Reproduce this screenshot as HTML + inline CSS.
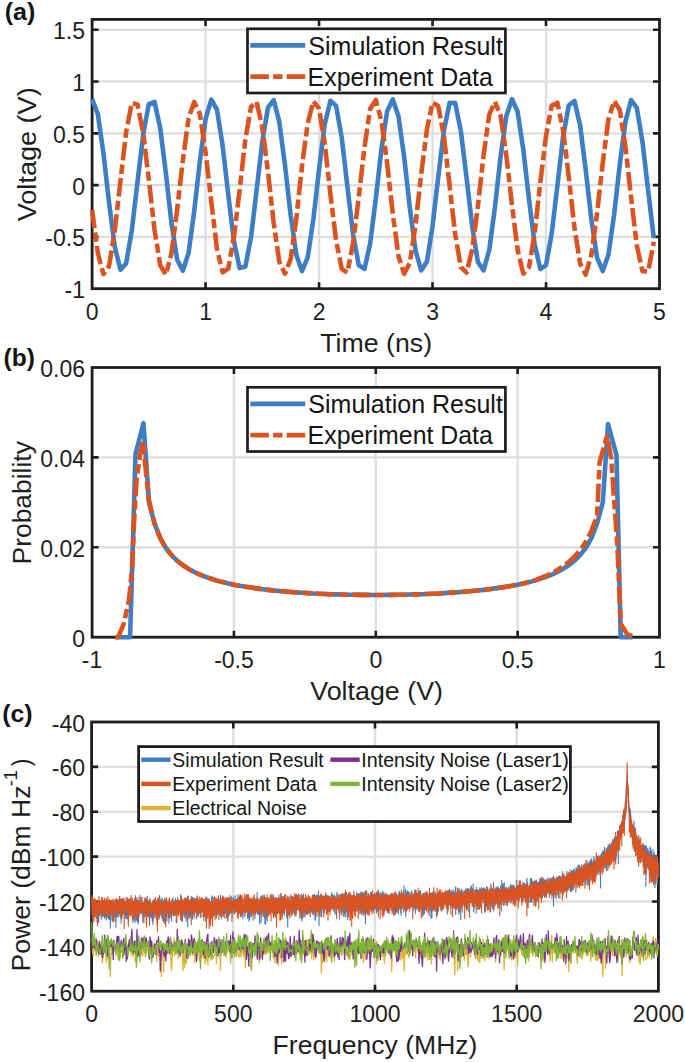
<!DOCTYPE html>
<html><head><meta charset="utf-8"><style>html,body{margin:0;padding:0;background:#fff;}svg{display:block;}</style></head>
<body><svg width="685" height="1062" viewBox="0 0 685 1062" font-family="'Liberation Sans', sans-serif"><defs>
<clipPath id="ca"><rect x="92.1" y="19.4" width="567.4" height="269.3"/></clipPath>
<clipPath id="cb"><rect x="92.1" y="367.5" width="567.4" height="269.70000000000005"/></clipPath>
<clipPath id="cc"><rect x="91.6" y="722.0" width="566.8" height="269.20000000000005"/></clipPath>
</defs>
<path d="M92.10 19.40V288.70M205.58 19.40V288.70M319.06 19.40V288.70M432.54 19.40V288.70M546.02 19.40V288.70M659.50 19.40V288.70M92.10 288.70H659.50M92.10 236.91H659.50M92.10 185.12H659.50M92.10 133.33H659.50M92.10 81.55H659.50M92.10 29.76H659.50" stroke="#dedede" stroke-width="2.4" fill="none"/>
<path d="M205.58 288.70v-6.5M205.58 19.40v6.5M319.06 288.70v-6.5M319.06 19.40v6.5M432.54 288.70v-6.5M432.54 19.40v6.5M546.02 288.70v-6.5M546.02 19.40v6.5M92.10 236.91h6.5M659.50 236.91h-6.5M92.10 185.12h6.5M659.50 185.12h-6.5M92.10 133.33h6.5M659.50 133.33h-6.5M92.10 81.55h6.5M659.50 81.55h-6.5M92.10 29.76h6.5M659.50 29.76h-6.5" stroke="#1e1e1e" stroke-width="2.6" fill="none"/>
<rect x="92.10" y="19.40" width="567.40" height="269.30" stroke="#1e1e1e" stroke-width="2.8" fill="none"/>
<g>
<path d="M92.1 99.2L97.8 113.9L103.4 153.0L109.1 203.1L114.8 247.0L120.5 269.8L126.1 263.6L131.8 230.5L137.5 181.9L143.2 134.4L148.8 104.2L154.5 101.8L160.2 127.9L165.9 173.5L171.5 223.2L177.2 259.8L182.9 270.8L188.6 252.6L194.2 211.2L199.9 160.9L205.6 118.9L211.3 99.6L216.9 109.5L222.6 145.4L228.3 194.8L233.9 241.0L239.6 268.0L245.3 266.6L251.0 237.4L256.6 190.3L262.3 141.4L268.0 107.5L273.7 100.1L279.3 121.9L285.0 165.3L290.7 215.5L296.4 255.3L302.0 271.1L307.7 257.4L313.4 219.0L319.1 169.0L324.7 124.5L330.4 100.8L336.1 105.9L341.8 138.2L347.4 186.5L353.1 234.3L358.8 265.3L364.5 268.9L370.1 243.8L375.8 198.6L381.5 148.8L387.1 111.4L392.8 99.3L398.5 116.5L404.2 157.3L409.8 207.5L415.5 250.1L421.2 270.5L426.9 261.6L432.5 226.5L438.2 177.3L443.9 130.7L449.6 102.8L455.2 103.0L460.9 131.4L466.6 178.1L472.3 227.2L477.9 262.0L483.6 270.4L489.3 249.6L495.0 206.8L500.6 156.5L506.3 116.1L512.0 99.2L517.6 111.8L523.3 149.5L529.0 199.4L534.7 244.4L540.3 269.1L546.0 265.1L551.7 233.7L557.4 185.7L563.0 137.5L568.7 105.6L574.4 100.9L580.1 125.1L585.7 169.8L591.4 219.8L597.1 257.9L602.8 271.0L608.4 254.8L614.1 214.8L619.8 164.5L625.5 121.4L631.1 100.0L636.8 107.8L642.5 142.1L648.2 191.1L653.8 238.0" fill="none" stroke="#3d7ec4" stroke-width="4.6" stroke-linejoin="round"/>
<path d="M92.1 209.8L97.8 252.8L103.4 274.2L109.1 265.9L114.8 230.2L120.5 180.7L126.1 132.5L131.8 102.9L137.5 104.4L143.2 133.1L148.8 179.5L154.5 229.5L160.2 265.1L165.9 274.7L171.5 253.1L177.2 209.2L182.9 159.9L188.6 118.0L194.2 101.9L199.9 113.9L205.6 152.4L211.3 201.6L216.9 248.3L222.6 272.3L228.3 268.5L233.9 237.1L239.6 190.4L245.3 139.9L251.0 106.9L256.6 101.8L262.3 127.5L268.0 171.9L273.7 223.0L279.3 261.6L285.0 273.7L290.7 259.0L296.4 217.9L302.0 166.2L307.7 123.5L313.4 101.2L319.1 108.7L324.7 143.3L330.4 194.0L336.1 240.7L341.8 269.1L347.4 272.6L353.1 243.0L358.8 196.7L364.5 147.2L370.1 108.9L375.8 100.0L381.5 121.5L387.1 163.1L392.8 213.7L398.5 256.2L404.2 273.8L409.8 263.0L415.5 225.1L421.2 174.1L426.9 129.6L432.5 102.6L438.2 105.9L443.9 136.1L449.6 185.5L455.2 234.3L460.9 267.3L466.6 272.5L472.3 249.0L477.9 206.3L483.6 155.1L489.3 114.4L495.0 101.8L500.6 115.7L506.3 155.3L512.0 205.0L517.6 249.9L523.3 273.7L529.0 267.1L534.7 233.3L540.3 182.4L546.0 135.9L551.7 105.5L557.4 102.7L563.0 129.7L568.7 176.2L574.4 227.3L580.1 263.4L585.7 274.7L591.4 254.6L597.1 212.9L602.8 162.4L608.4 119.4L614.1 100.8L619.8 110.0L625.5 147.4L631.1 197.2L636.8 245.4L642.5 271.3L648.2 271.4L653.8 241.8" fill="none" stroke="#d95420" stroke-width="4.6" stroke-linejoin="round" stroke-dasharray="18.6 4.2 9.4 4.2"/>
</g>
<text x="92.10" y="319.50" text-anchor="middle" font-size="23" fill="#1e1e1e">0</text>
<text x="205.58" y="319.50" text-anchor="middle" font-size="23" fill="#1e1e1e">1</text>
<text x="319.06" y="319.50" text-anchor="middle" font-size="23" fill="#1e1e1e">2</text>
<text x="432.54" y="319.50" text-anchor="middle" font-size="23" fill="#1e1e1e">3</text>
<text x="546.02" y="319.50" text-anchor="middle" font-size="23" fill="#1e1e1e">4</text>
<text x="659.50" y="319.50" text-anchor="middle" font-size="23" fill="#1e1e1e">5</text>
<text x="85.00" y="298.20" text-anchor="end" font-size="23" fill="#1e1e1e">-1</text>
<text x="85.00" y="246.41" text-anchor="end" font-size="23" fill="#1e1e1e">-0.5</text>
<text x="85.00" y="194.62" text-anchor="end" font-size="23" fill="#1e1e1e">0</text>
<text x="85.00" y="142.83" text-anchor="end" font-size="23" fill="#1e1e1e">0.5</text>
<text x="85.00" y="91.05" text-anchor="end" font-size="23" fill="#1e1e1e">1</text>
<text x="85.00" y="39.26" text-anchor="end" font-size="23" fill="#1e1e1e">1.5</text>
<path d="M92.10 367.50V637.20M233.95 367.50V637.20M375.80 367.50V637.20M517.65 367.50V637.20M659.50 367.50V637.20M92.10 637.20H659.50M92.10 547.30H659.50M92.10 457.40H659.50M92.10 367.50H659.50" stroke="#dedede" stroke-width="2.4" fill="none"/>
<path d="M233.95 637.20v-6.5M233.95 367.50v6.5M375.80 637.20v-6.5M375.80 367.50v6.5M517.65 637.20v-6.5M517.65 367.50v6.5M92.10 547.30h6.5M659.50 547.30h-6.5M92.10 457.40h6.5M659.50 457.40h-6.5" stroke="#1e1e1e" stroke-width="2.6" fill="none"/>
<rect x="92.10" y="367.50" width="567.40" height="269.70" stroke="#1e1e1e" stroke-width="2.8" fill="none"/>
<g>
<path d="M115.6 637.2L130.1 637.2L135.5 454.3L143.4 423.2L149.1 502.8L154.5 523.4L160.2 538.1L165.9 548.0L171.5 555.2L177.2 560.8L182.9 565.3L188.6 568.9L194.2 572.0L199.9 574.6L205.6 576.9L211.3 578.8L216.9 580.6L222.6 582.1L228.3 583.4L234.0 584.7L239.6 585.8L245.3 586.7L251.0 587.6L256.6 588.4L262.3 589.2L268.0 589.9L273.7 590.5L279.3 591.0L285.0 591.5L290.7 592.0L296.4 592.4L302.0 592.8L307.7 593.1L313.4 593.5L319.1 593.7L324.7 594.0L330.4 594.2L336.1 594.4L341.8 594.5L347.4 594.7L353.1 594.8L358.8 594.9L364.5 594.9L370.1 595.0L375.8 595.0L381.5 595.0L387.1 594.9L392.8 594.9L398.5 594.8L404.2 594.7L409.8 594.5L415.5 594.4L421.2 594.2L426.9 594.0L432.5 593.7L438.2 593.5L443.9 593.1L449.6 592.8L455.2 592.4L460.9 592.0L466.6 591.5L472.3 591.0L477.9 590.5L483.6 589.9L489.3 589.2L495.0 588.4L500.6 587.6L506.3 586.7L512.0 585.8L517.7 584.7L523.3 583.4L529.0 582.1L534.7 580.6L540.3 578.8L546.0 576.9L551.7 574.6L557.4 572.0L563.0 568.9L568.7 565.3L574.4 560.8L580.1 555.2L585.7 548.0L591.4 538.1L597.1 523.4L602.8 502.4L608.0 424.1L616.5 455.2L620.7 637.2L632.4 637.2" fill="none" stroke="#3d7ec4" stroke-width="4.6" stroke-linejoin="round"/>
<path d="M115.6 637.2L118.2 637.2L123.9 623.3L129.0 599.9L132.1 568.4L134.4 515.4L136.6 479.9L139.8 456.1L142.9 441.2L148.8 500.1L154.5 523.4L160.2 538.1L165.9 548.0L171.5 555.2L177.2 560.8L182.9 565.3L188.6 568.9L194.2 572.0L199.9 574.6L205.6 576.9L211.3 578.8L216.9 580.6L222.6 582.1L228.3 583.4L234.0 584.7L239.6 585.8L245.3 586.7L251.0 587.6L256.6 588.4L262.3 589.2L268.0 589.9L273.7 590.5L279.3 591.0L285.0 591.5L290.7 592.0L296.4 592.4L302.0 592.8L307.7 593.1L313.4 593.5L319.1 593.7L324.7 594.0L330.4 594.2L336.1 594.4L341.8 594.5L347.4 594.7L353.1 594.8L358.8 594.9L364.5 594.9L370.1 595.0L375.8 595.0L381.5 595.0L387.1 594.9L392.8 594.9L398.5 594.8L404.2 594.7L409.8 594.5L415.5 594.4L421.2 594.2L426.9 594.0L432.5 593.7L438.2 593.5L443.9 593.1L449.6 592.8L455.2 592.4L460.9 592.0L466.6 591.5L472.3 591.0L477.9 590.5L483.6 589.9L489.3 589.2L495.0 588.4L500.6 587.6L506.3 586.7L512.0 585.8L517.7 584.7L523.3 583.4L529.0 582.1L534.7 580.4L540.3 578.2L546.0 575.8L551.7 573.1L557.4 570.0L563.0 566.3L568.7 562.0L574.4 556.8L580.1 550.4L585.7 542.0L591.4 531.1L597.1 515.5L599.6 462.3L607.0 435.8L611.2 458.3L617.5 547.3L620.7 623.7L627.2 634.1L634.5 637.2" fill="none" stroke="#d95420" stroke-width="4.6" stroke-linejoin="round" stroke-dasharray="18.6 4.2 9.4 4.2"/>
</g>
<text x="92.10" y="668.00" text-anchor="middle" font-size="23" fill="#1e1e1e">-1</text>
<text x="233.95" y="668.00" text-anchor="middle" font-size="23" fill="#1e1e1e">-0.5</text>
<text x="375.80" y="668.00" text-anchor="middle" font-size="23" fill="#1e1e1e">0</text>
<text x="517.65" y="668.00" text-anchor="middle" font-size="23" fill="#1e1e1e">0.5</text>
<text x="659.50" y="668.00" text-anchor="middle" font-size="23" fill="#1e1e1e">1</text>
<text x="85.00" y="646.70" text-anchor="end" font-size="23" fill="#1e1e1e">0</text>
<text x="85.00" y="556.80" text-anchor="end" font-size="23" fill="#1e1e1e">0.02</text>
<text x="85.00" y="466.90" text-anchor="end" font-size="23" fill="#1e1e1e">0.04</text>
<text x="85.00" y="377.00" text-anchor="end" font-size="23" fill="#1e1e1e">0.06</text>
<path d="M91.60 722.00V991.20M233.30 722.00V991.20M375.00 722.00V991.20M516.70 722.00V991.20M658.40 722.00V991.20M91.60 991.20H658.40M91.60 946.33H658.40M91.60 901.47H658.40M91.60 856.60H658.40M91.60 811.73H658.40M91.60 766.87H658.40M91.60 722.00H658.40" stroke="#dedede" stroke-width="2.4" fill="none"/>
<path d="M233.30 991.20v-6.5M233.30 722.00v6.5M375.00 991.20v-6.5M375.00 722.00v6.5M516.70 991.20v-6.5M516.70 722.00v6.5M91.60 946.33h6.5M658.40 946.33h-6.5M91.60 901.47h6.5M658.40 901.47h-6.5M91.60 856.60h6.5M658.40 856.60h-6.5M91.60 811.73h6.5M658.40 811.73h-6.5M91.60 766.87h6.5M658.40 766.87h-6.5" stroke="#1e1e1e" stroke-width="2.6" fill="none"/>
<rect x="91.60" y="722.00" width="566.80" height="269.20" stroke="#1e1e1e" stroke-width="2.8" fill="none"/>
<g>
<path d="M91.6 901.0L91.7 898.6L91.8 904.0L91.9 907.3L92.0 909.3L92.1 905.0L92.2 914.2L92.3 908.2L92.4 907.1L92.5 903.8L92.5 907.9L92.6 909.0L92.7 914.8L92.8 921.9L92.9 919.0L93.0 913.0L93.1 907.7L93.2 902.6L93.3 908.7L93.4 909.2L93.5 903.2L93.6 908.6L93.7 911.7L93.8 902.6L93.9 903.8L94.0 912.1L94.1 911.4L94.2 901.7L94.2 909.9L94.3 912.8L94.4 912.0L94.5 906.7L94.6 916.9L94.7 911.8L94.8 904.8L94.9 908.0L95.0 906.1L95.1 909.1L95.2 915.3L95.3 911.0L95.4 908.5L95.5 911.1L95.6 909.9L95.7 908.2L95.8 905.1L95.9 911.4L95.9 903.9L96.0 909.1L96.1 904.6L96.2 904.0L96.3 901.5L96.4 904.3L96.5 904.2L96.6 901.6L96.7 918.5L96.8 914.0L96.9 904.3L97.0 921.7L97.1 908.1L97.2 908.1L97.3 917.3L97.4 913.7L97.5 905.9L97.6 906.3L97.6 911.9L97.7 913.2L97.8 912.6L97.9 906.6L98.0 916.4L98.1 908.8L98.2 916.8L98.3 904.8L98.4 907.9L98.5 903.0L98.6 922.4L98.7 920.6L98.8 912.0L98.9 902.2L99.0 915.0L99.1 903.1L99.2 908.1L99.3 908.1L99.3 905.6L99.4 914.2L99.5 912.0L99.6 915.6L99.7 908.4L99.8 900.7L99.9 910.8L100.0 906.4L100.1 907.1L100.2 907.9L100.3 909.7L100.4 902.8L100.5 908.3L100.6 911.3L100.7 903.8L100.8 905.1L100.9 907.2L101.0 909.4L101.0 901.5L101.1 908.6L101.2 911.7L101.3 905.8L101.4 910.1L101.5 908.6L101.6 910.4L101.7 909.4L101.8 917.8L101.9 913.0L102.0 912.5L102.1 916.3L102.2 909.9L102.3 907.3L102.4 913.8L102.5 899.5L102.6 909.3L102.7 906.7L102.7 914.5L102.8 913.3L102.9 901.4L103.0 905.6L103.1 909.3L103.2 916.1L103.3 901.6L103.4 913.5L103.5 911.0L103.6 909.3L103.7 906.8L103.8 908.5L103.9 908.7L104.0 900.0L104.1 908.0L104.2 906.4L104.3 916.5L104.4 904.9L104.4 918.6L104.5 912.0L104.6 898.6L104.7 912.5L104.8 908.6L104.9 914.8L105.0 914.8L105.1 903.3L105.2 910.8L105.3 909.0L105.4 910.0L105.5 916.7L105.6 909.3L105.7 903.6L105.8 912.6L105.9 906.3L106.0 903.4L106.1 915.2L106.2 904.4L106.2 920.0L106.3 905.4L106.4 910.3L106.5 914.6L106.6 909.2L106.7 911.8L106.8 918.3L106.9 903.6L107.0 903.3L107.1 914.1L107.2 910.7L107.3 911.1L107.4 909.8L107.5 915.7L107.6 904.1L107.7 908.2L107.8 913.7L107.9 911.0L107.9 912.5L108.0 909.4L108.1 905.4L108.2 905.3L108.3 914.4L108.4 908.0L108.5 913.3L108.6 918.7L108.7 914.3L108.8 908.5L108.9 917.3L109.0 912.3L109.1 906.4L109.2 912.2L109.3 912.4L109.4 913.7L109.5 919.5L109.6 909.9L109.6 908.4L109.7 908.0L109.8 914.1L109.9 913.9L110.0 904.7L110.1 913.6L110.2 910.1L110.3 928.0L110.4 914.3L110.5 914.3L110.6 917.1L110.7 901.9L110.8 910.3L110.9 919.9L111.0 908.4L111.1 908.7L111.2 908.6L111.3 902.3L111.3 908.9L111.4 908.6L111.5 912.3L111.6 914.1L111.7 908.7L111.8 909.2L111.9 913.5L112.0 911.1L112.1 908.2L112.2 907.9L112.3 911.5L112.4 921.3L112.5 907.5L112.6 910.5L112.7 913.7L112.8 911.2L112.9 915.1L113.0 907.5L113.0 910.5L113.1 918.2L113.2 907.0L113.3 906.3L113.4 909.6L113.5 906.1L113.6 917.1L113.7 902.8L113.8 907.0L113.9 903.8L114.0 917.0L114.1 911.6L114.2 910.1L114.3 900.4L114.4 908.7L114.5 915.4L114.6 906.1L114.7 907.6L114.7 912.4L114.8 904.7L114.9 903.2L115.0 909.8L115.1 913.8L115.2 905.4L115.3 906.7L115.4 910.1L115.5 912.9L115.6 909.9L115.7 906.3L115.8 908.3L115.9 927.3L116.0 905.5L116.1 900.6L116.2 906.6L116.3 904.4L116.4 908.4L116.4 899.6L116.5 908.4L116.6 902.0L116.7 901.5L116.8 909.1L116.9 904.4L117.0 917.1L117.1 906.5L117.2 917.2L117.3 905.8L117.4 910.7L117.5 909.4L117.6 913.2L117.7 907.1L117.8 904.9L117.9 913.3L118.0 910.0L118.1 907.1L118.1 911.6L118.2 902.6L118.3 899.4L118.4 907.1L118.5 908.8L118.6 907.6L118.7 912.7L118.8 916.6L118.9 912.3L119.0 907.1L119.1 909.9L119.2 913.1L119.3 913.9L119.4 908.3L119.5 910.0L119.6 904.8L119.7 914.0L119.8 897.5L119.9 908.7L119.9 899.2L120.0 910.1L120.1 905.7L120.2 910.8L120.3 900.5L120.4 904.8L120.5 912.0L120.6 909.1L120.7 904.8L120.8 918.3L120.9 912.2L121.0 911.4L121.1 923.2L121.2 906.9L121.3 899.5L121.4 919.1L121.5 915.0L121.6 907.7L121.6 906.4L121.7 906.6L121.8 909.8L121.9 911.0L122.0 918.2L122.1 900.0L122.2 902.1L122.3 911.8L122.4 908.4L122.5 909.6L122.6 910.4L122.7 914.2L122.8 898.3L122.9 909.3L123.0 904.7L123.1 909.2L123.2 906.8L123.3 901.1L123.3 907.7L123.4 901.4L123.5 911.7L123.6 904.9L123.7 901.7L123.8 904.5L123.9 911.7L124.0 913.2L124.1 910.0L124.2 911.6L124.3 906.5L124.4 909.1L124.5 912.2L124.6 915.1L124.7 911.6L124.8 908.4L124.9 904.7L125.0 906.3L125.0 905.0L125.1 902.4L125.2 906.2L125.3 916.6L125.4 909.4L125.5 916.0L125.6 907.6L125.7 918.4L125.8 908.5L125.9 907.6L126.0 905.4L126.1 908.3L126.2 897.3L126.3 910.5L126.4 904.3L126.5 910.6L126.6 913.5L126.7 910.6L126.7 916.5L126.8 907.3L126.9 918.9L127.0 904.3L127.1 908.5L127.2 905.0L127.3 914.7L127.4 901.5L127.5 902.7L127.6 903.6L127.7 908.9L127.8 904.4L127.9 908.5L128.0 902.5L128.1 918.6L128.2 908.0L128.3 902.0L128.4 904.2L128.4 903.9L128.5 904.4L128.6 907.3L128.7 913.2L128.8 905.8L128.9 910.4L129.0 909.5L129.1 908.7L129.2 908.1L129.3 913.4L129.4 904.8L129.5 907.1L129.6 902.8L129.7 899.2L129.8 904.5L129.9 907.5L130.0 915.7L130.1 908.3L130.1 907.1L130.2 906.6L130.3 907.8L130.4 910.8L130.5 903.8L130.6 907.3L130.7 903.2L130.8 911.9L130.9 906.5L131.0 902.5L131.1 902.5L131.2 914.2L131.3 908.5L131.4 909.9L131.5 902.5L131.6 906.0L131.7 911.5L131.8 908.2L131.8 910.6L131.9 907.9L132.0 910.3L132.1 906.9L132.2 902.4L132.3 898.3L132.4 904.2L132.5 899.8L132.6 920.2L132.7 904.8L132.8 904.5L132.9 905.8L133.0 908.4L133.1 922.6L133.2 913.8L133.3 909.2L133.4 906.1L133.5 913.0L133.6 908.1L133.6 908.8L133.7 908.7L133.8 907.9L133.9 905.2L134.0 909.8L134.1 908.8L134.2 913.0L134.3 910.1L134.4 912.5L134.5 906.0L134.6 899.2L134.7 900.1L134.8 911.6L134.9 905.8L135.0 907.7L135.1 919.0L135.2 922.2L135.3 911.9L135.3 909.1L135.4 916.3L135.5 914.0L135.6 913.3L135.7 913.9L135.8 915.9L135.9 909.6L136.0 905.2L136.1 907.0L136.2 913.4L136.3 909.2L136.4 908.2L136.5 920.3L136.6 903.8L136.7 912.3L136.8 916.0L136.9 897.6L137.0 914.2L137.0 910.1L137.1 912.5L137.2 903.8L137.3 909.9L137.4 917.1L137.5 922.3L137.6 911.3L137.7 899.7L137.8 914.5L137.9 902.6L138.0 913.2L138.1 917.5L138.2 923.8L138.3 909.3L138.4 907.1L138.5 909.0L138.6 921.5L138.7 911.8L138.7 906.8L138.8 911.4L138.9 906.2L139.0 916.5L139.1 897.3L139.2 914.7L139.3 909.0L139.4 909.0L139.5 904.3L139.6 910.2L139.7 908.2L139.8 908.8L139.9 906.1L140.0 906.1L140.1 908.6L140.2 904.3L140.3 901.8L140.4 912.0L140.4 911.6L140.5 911.8L140.6 912.2L140.7 911.9L140.8 908.1L140.9 904.8L141.0 912.1L141.1 906.3L141.2 910.6L141.3 897.5L141.4 907.2L141.5 904.9L141.6 913.8L141.7 913.1L141.8 907.4L141.9 912.6L142.0 908.7L142.1 903.0L142.1 912.4L142.2 913.0L142.3 907.6L142.4 909.8L142.5 905.4L142.6 909.2L142.7 914.4L142.8 921.9L142.9 906.8L143.0 912.3L143.1 907.9L143.2 919.4L143.3 912.6L143.4 906.7L143.5 903.6L143.6 903.5L143.7 902.6L143.8 908.6L143.8 903.9L143.9 906.8L144.0 909.8L144.1 910.9L144.2 912.8L144.3 903.6L144.4 908.3L144.5 912.4L144.6 909.1L144.7 900.1L144.8 916.7L144.9 916.4L145.0 901.9L145.1 916.8L145.2 902.0L145.3 911.5L145.4 906.4L145.5 902.4L145.5 902.3L145.6 904.6L145.7 908.5L145.8 909.8L145.9 909.7L146.0 901.3L146.1 906.7L146.2 902.9L146.3 924.1L146.4 910.2L146.5 906.8L146.6 910.4L146.7 899.0L146.8 914.9L146.9 905.7L147.0 904.0L147.1 912.9L147.2 904.1L147.3 906.2L147.3 896.1L147.4 901.5L147.5 908.5L147.6 903.6L147.7 906.2L147.8 910.7L147.9 905.0L148.0 905.7L148.1 900.9L148.2 916.5L148.3 916.2L148.4 912.5L148.5 905.0L148.6 903.1L148.7 908.8L148.8 906.9L148.9 908.0L149.0 918.1L149.0 912.8L149.1 903.8L149.2 904.1L149.3 902.6L149.4 904.8L149.5 925.3L149.6 906.7L149.7 906.3L149.8 916.0L149.9 899.8L150.0 908.9L150.1 903.6L150.2 904.3L150.3 905.1L150.4 901.6L150.5 908.9L150.6 903.6L150.7 905.9L150.7 915.2L150.8 911.6L150.9 915.0L151.0 917.5L151.1 905.7L151.2 916.6L151.3 903.4L151.4 909.5L151.5 909.5L151.6 915.4L151.7 906.2L151.8 913.2L151.9 904.9L152.0 904.7L152.1 918.6L152.2 905.7L152.3 921.3L152.4 904.1L152.4 921.8L152.5 914.1L152.6 902.0L152.7 907.0L152.8 904.7L152.9 924.6L153.0 904.3L153.1 912.8L153.2 900.6L153.3 907.8L153.4 908.6L153.5 918.0L153.6 913.3L153.7 908.3L153.8 901.8L153.9 902.1L154.0 909.5L154.1 914.8L154.1 915.3L154.2 900.4L154.3 906.6L154.4 914.2L154.5 901.1L154.6 905.3L154.7 904.3L154.8 903.9L154.9 906.3L155.0 910.8L155.1 918.1L155.2 916.0L155.3 913.0L155.4 905.5L155.5 912.1L155.6 904.1L155.7 903.6L155.8 901.0L155.8 900.9L155.9 900.6L156.0 906.8L156.1 907.2L156.2 911.4L156.3 906.6L156.4 907.3L156.5 911.6L156.6 919.5L156.7 901.6L156.8 905.1L156.9 913.5L157.0 910.4L157.1 904.1L157.2 910.8L157.3 906.3L157.4 902.8L157.5 903.7L157.5 908.5L157.6 912.7L157.7 909.7L157.8 904.1L157.9 908.7L158.0 900.3L158.1 899.7L158.2 900.9L158.3 904.2L158.4 914.6L158.5 900.1L158.6 904.0L158.7 911.3L158.8 912.5L158.9 911.0L159.0 906.9L159.1 916.1L159.2 902.2L159.2 909.6L159.3 904.9L159.4 918.0L159.5 895.4L159.6 902.8L159.7 908.2L159.8 914.6L159.9 900.8L160.0 909.9L160.1 910.0L160.2 912.8L160.3 915.0L160.4 908.2L160.5 907.6L160.6 910.0L160.7 914.1L160.8 900.9L160.9 900.5L161.0 912.6L161.0 901.8L161.1 907.6L161.2 908.2L161.3 898.9L161.4 899.3L161.5 910.2L161.6 904.4L161.7 911.3L161.8 918.0L161.9 903.7L162.0 905.7L162.1 904.4L162.2 898.2L162.3 909.5L162.4 905.5L162.5 907.2L162.6 920.3L162.7 909.1L162.7 917.8L162.8 907.8L162.9 914.2L163.0 914.7L163.1 901.4L163.2 910.4L163.3 909.6L163.4 906.4L163.5 922.2L163.6 913.4L163.7 912.4L163.8 906.0L163.9 906.9L164.0 911.6L164.1 900.1L164.2 911.1L164.3 912.6L164.4 906.2L164.4 912.2L164.5 902.3L164.6 906.6L164.7 912.1L164.8 898.2L164.9 910.4L165.0 908.4L165.1 906.6L165.2 906.5L165.3 906.2L165.4 916.0L165.5 907.9L165.6 921.3L165.7 909.6L165.8 908.9L165.9 905.5L166.0 912.7L166.1 906.8L166.1 910.6L166.2 907.8L166.3 913.5L166.4 903.5L166.5 903.8L166.6 918.0L166.7 909.7L166.8 910.3L166.9 921.1L167.0 915.8L167.1 909.7L167.2 915.5L167.3 907.6L167.4 904.8L167.5 911.8L167.6 905.3L167.7 901.8L167.8 911.8L167.8 902.7L167.9 902.6L168.0 901.8L168.1 908.0L168.2 906.7L168.3 912.6L168.4 903.8L168.5 904.3L168.6 906.1L168.7 908.0L168.8 911.6L168.9 923.1L169.0 911.1L169.1 918.8L169.2 908.7L169.3 912.6L169.4 897.8L169.5 911.3L169.5 913.2L169.6 899.8L169.7 917.9L169.8 902.3L169.9 902.1L170.0 908.3L170.1 915.7L170.2 911.1L170.3 907.1L170.4 903.6L170.5 905.1L170.6 905.6L170.7 910.1L170.8 902.7L170.9 913.7L171.0 911.6L171.1 906.9L171.2 904.0L171.2 905.4L171.3 905.2L171.4 910.4L171.5 903.0L171.6 921.2L171.7 911.4L171.8 915.6L171.9 914.0L172.0 905.6L172.1 903.8L172.2 913.4L172.3 907.8L172.4 899.3L172.5 906.2L172.6 901.0L172.7 902.7L172.8 902.2L172.9 909.3L172.9 905.8L173.0 897.8L173.1 911.9L173.2 914.1L173.3 901.8L173.4 910.8L173.5 907.3L173.6 904.6L173.7 909.7L173.8 908.8L173.9 914.4L174.0 908.3L174.1 915.3L174.2 905.6L174.3 907.1L174.4 902.5L174.5 908.9L174.6 902.6L174.7 902.1L174.7 901.8L174.8 903.9L174.9 905.4L175.0 906.2L175.1 910.1L175.2 907.9L175.3 907.8L175.4 898.5L175.5 914.7L175.6 909.0L175.7 906.3L175.8 913.0L175.9 904.1L176.0 911.1L176.1 905.8L176.2 907.4L176.3 922.5L176.4 904.7L176.4 915.1L176.5 906.0L176.6 900.9L176.7 903.5L176.8 907.7L176.9 907.3L177.0 906.7L177.1 908.8L177.2 912.3L177.3 907.6L177.4 907.9L177.5 898.6L177.6 905.1L177.7 897.9L177.8 907.8L177.9 905.8L178.0 907.4L178.1 912.2L178.1 912.9L178.2 909.0L178.3 902.9L178.4 913.6L178.5 915.4L178.6 907.8L178.7 911.0L178.8 911.4L178.9 900.4L179.0 907.9L179.1 904.9L179.2 908.0L179.3 903.9L179.4 908.1L179.5 908.6L179.6 904.4L179.7 908.1L179.8 901.7L179.8 911.5L179.9 900.8L180.0 914.0L180.1 909.9L180.2 907.1L180.3 914.2L180.4 911.0L180.5 904.2L180.6 909.0L180.7 911.8L180.8 904.1L180.9 907.2L181.0 904.9L181.1 901.0L181.2 907.7L181.3 906.0L181.4 896.0L181.5 920.5L181.5 906.7L181.6 912.0L181.7 905.6L181.8 912.2L181.9 910.1L182.0 915.3L182.1 904.1L182.2 907.6L182.3 909.2L182.4 913.5L182.5 902.1L182.6 917.9L182.7 902.6L182.8 905.7L182.9 910.5L183.0 907.2L183.1 916.3L183.2 901.2L183.2 915.1L183.3 910.7L183.4 903.4L183.5 909.7L183.6 906.5L183.7 906.7L183.8 911.4L183.9 910.2L184.0 899.7L184.1 903.4L184.2 904.8L184.3 907.3L184.4 912.5L184.5 915.2L184.6 904.7L184.7 910.8L184.8 909.1L184.9 914.0L184.9 917.7L185.0 907.1L185.1 912.8L185.2 898.9L185.3 900.2L185.4 909.1L185.5 902.3L185.6 912.4L185.7 902.3L185.8 898.4L185.9 904.5L186.0 898.1L186.1 921.3L186.2 907.9L186.3 908.9L186.4 904.3L186.5 907.5L186.6 904.6L186.6 906.8L186.7 912.2L186.8 915.2L186.9 902.6L187.0 911.3L187.1 904.8L187.2 905.7L187.3 910.1L187.4 916.5L187.5 906.4L187.6 901.7L187.7 926.8L187.8 915.7L187.9 896.6L188.0 906.7L188.1 905.4L188.2 901.2L188.3 900.0L188.3 905.7L188.4 903.7L188.5 910.9L188.6 907.4L188.7 914.6L188.8 904.2L188.9 904.8L189.0 904.7L189.1 904.4L189.2 918.8L189.3 908.5L189.4 912.5L189.5 909.1L189.6 904.7L189.7 900.6L189.8 908.4L189.9 911.4L190.0 910.0L190.1 908.0L190.1 908.5L190.2 906.3L190.3 904.1L190.4 916.8L190.5 917.2L190.6 911.2L190.7 910.4L190.8 900.7L190.9 908.8L191.0 902.9L191.1 913.5L191.2 915.3L191.3 896.2L191.4 902.6L191.5 913.3L191.6 908.3L191.7 898.6L191.8 905.2L191.8 910.2L191.9 902.9L192.0 905.0L192.1 919.8L192.2 897.3L192.3 902.3L192.4 907.6L192.5 910.2L192.6 911.4L192.7 918.8L192.8 906.6L192.9 910.9L193.0 913.9L193.1 911.5L193.2 897.9L193.3 910.9L193.4 902.0L193.5 900.4L193.5 906.7L193.6 903.4L193.7 912.9L193.8 909.0L193.9 906.5L194.0 912.5L194.1 912.2L194.2 898.4L194.3 901.5L194.4 907.4L194.5 913.1L194.6 906.5L194.7 913.0L194.8 908.4L194.9 907.0L195.0 906.3L195.1 910.6L195.2 903.4L195.2 901.1L195.3 909.0L195.4 906.1L195.5 909.7L195.6 906.1L195.7 900.9L195.8 910.0L195.9 911.0L196.0 908.1L196.1 908.9L196.2 906.0L196.3 906.8L196.4 918.7L196.5 901.7L196.6 909.0L196.7 907.6L196.8 910.1L196.9 901.4L196.9 902.4L197.0 906.6L197.1 904.7L197.2 905.7L197.3 911.2L197.4 908.4L197.5 900.3L197.6 904.3L197.7 896.9L197.8 904.3L197.9 915.2L198.0 904.9L198.1 908.2L198.2 915.4L198.3 915.5L198.4 901.6L198.5 902.7L198.6 911.7L198.6 908.9L198.7 907.8L198.8 903.9L198.9 905.8L199.0 900.3L199.1 909.3L199.2 899.6L199.3 903.3L199.4 906.0L199.5 906.5L199.6 904.3L199.7 902.8L199.8 908.4L199.9 909.2L200.0 908.3L200.1 908.9L200.2 902.6L200.3 903.6L200.3 916.8L200.4 909.6L200.5 913.6L200.6 908.1L200.7 909.1L200.8 910.9L200.9 904.0L201.0 909.3L201.1 906.0L201.2 908.2L201.3 904.0L201.4 904.2L201.5 908.4L201.6 905.0L201.7 906.2L201.8 900.5L201.9 911.1L202.0 906.0L202.0 907.1L202.1 908.0L202.2 898.2L202.3 905.5L202.4 902.0L202.5 901.8L202.6 905.5L202.7 905.3L202.8 911.1L202.9 910.4L203.0 906.5L203.1 916.9L203.2 902.7L203.3 899.3L203.4 913.7L203.5 904.6L203.6 902.4L203.7 910.0L203.8 910.9L203.8 915.3L203.9 904.0L204.0 907.1L204.1 904.9L204.2 911.1L204.3 906.6L204.4 902.4L204.5 906.7L204.6 903.4L204.7 901.6L204.8 906.0L204.9 904.2L205.0 902.3L205.1 902.6L205.2 901.0L205.3 906.2L205.4 907.8L205.5 897.6L205.5 906.0L205.6 904.1L205.7 898.3L205.8 921.2L205.9 908.6L206.0 920.4L206.1 901.3L206.2 896.7L206.3 907.7L206.4 904.2L206.5 903.3L206.6 917.6L206.7 908.6L206.8 905.0L206.9 914.6L207.0 909.5L207.1 901.5L207.2 904.3L207.2 912.8L207.3 911.9L207.4 904.5L207.5 914.5L207.6 910.9L207.7 907.3L207.8 902.3L207.9 909.9L208.0 908.3L208.1 906.1L208.2 909.0L208.3 908.0L208.4 899.9L208.5 899.5L208.6 904.8L208.7 905.2L208.8 905.5L208.9 900.7L208.9 908.3L209.0 902.0L209.1 902.9L209.2 899.1L209.3 902.2L209.4 908.5L209.5 904.7L209.6 904.9L209.7 911.1L209.8 908.8L209.9 912.9L210.0 915.6L210.1 903.7L210.2 913.7L210.3 905.9L210.4 910.1L210.5 901.9L210.6 904.8L210.6 904.6L210.7 902.6L210.8 906.0L210.9 912.9L211.0 906.4L211.1 904.7L211.2 906.9L211.3 905.2L211.4 913.5L211.5 905.4L211.6 897.4L211.7 911.4L211.8 911.3L211.9 895.7L212.0 903.2L212.1 898.6L212.2 901.0L212.3 914.7L212.3 899.9L212.4 905.5L212.5 910.3L212.6 903.4L212.7 904.7L212.8 904.1L212.9 913.2L213.0 897.1L213.1 907.2L213.2 902.1L213.3 916.2L213.4 913.3L213.5 903.9L213.6 902.7L213.7 910.0L213.8 903.1L213.9 910.0L214.0 909.4L214.0 910.1L214.1 912.1L214.2 914.5L214.3 906.2L214.4 901.7L214.5 903.3L214.6 896.8L214.7 907.6L214.8 904.7L214.9 910.8L215.0 906.1L215.1 902.0L215.2 905.1L215.3 911.2L215.4 912.1L215.5 909.7L215.6 912.7L215.7 913.4L215.7 905.7L215.8 913.8L215.9 910.9L216.0 904.6L216.1 917.5L216.2 903.8L216.3 912.2L216.4 914.4L216.5 908.3L216.6 909.3L216.7 908.2L216.8 900.3L216.9 906.3L217.0 915.7L217.1 909.0L217.2 904.7L217.3 905.4L217.4 912.1L217.5 909.2L217.5 910.0L217.6 913.6L217.7 907.0L217.8 910.0L217.9 907.6L218.0 906.2L218.1 910.1L218.2 900.2L218.3 905.9L218.4 907.6L218.5 906.2L218.6 900.5L218.7 912.3L218.8 903.1L218.9 912.5L219.0 904.1L219.1 913.6L219.2 907.9L219.2 910.3L219.3 908.9L219.4 902.3L219.5 901.8L219.6 906.7L219.7 910.0L219.8 902.5L219.9 912.9L220.0 914.9L220.1 907.1L220.2 907.2L220.3 905.6L220.4 906.6L220.5 895.2L220.6 911.0L220.7 908.7L220.8 910.4L220.9 902.2L220.9 910.7L221.0 913.1L221.1 907.5L221.2 909.8L221.3 905.1L221.4 918.9L221.5 902.8L221.6 905.3L221.7 908.5L221.8 909.9L221.9 904.7L222.0 908.1L222.1 904.8L222.2 898.7L222.3 906.3L222.4 901.6L222.5 903.7L222.6 909.8L222.6 900.7L222.7 903.1L222.8 911.8L222.9 905.0L223.0 898.5L223.1 902.2L223.2 902.9L223.3 908.8L223.4 906.6L223.5 904.3L223.6 910.3L223.7 916.5L223.8 899.3L223.9 910.1L224.0 899.3L224.1 907.5L224.2 911.3L224.3 912.6L224.3 901.6L224.4 908.2L224.5 914.1L224.6 904.6L224.7 906.5L224.8 909.8L224.9 910.1L225.0 910.1L225.1 906.5L225.2 909.2L225.3 912.8L225.4 901.8L225.5 900.3L225.6 907.4L225.7 906.4L225.8 901.8L225.9 910.0L226.0 904.7L226.0 900.8L226.1 907.7L226.2 918.5L226.3 913.2L226.4 910.3L226.5 906.6L226.6 916.3L226.7 914.9L226.8 904.4L226.9 897.3L227.0 903.3L227.1 907.2L227.2 901.1L227.3 901.3L227.4 901.7L227.5 913.4L227.6 898.2L227.7 914.5L227.7 908.1L227.8 921.1L227.9 904.9L228.0 907.5L228.1 903.3L228.2 907.8L228.3 913.3L228.4 906.8L228.5 914.7L228.6 897.4L228.7 916.3L228.8 903.3L228.9 912.5L229.0 910.5L229.1 909.4L229.2 902.7L229.3 906.3L229.4 905.8L229.4 914.4L229.5 902.5L229.6 907.7L229.7 908.8L229.8 899.8L229.9 902.0L230.0 906.0L230.1 902.7L230.2 912.9L230.3 907.1L230.4 905.3L230.5 908.4L230.6 909.8L230.7 906.9L230.8 912.8L230.9 906.8L231.0 901.0L231.1 903.6L231.2 904.9L231.2 909.2L231.3 897.3L231.4 905.8L231.5 912.0L231.6 896.8L231.7 897.1L231.8 905.7L231.9 903.0L232.0 904.0L232.1 905.2L232.2 902.2L232.3 909.5L232.4 909.4L232.5 911.4L232.6 904.0L232.7 906.0L232.8 906.5L232.9 901.4L232.9 908.7L233.0 906.9L233.1 903.7L233.2 897.6L233.3 897.7L233.4 902.6L233.5 905.4L233.6 902.8L233.7 902.7L233.8 901.3L233.9 906.2L234.0 914.1L234.1 902.6L234.2 908.3L234.3 905.9L234.4 909.8L234.5 904.9L234.6 913.5L234.6 907.5L234.7 902.6L234.8 907.2L234.9 907.6L235.0 900.0L235.1 895.5L235.2 906.7L235.3 907.3L235.4 911.3L235.5 904.3L235.6 901.3L235.7 904.4L235.8 908.2L235.9 903.3L236.0 905.7L236.1 907.7L236.2 911.6L236.3 903.8L236.3 905.7L236.4 899.9L236.5 909.2L236.6 905.3L236.7 903.6L236.8 908.5L236.9 907.5L237.0 907.2L237.1 903.9L237.2 898.5L237.3 903.3L237.4 914.2L237.5 910.6L237.6 906.1L237.7 902.4L237.8 904.8L237.9 902.8L238.0 909.8L238.0 894.9L238.1 907.3L238.2 914.4L238.3 905.6L238.4 897.8L238.5 910.8L238.6 902.9L238.7 903.6L238.8 898.8L238.9 904.2L239.0 901.7L239.1 904.3L239.2 903.4L239.3 910.6L239.4 911.8L239.5 904.6L239.6 905.8L239.7 905.0L239.7 900.0L239.8 912.9L239.9 905.9L240.0 900.5L240.1 912.7L240.2 910.8L240.3 916.6L240.4 902.7L240.5 903.6L240.6 914.4L240.7 900.5L240.8 908.3L240.9 907.5L241.0 903.5L241.1 902.1L241.2 911.0L241.3 904.6L241.4 906.2L241.4 899.3L241.5 909.8L241.6 899.4L241.7 916.4L241.8 902.9L241.9 898.8L242.0 902.6L242.1 899.8L242.2 901.0L242.3 914.0L242.4 909.1L242.5 900.3L242.6 904.4L242.7 906.4L242.8 899.2L242.9 903.4L243.0 918.4L243.1 912.1L243.1 905.3L243.2 907.8L243.3 911.1L243.4 907.0L243.5 908.0L243.6 905.9L243.7 906.2L243.8 907.6L243.9 908.2L244.0 905.8L244.1 906.6L244.2 905.8L244.3 906.0L244.4 910.3L244.5 904.8L244.6 911.7L244.7 903.2L244.8 898.2L244.9 906.3L244.9 905.4L245.0 896.3L245.1 906.2L245.2 911.7L245.3 903.8L245.4 910.7L245.5 902.5L245.6 912.6L245.7 905.2L245.8 904.3L245.9 900.5L246.0 903.7L246.1 911.9L246.2 904.6L246.3 905.2L246.4 898.8L246.5 907.7L246.6 906.9L246.6 903.6L246.7 906.8L246.8 911.3L246.9 909.6L247.0 905.0L247.1 905.8L247.2 910.8L247.3 906.8L247.4 905.3L247.5 918.3L247.6 914.5L247.7 917.9L247.8 915.7L247.9 904.6L248.0 905.1L248.1 916.6L248.2 902.4L248.3 901.2L248.3 905.6L248.4 903.9L248.5 903.8L248.6 909.0L248.7 899.0L248.8 910.7L248.9 907.9L249.0 921.1L249.1 902.2L249.2 909.1L249.3 898.3L249.4 915.0L249.5 898.7L249.6 919.8L249.7 906.6L249.8 905.8L249.9 908.0L250.0 899.1L250.0 910.8L250.1 907.5L250.2 905.6L250.3 906.1L250.4 907.2L250.5 903.9L250.6 907.1L250.7 899.6L250.8 909.9L250.9 906.1L251.0 903.6L251.1 903.1L251.2 899.4L251.3 908.7L251.4 901.4L251.5 906.0L251.6 916.8L251.7 901.9L251.7 912.9L251.8 908.4L251.9 903.5L252.0 908.7L252.1 910.6L252.2 903.4L252.3 901.2L252.4 908.9L252.5 907.6L252.6 903.9L252.7 905.5L252.8 907.1L252.9 897.9L253.0 907.3L253.1 910.5L253.2 907.8L253.3 904.1L253.4 909.5L253.4 910.9L253.5 914.4L253.6 896.9L253.7 903.2L253.8 912.2L253.9 903.5L254.0 903.8L254.1 900.5L254.2 910.9L254.3 900.5L254.4 902.1L254.5 912.1L254.6 904.9L254.7 904.7L254.8 904.3L254.9 918.8L255.0 904.6L255.1 907.7L255.1 902.0L255.2 904.8L255.3 908.8L255.4 911.0L255.5 907.1L255.6 904.5L255.7 906.1L255.8 913.5L255.9 898.9L256.0 901.9L256.1 905.4L256.2 904.8L256.3 903.2L256.4 904.6L256.5 906.7L256.6 900.7L256.7 906.5L256.8 907.2L256.8 905.5L256.9 906.2L257.0 904.9L257.1 892.6L257.2 908.2L257.3 903.5L257.4 901.7L257.5 913.7L257.6 907.0L257.7 914.1L257.8 909.3L257.9 913.9L258.0 904.7L258.1 908.7L258.2 901.0L258.3 907.1L258.4 907.6L258.5 908.7L258.6 910.0L258.6 901.0L258.7 913.0L258.8 900.3L258.9 906.7L259.0 912.5L259.1 905.2L259.2 908.9L259.3 909.1L259.4 900.0L259.5 902.8L259.6 923.9L259.7 906.7L259.8 906.8L259.9 908.2L260.0 898.8L260.1 910.3L260.2 910.1L260.3 905.0L260.3 900.6L260.4 913.7L260.5 906.7L260.6 907.3L260.7 902.8L260.8 896.2L260.9 901.9L261.0 908.0L261.1 909.8L261.2 922.3L261.3 905.4L261.4 901.6L261.5 902.5L261.6 908.5L261.7 898.7L261.8 911.9L261.9 900.7L262.0 903.3L262.0 908.6L262.1 900.9L262.2 911.6L262.3 910.4L262.4 904.0L262.5 897.4L262.6 901.5L262.7 909.0L262.8 898.3L262.9 895.3L263.0 904.2L263.1 905.1L263.2 911.1L263.3 911.2L263.4 913.5L263.5 910.9L263.6 914.6L263.7 907.2L263.7 909.6L263.8 907.7L263.9 903.6L264.0 911.4L264.1 909.5L264.2 905.1L264.3 895.3L264.4 901.6L264.5 917.5L264.6 902.4L264.7 903.2L264.8 907.1L264.9 924.0L265.0 910.3L265.1 904.0L265.2 897.4L265.3 901.1L265.4 907.3L265.4 907.3L265.5 903.0L265.6 903.3L265.7 899.2L265.8 924.0L265.9 905.4L266.0 906.7L266.1 908.7L266.2 907.4L266.3 909.1L266.4 909.7L266.5 915.1L266.6 908.9L266.7 903.2L266.8 900.2L266.9 905.9L267.0 897.6L267.1 898.7L267.1 917.9L267.2 904.6L267.3 904.8L267.4 902.4L267.5 900.0L267.6 907.5L267.7 900.7L267.8 916.4L267.9 902.4L268.0 912.2L268.1 912.2L268.2 901.1L268.3 909.0L268.4 902.3L268.5 905.8L268.6 904.0L268.7 907.3L268.8 915.4L268.8 899.5L268.9 899.5L269.0 904.7L269.1 905.8L269.2 909.3L269.3 910.5L269.4 910.6L269.5 912.9L269.6 906.0L269.7 899.6L269.8 907.6L269.9 903.1L270.0 902.8L270.1 909.2L270.2 902.0L270.3 905.6L270.4 898.5L270.5 899.1L270.5 906.5L270.6 906.5L270.7 897.5L270.8 910.3L270.9 896.8L271.0 899.2L271.1 907.5L271.2 905.6L271.3 901.0L271.4 911.5L271.5 910.5L271.6 900.9L271.7 903.5L271.8 903.1L271.9 894.1L272.0 903.9L272.1 907.4L272.2 900.3L272.3 902.1L272.3 907.5L272.4 910.3L272.5 902.9L272.6 907.2L272.7 909.4L272.8 908.5L272.9 898.8L273.0 906.0L273.1 903.8L273.2 913.3L273.3 912.5L273.4 915.7L273.5 904.5L273.6 908.5L273.7 918.2L273.8 895.3L273.9 904.7L274.0 909.3L274.0 900.3L274.1 903.0L274.2 903.2L274.3 898.2L274.4 906.1L274.5 901.4L274.6 909.9L274.7 911.3L274.8 910.8L274.9 903.7L275.0 904.9L275.1 907.7L275.2 903.0L275.3 899.8L275.4 912.9L275.5 902.0L275.6 900.5L275.7 903.3L275.7 902.3L275.8 906.5L275.9 911.6L276.0 899.8L276.1 909.2L276.2 902.1L276.3 898.4L276.4 899.8L276.5 903.9L276.6 903.9L276.7 899.7L276.8 898.9L276.9 910.5L277.0 913.3L277.1 903.3L277.2 902.1L277.3 904.7L277.4 904.5L277.4 907.1L277.5 903.7L277.6 914.0L277.7 902.4L277.8 900.5L277.9 902.3L278.0 910.5L278.1 907.2L278.2 903.6L278.3 905.5L278.4 903.6L278.5 903.1L278.6 910.4L278.7 902.6L278.8 894.8L278.9 906.8L279.0 908.8L279.1 903.3L279.1 904.0L279.2 900.2L279.3 901.8L279.4 900.1L279.5 906.9L279.6 900.3L279.7 901.4L279.8 899.1L279.9 898.5L280.0 909.3L280.1 910.1L280.2 907.4L280.3 898.4L280.4 903.1L280.5 912.8L280.6 905.7L280.7 913.6L280.8 895.8L280.8 901.9L280.9 911.3L281.0 902.7L281.1 893.8L281.2 902.5L281.3 912.4L281.4 906.5L281.5 901.2L281.6 896.8L281.7 900.9L281.8 901.6L281.9 910.5L282.0 901.1L282.1 897.5L282.2 909.1L282.3 909.1L282.4 909.3L282.5 902.6L282.5 905.3L282.6 896.7L282.7 898.2L282.8 901.3L282.9 902.8L283.0 913.2L283.1 905.8L283.2 904.4L283.3 897.1L283.4 904.3L283.5 899.1L283.6 902.2L283.7 901.3L283.8 906.6L283.9 912.8L284.0 900.4L284.1 899.3L284.2 915.8L284.2 907.0L284.3 904.9L284.4 901.0L284.5 911.7L284.6 895.3L284.7 905.3L284.8 902.1L284.9 904.4L285.0 898.8L285.1 900.8L285.2 899.3L285.3 906.2L285.4 902.5L285.5 901.1L285.6 894.2L285.7 900.1L285.8 904.1L285.9 897.6L286.0 907.2L286.0 902.0L286.1 902.3L286.2 906.3L286.3 905.3L286.4 901.8L286.5 913.6L286.6 903.5L286.7 917.0L286.8 918.0L286.9 899.5L287.0 904.5L287.1 900.7L287.2 902.4L287.3 918.3L287.4 898.1L287.5 905.1L287.6 906.9L287.7 905.7L287.7 927.1L287.8 916.6L287.9 900.5L288.0 916.2L288.1 902.1L288.2 900.8L288.3 911.2L288.4 910.6L288.5 912.0L288.6 909.6L288.7 906.1L288.8 908.1L288.9 907.0L289.0 909.5L289.1 896.3L289.2 904.1L289.3 907.8L289.4 910.5L289.4 901.8L289.5 904.1L289.6 900.2L289.7 904.4L289.8 900.9L289.9 907.9L290.0 915.3L290.1 907.6L290.2 910.2L290.3 909.9L290.4 901.0L290.5 902.2L290.6 903.9L290.7 907.0L290.8 901.6L290.9 905.3L291.0 903.5L291.1 900.7L291.1 906.0L291.2 906.6L291.3 899.2L291.4 906.4L291.5 904.7L291.6 899.2L291.7 905.5L291.8 907.0L291.9 896.7L292.0 901.3L292.1 909.8L292.2 904.1L292.3 907.2L292.4 905.3L292.5 897.9L292.6 914.4L292.7 913.9L292.8 901.6L292.8 907.6L292.9 908.5L293.0 912.6L293.1 897.9L293.2 898.6L293.3 905.3L293.4 907.7L293.5 901.2L293.6 899.7L293.7 902.6L293.8 904.7L293.9 910.7L294.0 903.3L294.1 895.0L294.2 909.2L294.3 913.4L294.4 905.0L294.5 899.2L294.5 898.8L294.6 906.8L294.7 907.0L294.8 897.4L294.9 903.2L295.0 900.1L295.1 904.8L295.2 900.7L295.3 903.7L295.4 898.1L295.5 908.8L295.6 911.3L295.7 901.6L295.8 916.4L295.9 901.8L296.0 898.9L296.1 901.7L296.2 903.3L296.2 901.0L296.3 903.4L296.4 912.6L296.5 904.6L296.6 909.0L296.7 897.2L296.8 900.4L296.9 904.8L297.0 902.3L297.1 905.5L297.2 897.5L297.3 908.4L297.4 895.2L297.5 898.7L297.6 909.5L297.7 906.1L297.8 902.6L297.9 901.4L297.9 899.0L298.0 906.2L298.1 908.8L298.2 904.0L298.3 908.6L298.4 906.2L298.5 910.3L298.6 893.9L298.7 900.6L298.8 904.3L298.9 900.5L299.0 904.0L299.1 907.4L299.2 901.3L299.3 911.0L299.4 908.1L299.5 899.4L299.6 903.2L299.7 900.1L299.7 902.3L299.8 911.3L299.9 906.2L300.0 899.0L300.1 904.5L300.2 900.0L300.3 903.6L300.4 910.6L300.5 899.6L300.6 905.5L300.7 914.9L300.8 896.8L300.9 904.7L301.0 906.9L301.1 918.7L301.2 906.1L301.3 902.4L301.4 915.3L301.4 906.0L301.5 918.4L301.6 899.4L301.7 903.6L301.8 899.5L301.9 896.3L302.0 907.4L302.1 921.3L302.2 899.3L302.3 908.6L302.4 916.8L302.5 901.5L302.6 908.3L302.7 895.7L302.8 900.4L302.9 916.4L303.0 903.8L303.1 907.2L303.1 900.1L303.2 905.1L303.3 898.1L303.4 900.7L303.5 894.0L303.6 901.4L303.7 907.1L303.8 904.1L303.9 908.1L304.0 910.0L304.1 902.8L304.2 901.2L304.3 905.5L304.4 903.5L304.5 909.3L304.6 907.4L304.7 906.4L304.8 915.2L304.8 907.0L304.9 910.2L305.0 906.1L305.1 916.8L305.2 901.9L305.3 898.1L305.4 904.8L305.5 901.8L305.6 903.7L305.7 900.4L305.8 903.8L305.9 913.1L306.0 896.2L306.1 913.5L306.2 901.2L306.3 900.1L306.4 911.7L306.5 906.4L306.5 905.8L306.6 903.5L306.7 900.2L306.8 911.6L306.9 905.1L307.0 899.7L307.1 899.3L307.2 899.0L307.3 900.1L307.4 905.3L307.5 909.9L307.6 898.7L307.7 904.7L307.8 900.4L307.9 909.5L308.0 913.8L308.1 902.0L308.2 896.7L308.2 906.8L308.3 911.5L308.4 901.6L308.5 902.0L308.6 906.8L308.7 912.5L308.8 897.0L308.9 906.2L309.0 897.4L309.1 912.7L309.2 902.5L309.3 908.4L309.4 905.3L309.5 901.6L309.6 905.5L309.7 900.4L309.8 902.6L309.9 907.9L309.9 911.5L310.0 909.2L310.1 899.8L310.2 910.1L310.3 916.5L310.4 900.1L310.5 899.0L310.6 911.0L310.7 900.9L310.8 907.5L310.9 910.3L311.0 901.4L311.1 909.8L311.2 900.9L311.3 904.5L311.4 910.9L311.5 899.3L311.6 907.9L311.6 905.7L311.7 901.0L311.8 898.4L311.9 906.7L312.0 903.9L312.1 909.1L312.2 913.2L312.3 902.1L312.4 900.9L312.5 897.9L312.6 904.8L312.7 895.2L312.8 908.7L312.9 907.4L313.0 902.5L313.1 914.8L313.2 901.4L313.3 904.3L313.4 903.3L313.4 912.6L313.5 905.5L313.6 901.4L313.7 900.7L313.8 903.2L313.9 900.2L314.0 894.3L314.1 904.5L314.2 910.7L314.3 894.2L314.4 908.3L314.5 897.9L314.6 901.5L314.7 908.2L314.8 899.9L314.9 895.2L315.0 919.4L315.1 902.0L315.1 903.0L315.2 896.6L315.3 899.9L315.4 910.2L315.5 920.3L315.6 901.2L315.7 899.7L315.8 905.7L315.9 904.5L316.0 909.4L316.1 900.2L316.2 903.3L316.3 900.0L316.4 905.1L316.5 907.9L316.6 906.9L316.7 895.3L316.8 897.7L316.8 898.7L316.9 897.6L317.0 904.4L317.1 903.5L317.2 911.3L317.3 900.1L317.4 897.9L317.5 905.3L317.6 895.4L317.7 908.6L317.8 904.0L317.9 902.5L318.0 898.1L318.1 897.5L318.2 907.4L318.3 898.9L318.4 891.1L318.5 906.2L318.5 899.5L318.6 904.3L318.7 899.1L318.8 904.6L318.9 899.1L319.0 925.6L319.1 907.3L319.2 902.2L319.3 900.1L319.4 902.9L319.5 906.3L319.6 896.0L319.7 905.1L319.8 898.1L319.9 904.4L320.0 900.9L320.1 901.5L320.2 904.8L320.2 902.9L320.3 910.2L320.4 904.2L320.5 903.7L320.6 902.9L320.7 907.4L320.8 906.7L320.9 914.9L321.0 898.3L321.1 906.6L321.2 908.8L321.3 917.2L321.4 906.5L321.5 898.8L321.6 895.7L321.7 915.9L321.8 896.0L321.9 906.4L321.9 909.1L322.0 903.4L322.1 903.9L322.2 898.9L322.3 904.1L322.4 904.3L322.5 902.9L322.6 900.4L322.7 897.2L322.8 902.6L322.9 900.1L323.0 898.6L323.1 899.9L323.2 902.4L323.3 907.2L323.4 905.7L323.5 906.8L323.6 896.0L323.6 912.4L323.7 898.0L323.8 897.7L323.9 900.7L324.0 905.5L324.1 902.5L324.2 900.7L324.3 902.4L324.4 912.5L324.5 907.1L324.6 904.2L324.7 907.5L324.8 901.4L324.9 902.7L325.0 895.1L325.1 904.8L325.2 903.7L325.3 895.7L325.3 898.7L325.4 908.1L325.5 899.4L325.6 907.4L325.7 900.6L325.8 892.9L325.9 903.9L326.0 898.4L326.1 899.8L326.2 896.0L326.3 905.2L326.4 902.1L326.5 899.5L326.6 904.1L326.7 905.4L326.8 901.1L326.9 898.9L327.0 899.9L327.1 906.8L327.1 901.3L327.2 901.9L327.3 896.6L327.4 906.1L327.5 904.2L327.6 895.4L327.7 904.0L327.8 907.3L327.9 904.7L328.0 904.9L328.1 905.0L328.2 895.8L328.3 906.1L328.4 910.6L328.5 896.8L328.6 901.5L328.7 900.1L328.8 901.4L328.8 900.2L328.9 899.5L329.0 901.2L329.1 910.9L329.2 902.2L329.3 907.4L329.4 901.0L329.5 902.1L329.6 896.3L329.7 907.1L329.8 907.5L329.9 907.8L330.0 899.8L330.1 908.1L330.2 907.8L330.3 899.2L330.4 908.9L330.5 911.3L330.5 907.8L330.6 902.0L330.7 910.0L330.8 902.4L330.9 906.2L331.0 898.4L331.1 903.5L331.2 894.7L331.3 903.1L331.4 906.8L331.5 902.2L331.6 903.6L331.7 905.3L331.8 892.7L331.9 896.8L332.0 897.7L332.1 897.7L332.2 907.5L332.2 905.3L332.3 908.9L332.4 897.5L332.5 894.7L332.6 904.4L332.7 902.8L332.8 904.4L332.9 900.7L333.0 901.7L333.1 900.9L333.2 900.0L333.3 901.7L333.4 903.6L333.5 896.6L333.6 900.3L333.7 906.4L333.8 896.1L333.9 902.7L333.9 898.2L334.0 902.6L334.1 894.8L334.2 894.8L334.3 902.1L334.4 903.0L334.5 903.7L334.6 899.8L334.7 899.6L334.8 913.3L334.9 907.2L335.0 896.1L335.1 901.4L335.2 914.0L335.3 902.1L335.4 906.2L335.5 904.4L335.6 907.5L335.6 904.3L335.7 908.2L335.8 904.9L335.9 906.8L336.0 898.2L336.1 904.0L336.2 901.2L336.3 905.6L336.4 898.8L336.5 901.3L336.6 904.7L336.7 897.4L336.8 903.2L336.9 892.2L337.0 901.1L337.1 901.5L337.2 901.4L337.3 896.3L337.3 901.2L337.4 904.3L337.5 908.6L337.6 894.6L337.7 896.3L337.8 895.3L337.9 902.5L338.0 908.2L338.1 900.8L338.2 907.0L338.3 904.6L338.4 896.5L338.5 904.8L338.6 908.9L338.7 901.7L338.8 912.1L338.9 899.6L339.0 907.3L339.0 896.1L339.1 910.0L339.2 908.9L339.3 904.5L339.4 919.1L339.5 909.1L339.6 902.9L339.7 899.7L339.8 903.4L339.9 899.9L340.0 901.3L340.1 902.3L340.2 907.1L340.3 903.6L340.4 897.7L340.5 897.9L340.6 899.3L340.7 906.5L340.8 896.5L340.8 905.9L340.9 902.0L341.0 894.6L341.1 913.2L341.2 902.0L341.3 898.4L341.4 903.8L341.5 912.7L341.6 898.0L341.7 896.5L341.8 895.2L341.9 907.9L342.0 911.1L342.1 900.6L342.2 893.4L342.3 903.2L342.4 897.3L342.5 905.2L342.5 899.2L342.6 898.4L342.7 904.0L342.8 894.2L342.9 902.6L343.0 893.9L343.1 905.5L343.2 908.8L343.3 912.9L343.4 896.9L343.5 900.8L343.6 904.0L343.7 905.8L343.8 904.5L343.9 895.9L344.0 899.2L344.1 916.4L344.2 909.7L344.2 911.1L344.3 900.3L344.4 901.3L344.5 897.7L344.6 904.3L344.7 903.8L344.8 905.3L344.9 898.5L345.0 908.5L345.1 905.0L345.2 913.8L345.3 898.3L345.4 909.9L345.5 904.7L345.6 902.2L345.7 904.1L345.8 916.8L345.9 899.4L345.9 898.3L346.0 901.3L346.1 904.1L346.2 902.3L346.3 892.5L346.4 906.3L346.5 907.2L346.6 897.8L346.7 893.8L346.8 896.8L346.9 901.7L347.0 893.8L347.1 904.6L347.2 898.9L347.3 912.4L347.4 897.7L347.5 901.9L347.6 895.7L347.6 919.5L347.7 899.8L347.8 902.1L347.9 902.8L348.0 900.5L348.1 903.3L348.2 898.0L348.3 908.6L348.4 899.4L348.5 896.4L348.6 907.3L348.7 893.0L348.8 902.0L348.9 905.4L349.0 899.0L349.1 899.2L349.2 900.1L349.3 911.8L349.3 897.7L349.4 897.8L349.5 906.0L349.6 893.9L349.7 902.2L349.8 899.9L349.9 910.4L350.0 899.3L350.1 908.1L350.2 910.5L350.3 901.0L350.4 895.5L350.5 905.2L350.6 907.3L350.7 896.2L350.8 897.0L350.9 901.8L351.0 900.0L351.0 907.1L351.1 908.7L351.2 909.4L351.3 903.3L351.4 897.9L351.5 903.3L351.6 901.5L351.7 898.3L351.8 914.6L351.9 897.2L352.0 900.0L352.1 907.3L352.2 902.8L352.3 910.2L352.4 898.9L352.5 901.5L352.6 902.7L352.7 908.7L352.7 899.6L352.8 899.3L352.9 898.6L353.0 910.5L353.1 903.4L353.2 904.0L353.3 897.6L353.4 898.0L353.5 899.4L353.6 897.5L353.7 901.3L353.8 891.4L353.9 902.9L354.0 901.8L354.1 908.0L354.2 900.2L354.3 900.3L354.4 896.3L354.5 899.8L354.5 908.3L354.6 901.4L354.7 901.2L354.8 898.5L354.9 901.1L355.0 904.1L355.1 901.0L355.2 900.8L355.3 907.1L355.4 905.8L355.5 901.1L355.6 896.8L355.7 900.7L355.8 901.7L355.9 899.3L356.0 901.3L356.1 910.4L356.2 904.2L356.2 896.1L356.3 901.0L356.4 907.5L356.5 900.8L356.6 902.2L356.7 892.3L356.8 906.3L356.9 898.6L357.0 896.1L357.1 898.5L357.2 907.4L357.3 900.8L357.4 905.7L357.5 903.5L357.6 898.4L357.7 910.6L357.8 897.2L357.9 894.3L357.9 897.9L358.0 903.1L358.1 893.9L358.2 899.7L358.3 911.5L358.4 906.4L358.5 899.9L358.6 900.8L358.7 898.9L358.8 899.2L358.9 905.5L359.0 903.6L359.1 899.8L359.2 893.2L359.3 896.8L359.4 895.4L359.5 898.2L359.6 902.2L359.6 904.2L359.7 908.6L359.8 901.7L359.9 899.9L360.0 904.7L360.1 911.1L360.2 913.6L360.3 912.7L360.4 894.8L360.5 894.2L360.6 897.1L360.7 898.5L360.8 899.0L360.9 909.0L361.0 891.6L361.1 901.6L361.2 900.8L361.3 903.6L361.3 909.7L361.4 900.0L361.5 896.5L361.6 899.1L361.7 909.1L361.8 915.0L361.9 894.1L362.0 896.2L362.1 909.4L362.2 903.5L362.3 892.8L362.4 903.3L362.5 903.2L362.6 900.9L362.7 899.5L362.8 901.9L362.9 897.1L363.0 902.8L363.0 904.5L363.1 912.0L363.2 900.1L363.3 892.3L363.4 898.7L363.5 895.9L363.6 899.8L363.7 899.9L363.8 914.3L363.9 904.3L364.0 902.9L364.1 897.8L364.2 902.5L364.3 911.3L364.4 912.5L364.5 902.9L364.6 901.0L364.7 892.1L364.7 908.2L364.8 904.8L364.9 904.5L365.0 893.9L365.1 903.0L365.2 902.4L365.3 898.9L365.4 923.9L365.5 896.3L365.6 901.1L365.7 898.4L365.8 912.1L365.9 896.3L366.0 897.8L366.1 890.7L366.2 901.6L366.3 895.2L366.4 897.1L366.4 901.6L366.5 912.8L366.6 896.9L366.7 901.3L366.8 894.2L366.9 901.0L367.0 910.0L367.1 900.8L367.2 900.8L367.3 899.1L367.4 898.0L367.5 901.3L367.6 911.5L367.7 908.5L367.8 901.1L367.9 901.0L368.0 896.2L368.1 900.5L368.2 896.5L368.2 900.0L368.3 903.2L368.4 893.2L368.5 901.6L368.6 901.7L368.7 900.3L368.8 896.6L368.9 902.6L369.0 900.0L369.1 904.5L369.2 899.0L369.3 915.2L369.4 904.8L369.5 904.0L369.6 902.2L369.7 903.5L369.8 896.6L369.9 897.7L369.9 906.6L370.0 900.0L370.1 894.6L370.2 904.3L370.3 902.8L370.4 898.6L370.5 909.2L370.6 901.6L370.7 895.3L370.8 893.3L370.9 906.2L371.0 895.6L371.1 907.7L371.2 892.4L371.3 898.3L371.4 901.6L371.5 902.6L371.6 898.1L371.6 894.0L371.7 897.8L371.8 895.5L371.9 896.1L372.0 896.4L372.1 891.8L372.2 895.5L372.3 900.1L372.4 898.8L372.5 908.8L372.6 910.0L372.7 902.3L372.8 900.5L372.9 902.3L373.0 901.5L373.1 895.7L373.2 899.1L373.3 910.8L373.3 896.9L373.4 897.1L373.5 900.4L373.6 899.4L373.7 903.4L373.8 898.3L373.9 903.2L374.0 901.1L374.1 896.3L374.2 900.1L374.3 900.3L374.4 894.0L374.5 901.8L374.6 895.7L374.7 899.2L374.8 903.2L374.9 902.7L375.0 897.8L375.0 893.0L375.1 905.2L375.2 906.9L375.3 894.2L375.4 896.5L375.5 899.3L375.6 908.9L375.7 895.5L375.8 909.1L375.9 896.3L376.0 901.7L376.1 900.2L376.2 902.5L376.3 905.0L376.4 902.6L376.5 897.7L376.6 913.0L376.7 908.5L376.7 897.1L376.8 899.1L376.9 892.4L377.0 907.4L377.1 905.8L377.2 900.8L377.3 900.0L377.4 899.3L377.5 899.4L377.6 897.1L377.7 911.4L377.8 899.5L377.9 903.3L378.0 903.8L378.1 893.1L378.2 902.2L378.3 895.0L378.4 889.8L378.4 902.2L378.5 900.5L378.6 900.9L378.7 899.8L378.8 894.0L378.9 896.4L379.0 899.8L379.1 900.2L379.2 905.1L379.3 898.7L379.4 907.4L379.5 904.6L379.6 900.0L379.7 904.4L379.8 908.8L379.9 901.2L380.0 906.1L380.1 897.9L380.1 899.6L380.2 908.0L380.3 898.7L380.4 897.3L380.5 899.6L380.6 901.6L380.7 902.8L380.8 892.3L380.9 899.7L381.0 900.3L381.1 902.0L381.2 907.1L381.3 903.2L381.4 897.8L381.5 898.9L381.6 899.0L381.7 899.9L381.8 905.3L381.8 900.2L381.9 896.1L382.0 900.7L382.1 915.3L382.2 904.7L382.3 911.9L382.4 905.5L382.5 891.2L382.6 902.8L382.7 905.3L382.8 910.3L382.9 901.9L383.0 894.7L383.1 905.1L383.2 898.4L383.3 899.5L383.4 903.7L383.5 897.1L383.6 902.7L383.6 904.7L383.7 904.2L383.8 899.3L383.9 892.2L384.0 896.1L384.1 904.4L384.2 900.3L384.3 905.2L384.4 905.6L384.5 911.8L384.6 898.8L384.7 903.6L384.8 901.6L384.9 898.8L385.0 908.8L385.1 907.3L385.2 898.3L385.3 906.5L385.3 906.1L385.4 896.2L385.5 901.0L385.6 894.9L385.7 893.0L385.8 894.1L385.9 909.0L386.0 899.6L386.1 896.3L386.2 898.8L386.3 902.7L386.4 906.6L386.5 897.4L386.6 909.0L386.7 910.5L386.8 905.7L386.9 900.6L387.0 894.7L387.0 902.2L387.1 896.3L387.2 906.0L387.3 903.2L387.4 902.7L387.5 904.5L387.6 895.4L387.7 909.3L387.8 910.0L387.9 895.5L388.0 899.3L388.1 897.5L388.2 905.0L388.3 897.6L388.4 911.2L388.5 901.4L388.6 899.2L388.7 913.2L388.7 904.7L388.8 908.9L388.9 905.6L389.0 902.6L389.1 903.2L389.2 913.5L389.3 897.7L389.4 908.4L389.5 899.5L389.6 904.8L389.7 910.8L389.8 896.9L389.9 902.0L390.0 898.9L390.1 898.8L390.2 899.4L390.3 905.0L390.4 898.6L390.4 896.6L390.5 904.6L390.6 906.9L390.7 904.1L390.8 895.9L390.9 901.3L391.0 894.3L391.1 903.1L391.2 900.7L391.3 894.1L391.4 893.4L391.5 897.4L391.6 907.2L391.7 900.7L391.8 901.1L391.9 906.7L392.0 895.1L392.1 898.8L392.1 905.6L392.2 907.4L392.3 899.7L392.4 911.0L392.5 896.3L392.6 903.2L392.7 908.1L392.8 898.1L392.9 905.5L393.0 901.5L393.1 899.9L393.2 906.1L393.3 898.8L393.4 894.8L393.5 895.9L393.6 901.1L393.7 897.0L393.8 906.9L393.8 901.6L393.9 895.6L394.0 906.6L394.1 899.8L394.2 896.8L394.3 900.1L394.4 892.9L394.5 902.8L394.6 903.6L394.7 908.9L394.8 899.5L394.9 900.0L395.0 905.1L395.1 898.8L395.2 893.6L395.3 903.4L395.4 894.6L395.5 897.2L395.5 901.6L395.6 914.3L395.7 910.7L395.8 901.4L395.9 905.0L396.0 899.1L396.1 903.5L396.2 901.8L396.3 904.6L396.4 903.7L396.5 898.7L396.6 911.6L396.7 895.3L396.8 897.8L396.9 912.2L397.0 899.2L397.1 902.7L397.2 903.9L397.3 901.8L397.3 901.5L397.4 905.3L397.5 903.3L397.6 895.7L397.7 909.9L397.8 896.5L397.9 905.1L398.0 898.3L398.1 908.6L398.2 905.2L398.3 902.0L398.4 913.9L398.5 908.4L398.6 893.8L398.7 896.9L398.8 896.2L398.9 897.8L399.0 903.8L399.0 892.9L399.1 891.1L399.2 907.2L399.3 900.8L399.4 901.4L399.5 901.0L399.6 896.3L399.7 900.6L399.8 900.0L399.9 900.6L400.0 908.1L400.1 892.9L400.2 908.8L400.3 902.3L400.4 901.8L400.5 898.7L400.6 897.6L400.7 912.8L400.7 899.7L400.8 906.3L400.9 898.3L401.0 912.6L401.1 899.4L401.2 915.3L401.3 908.2L401.4 901.1L401.5 897.5L401.6 896.7L401.7 898.6L401.8 903.9L401.9 899.2L402.0 901.0L402.1 903.5L402.2 895.6L402.3 899.9L402.4 900.0L402.4 896.7L402.5 903.3L402.6 901.0L402.7 907.5L402.8 905.6L402.9 908.8L403.0 907.1L403.1 906.3L403.2 901.3L403.3 898.0L403.4 903.7L403.5 900.1L403.6 891.1L403.7 904.2L403.8 902.1L403.9 885.7L404.0 902.8L404.1 893.1L404.1 899.5L404.2 909.3L404.3 898.8L404.4 905.5L404.5 901.1L404.6 897.2L404.7 899.7L404.8 906.4L404.9 909.9L405.0 904.0L405.1 899.1L405.2 904.1L405.3 904.1L405.4 889.1L405.5 900.6L405.6 896.0L405.7 916.8L405.8 906.6L405.8 908.4L405.9 903.1L406.0 896.5L406.1 898.0L406.2 899.9L406.3 897.5L406.4 901.2L406.5 900.0L406.6 892.8L406.7 896.9L406.8 894.9L406.9 891.6L407.0 907.5L407.1 890.8L407.2 907.5L407.3 894.4L407.4 901.4L407.5 891.1L407.5 894.5L407.6 904.9L407.7 897.5L407.8 897.4L407.9 903.8L408.0 899.1L408.1 903.6L408.2 901.9L408.3 900.7L408.4 900.1L408.5 906.3L408.6 892.0L408.7 908.4L408.8 899.4L408.9 903.6L409.0 894.1L409.1 902.6L409.2 902.6L409.2 892.2L409.3 902.9L409.4 900.4L409.5 904.5L409.6 897.7L409.7 899.2L409.8 906.2L409.9 898.8L410.0 903.1L410.1 898.2L410.2 906.7L410.3 896.1L410.4 895.5L410.5 905.1L410.6 900.6L410.7 897.2L410.8 908.2L410.9 899.8L411.0 898.7L411.0 907.2L411.1 904.8L411.2 894.3L411.3 898.4L411.4 901.9L411.5 906.2L411.6 897.2L411.7 903.4L411.8 890.5L411.9 898.6L412.0 895.1L412.1 899.1L412.2 893.2L412.3 898.4L412.4 905.3L412.5 899.0L412.6 901.8L412.7 899.2L412.7 901.3L412.8 900.4L412.9 903.2L413.0 902.2L413.1 899.0L413.2 901.5L413.3 895.2L413.4 896.2L413.5 902.2L413.6 906.9L413.7 894.1L413.8 902.2L413.9 907.1L414.0 904.2L414.1 901.6L414.2 893.8L414.3 896.1L414.4 899.5L414.4 907.7L414.5 901.9L414.6 903.3L414.7 893.3L414.8 900.9L414.9 889.6L415.0 897.5L415.1 904.0L415.2 899.2L415.3 904.8L415.4 897.7L415.5 913.3L415.6 894.4L415.7 899.0L415.8 896.3L415.9 907.2L416.0 890.2L416.1 907.3L416.1 899.0L416.2 907.3L416.3 901.8L416.4 898.4L416.5 908.8L416.6 900.8L416.7 897.8L416.8 905.8L416.9 895.7L417.0 901.0L417.1 906.9L417.2 903.7L417.3 904.9L417.4 900.4L417.5 897.0L417.6 900.1L417.7 898.6L417.8 900.2L417.8 897.3L417.9 894.8L418.0 909.4L418.1 899.3L418.2 901.0L418.3 893.3L418.4 895.2L418.5 907.6L418.6 903.0L418.7 911.2L418.8 898.0L418.9 898.7L419.0 901.7L419.1 909.0L419.2 897.9L419.3 905.1L419.4 896.9L419.5 904.8L419.5 891.0L419.6 893.5L419.7 893.5L419.8 911.4L419.9 895.2L420.0 894.5L420.1 904.0L420.2 900.2L420.3 902.5L420.4 895.9L420.5 890.3L420.6 906.4L420.7 907.4L420.8 897.3L420.9 905.8L421.0 896.2L421.1 901.8L421.2 897.7L421.2 895.5L421.3 898.9L421.4 895.2L421.5 905.7L421.6 906.5L421.7 898.9L421.8 906.2L421.9 900.0L422.0 897.2L422.1 900.0L422.2 897.8L422.3 898.4L422.4 916.3L422.5 901.1L422.6 902.5L422.7 893.4L422.8 893.9L422.9 902.8L422.9 895.4L423.0 901.1L423.1 896.7L423.2 907.3L423.3 896.4L423.4 896.2L423.5 908.5L423.6 897.5L423.7 893.5L423.8 900.2L423.9 894.2L424.0 905.0L424.1 905.7L424.2 907.4L424.3 895.4L424.4 913.6L424.5 896.3L424.6 901.1L424.7 895.6L424.7 898.5L424.8 899.8L424.9 896.3L425.0 895.0L425.1 894.3L425.2 894.6L425.3 895.8L425.4 902.7L425.5 900.7L425.6 909.4L425.7 901.1L425.8 900.8L425.9 893.4L426.0 891.5L426.1 906.4L426.2 909.7L426.3 903.5L426.4 898.5L426.4 891.6L426.5 907.1L426.6 907.5L426.7 906.8L426.8 893.8L426.9 903.2L427.0 901.4L427.1 906.4L427.2 896.9L427.3 901.6L427.4 899.7L427.5 903.6L427.6 902.9L427.7 894.0L427.8 902.7L427.9 896.4L428.0 902.1L428.1 906.0L428.1 898.0L428.2 904.8L428.3 899.3L428.4 894.7L428.5 901.1L428.6 903.4L428.7 894.5L428.8 900.3L428.9 903.6L429.0 899.7L429.1 896.2L429.2 896.7L429.3 897.8L429.4 897.1L429.5 900.0L429.6 906.5L429.7 899.6L429.8 910.5L429.8 897.4L429.9 905.4L430.0 906.8L430.1 892.7L430.2 898.6L430.3 898.7L430.4 901.5L430.5 899.2L430.6 903.4L430.7 902.4L430.8 899.5L430.9 899.5L431.0 918.6L431.1 893.4L431.2 903.4L431.3 895.4L431.4 894.0L431.5 897.8L431.5 902.1L431.6 896.8L431.7 901.9L431.8 905.7L431.9 917.5L432.0 896.3L432.1 899.0L432.2 892.9L432.3 900.0L432.4 898.2L432.5 898.7L432.6 901.1L432.7 897.1L432.8 896.9L432.9 896.9L433.0 904.7L433.1 900.9L433.2 891.2L433.2 898.6L433.3 903.1L433.4 908.2L433.5 893.6L433.6 894.6L433.7 897.6L433.8 901.8L433.9 896.3L434.0 894.2L434.1 898.7L434.2 899.3L434.3 901.5L434.4 899.5L434.5 904.4L434.6 898.1L434.7 904.3L434.8 903.0L434.9 905.9L434.9 907.7L435.0 898.9L435.1 891.6L435.2 911.8L435.3 899.7L435.4 909.2L435.5 899.8L435.6 909.0L435.7 900.0L435.8 901.8L435.9 899.0L436.0 897.6L436.1 900.3L436.2 899.8L436.3 904.0L436.4 902.7L436.5 901.0L436.6 899.9L436.6 898.1L436.7 897.4L436.8 907.2L436.9 894.7L437.0 897.5L437.1 899.7L437.2 899.5L437.3 904.7L437.4 896.9L437.5 915.2L437.6 914.1L437.7 896.2L437.8 903.1L437.9 900.6L438.0 903.6L438.1 896.3L438.2 905.2L438.3 899.5L438.4 897.4L438.4 892.3L438.5 894.4L438.6 899.2L438.7 895.5L438.8 902.0L438.9 899.4L439.0 895.7L439.1 893.0L439.2 906.3L439.3 901.5L439.4 897.0L439.5 896.2L439.6 897.8L439.7 900.1L439.8 904.7L439.9 906.0L440.0 897.1L440.1 902.2L440.1 900.4L440.2 903.2L440.3 901.7L440.4 904.3L440.5 901.1L440.6 900.7L440.7 897.1L440.8 904.3L440.9 910.1L441.0 901.2L441.1 898.0L441.2 902.1L441.3 895.5L441.4 899.4L441.5 904.1L441.6 896.0L441.7 897.6L441.8 900.5L441.8 901.0L441.9 905.5L442.0 911.2L442.1 896.9L442.2 895.5L442.3 896.7L442.4 898.8L442.5 901.4L442.6 892.0L442.7 897.9L442.8 894.1L442.9 899.8L443.0 895.9L443.1 895.3L443.2 903.7L443.3 906.8L443.4 896.4L443.5 894.7L443.5 896.3L443.6 901.1L443.7 908.4L443.8 902.7L443.9 894.3L444.0 895.2L444.1 900.6L444.2 895.2L444.3 900.1L444.4 903.9L444.5 899.1L444.6 903.0L444.7 894.8L444.8 903.1L444.9 897.9L445.0 893.6L445.1 899.4L445.2 903.2L445.2 894.5L445.3 896.7L445.4 893.7L445.5 899.5L445.6 896.9L445.7 899.7L445.8 896.3L445.9 898.6L446.0 901.0L446.1 905.5L446.2 903.0L446.3 900.9L446.4 896.8L446.5 896.5L446.6 899.8L446.7 895.0L446.8 891.2L446.9 900.9L446.9 895.6L447.0 897.0L447.1 897.3L447.2 898.4L447.3 914.1L447.4 893.9L447.5 911.5L447.6 909.0L447.7 897.6L447.8 895.0L447.9 896.0L448.0 904.7L448.1 905.7L448.2 898.2L448.3 908.7L448.4 892.3L448.5 891.6L448.6 899.6L448.6 899.8L448.7 897.8L448.8 889.9L448.9 904.2L449.0 903.1L449.1 896.6L449.2 901.4L449.3 894.7L449.4 889.3L449.5 894.9L449.6 902.3L449.7 897.8L449.8 900.0L449.9 904.9L450.0 895.3L450.1 892.6L450.2 895.7L450.3 890.7L450.3 903.2L450.4 899.4L450.5 906.5L450.6 898.0L450.7 892.3L450.8 898.6L450.9 900.5L451.0 894.9L451.1 892.6L451.2 897.4L451.3 898.9L451.4 892.4L451.5 896.0L451.6 892.1L451.7 901.8L451.8 898.4L451.9 901.6L452.0 907.5L452.1 904.3L452.1 895.7L452.2 894.2L452.3 899.8L452.4 900.6L452.5 892.3L452.6 902.0L452.7 895.6L452.8 905.1L452.9 908.2L453.0 897.5L453.1 898.8L453.2 901.8L453.3 907.3L453.4 897.0L453.5 902.9L453.6 890.4L453.7 895.7L453.8 901.3L453.8 904.7L453.9 898.6L454.0 902.0L454.1 905.5L454.2 895.2L454.3 902.6L454.4 895.5L454.5 901.3L454.6 896.4L454.7 897.0L454.8 893.2L454.9 894.1L455.0 903.5L455.1 894.0L455.2 889.8L455.3 902.9L455.4 894.6L455.5 898.5L455.5 896.2L455.6 886.8L455.7 914.4L455.8 903.8L455.9 897.6L456.0 904.3L456.1 899.0L456.2 893.6L456.3 898.1L456.4 903.5L456.5 893.3L456.6 895.8L456.7 902.3L456.8 895.5L456.9 909.5L457.0 897.1L457.1 899.4L457.2 892.5L457.2 898.6L457.3 908.1L457.4 887.9L457.5 897.7L457.6 897.0L457.7 906.3L457.8 889.8L457.9 890.8L458.0 891.3L458.1 895.5L458.2 893.2L458.3 893.7L458.4 906.1L458.5 891.6L458.6 905.0L458.7 894.7L458.8 914.2L458.9 893.7L458.9 908.2L459.0 893.2L459.1 895.5L459.2 895.9L459.3 899.5L459.4 896.6L459.5 893.4L459.6 902.2L459.7 904.1L459.8 892.8L459.9 911.9L460.0 892.2L460.1 912.0L460.2 898.3L460.3 891.7L460.4 892.1L460.5 906.3L460.6 900.2L460.6 893.1L460.7 893.5L460.8 919.8L460.9 895.5L461.0 903.4L461.1 889.2L461.2 901.7L461.3 889.1L461.4 894.7L461.5 892.7L461.6 893.2L461.7 895.3L461.8 900.7L461.9 900.5L462.0 901.2L462.1 903.8L462.2 899.6L462.3 897.0L462.3 898.8L462.4 892.5L462.5 898.9L462.6 892.9L462.7 895.2L462.8 890.3L462.9 894.6L463.0 891.7L463.1 893.6L463.2 897.2L463.3 892.5L463.4 903.4L463.5 896.3L463.6 896.2L463.7 892.7L463.8 905.5L463.9 897.2L464.0 894.1L464.0 893.3L464.1 900.1L464.2 904.4L464.3 895.2L464.4 905.2L464.5 896.7L464.6 897.3L464.7 896.0L464.8 891.2L464.9 892.7L465.0 894.8L465.1 893.7L465.2 897.7L465.3 895.2L465.4 895.6L465.5 899.8L465.6 896.3L465.7 889.1L465.8 897.3L465.8 896.0L465.9 902.1L466.0 901.6L466.1 903.7L466.2 900.9L466.3 889.9L466.4 890.7L466.5 896.7L466.6 910.3L466.7 891.3L466.8 900.0L466.9 902.4L467.0 890.5L467.1 896.5L467.2 888.6L467.3 895.7L467.4 900.5L467.5 900.4L467.5 909.1L467.6 896.5L467.7 899.9L467.8 894.0L467.9 897.7L468.0 889.0L468.1 899.6L468.2 895.0L468.3 888.9L468.4 893.3L468.5 889.9L468.6 890.2L468.7 897.6L468.8 899.1L468.9 911.7L469.0 896.7L469.1 897.3L469.2 895.2L469.2 889.6L469.3 897.8L469.4 898.2L469.5 894.2L469.6 897.6L469.7 899.1L469.8 900.8L469.9 896.7L470.0 895.0L470.1 901.9L470.2 899.4L470.3 896.4L470.4 901.6L470.5 892.8L470.6 892.6L470.7 898.2L470.8 886.1L470.9 892.2L470.9 894.1L471.0 894.9L471.1 891.3L471.2 890.0L471.3 894.5L471.4 886.1L471.5 896.3L471.6 899.4L471.7 901.0L471.8 898.8L471.9 897.5L472.0 898.3L472.1 899.5L472.2 893.7L472.3 903.3L472.4 903.9L472.5 896.6L472.6 898.2L472.6 901.2L472.7 888.1L472.8 897.8L472.9 894.8L473.0 903.5L473.1 883.8L473.2 898.2L473.3 892.3L473.4 895.4L473.5 893.6L473.6 899.4L473.7 912.0L473.8 904.9L473.9 889.5L474.0 893.9L474.1 893.5L474.2 899.3L474.3 898.0L474.3 898.3L474.4 902.7L474.5 893.1L474.6 900.0L474.7 906.2L474.8 896.1L474.9 896.9L475.0 899.8L475.1 895.2L475.2 893.6L475.3 891.3L475.4 899.2L475.5 899.9L475.6 893.1L475.7 896.0L475.8 898.3L475.9 892.5L476.0 890.4L476.0 893.1L476.1 901.5L476.2 913.5L476.3 892.1L476.4 897.6L476.5 896.7L476.6 887.4L476.7 892.3L476.8 895.3L476.9 896.1L477.0 905.6L477.1 893.4L477.2 897.0L477.3 894.4L477.4 890.1L477.5 900.1L477.6 893.8L477.7 909.2L477.7 906.9L477.8 894.3L477.9 892.4L478.0 899.7L478.1 891.1L478.2 896.2L478.3 891.2L478.4 900.2L478.5 900.8L478.6 890.7L478.7 890.1L478.8 901.0L478.9 889.8L479.0 894.1L479.1 901.6L479.2 900.4L479.3 896.4L479.4 897.1L479.5 892.1L479.5 897.4L479.6 905.6L479.7 891.8L479.8 887.7L479.9 906.5L480.0 891.6L480.1 905.3L480.2 893.0L480.3 897.9L480.4 902.6L480.5 895.6L480.6 899.7L480.7 888.8L480.8 896.9L480.9 894.4L481.0 895.7L481.1 892.1L481.2 899.5L481.2 887.5L481.3 894.8L481.4 894.7L481.5 895.5L481.6 894.8L481.7 897.2L481.8 897.9L481.9 897.4L482.0 894.4L482.1 891.2L482.2 894.1L482.3 896.6L482.4 893.6L482.5 891.5L482.6 893.2L482.7 888.4L482.8 895.4L482.9 895.3L482.9 898.6L483.0 899.7L483.1 894.4L483.2 897.3L483.3 892.4L483.4 896.7L483.5 895.1L483.6 887.7L483.7 891.7L483.8 890.9L483.9 899.2L484.0 900.3L484.1 897.7L484.2 890.2L484.3 900.7L484.4 895.1L484.5 888.7L484.6 897.3L484.6 895.3L484.7 892.6L484.8 904.1L484.9 889.8L485.0 896.7L485.1 896.8L485.2 905.5L485.3 899.3L485.4 911.8L485.5 890.0L485.6 889.3L485.7 899.7L485.8 890.7L485.9 893.1L486.0 900.0L486.1 900.9L486.2 905.4L486.3 903.9L486.3 905.9L486.4 892.8L486.5 886.7L486.6 893.0L486.7 906.4L486.8 897.4L486.9 895.9L487.0 903.4L487.1 900.2L487.2 893.8L487.3 897.1L487.4 899.4L487.5 905.6L487.6 891.4L487.7 893.5L487.8 887.2L487.9 903.0L488.0 892.4L488.0 892.2L488.1 894.8L488.2 899.4L488.3 897.6L488.4 895.2L488.5 907.1L488.6 892.2L488.7 894.9L488.8 897.1L488.9 894.7L489.0 894.7L489.1 893.2L489.2 894.4L489.3 899.8L489.4 898.6L489.5 894.8L489.6 895.6L489.7 888.8L489.7 898.6L489.8 897.3L489.9 896.8L490.0 903.2L490.1 894.6L490.2 900.4L490.3 897.5L490.4 899.8L490.5 896.1L490.6 894.5L490.7 911.4L490.8 895.7L490.9 893.8L491.0 901.4L491.1 897.7L491.2 887.6L491.3 897.6L491.4 892.8L491.4 900.9L491.5 890.7L491.6 905.9L491.7 894.4L491.8 897.2L491.9 894.4L492.0 895.5L492.1 892.7L492.2 901.6L492.3 902.7L492.4 893.2L492.5 894.4L492.6 908.7L492.7 888.2L492.8 896.3L492.9 895.7L493.0 904.9L493.1 894.7L493.2 893.3L493.2 892.1L493.3 900.7L493.4 882.6L493.5 891.5L493.6 890.8L493.7 886.9L493.8 895.7L493.9 893.9L494.0 908.2L494.1 905.5L494.2 895.7L494.3 894.4L494.4 895.8L494.5 897.3L494.6 892.1L494.7 891.9L494.8 896.8L494.9 894.7L494.9 892.8L495.0 893.9L495.1 903.3L495.2 896.8L495.3 897.5L495.4 888.9L495.5 899.6L495.6 895.8L495.7 896.5L495.8 897.1L495.9 904.1L496.0 887.2L496.1 895.4L496.2 892.6L496.3 893.5L496.4 897.1L496.5 895.5L496.6 889.4L496.6 902.7L496.7 895.3L496.8 893.6L496.9 896.9L497.0 896.9L497.1 892.1L497.2 895.9L497.3 886.4L497.4 892.0L497.5 888.3L497.6 891.7L497.7 899.7L497.8 895.5L497.9 894.8L498.0 894.8L498.1 904.6L498.2 892.0L498.3 892.4L498.3 894.5L498.4 901.7L498.5 887.6L498.6 896.6L498.7 897.4L498.8 907.9L498.9 891.6L499.0 890.1L499.1 890.2L499.2 908.1L499.3 889.6L499.4 896.4L499.5 896.1L499.6 898.5L499.7 892.0L499.8 890.0L499.9 894.5L500.0 896.4L500.0 889.5L500.1 895.1L500.2 893.5L500.3 896.8L500.4 893.0L500.5 892.3L500.6 898.6L500.7 902.1L500.8 895.5L500.9 901.9L501.0 895.2L501.1 889.7L501.2 895.9L501.3 910.7L501.4 899.7L501.5 893.4L501.6 893.6L501.7 898.6L501.7 880.5L501.8 891.8L501.9 898.5L502.0 887.6L502.1 890.2L502.2 883.8L502.3 891.6L502.4 893.1L502.5 900.9L502.6 893.9L502.7 900.5L502.8 889.6L502.9 898.2L503.0 883.9L503.1 894.7L503.2 884.5L503.3 902.8L503.4 896.5L503.4 901.4L503.5 900.5L503.6 894.1L503.7 904.7L503.8 891.1L503.9 894.6L504.0 896.9L504.1 896.0L504.2 896.6L504.3 882.8L504.4 895.2L504.5 894.8L504.6 896.4L504.7 889.3L504.8 892.6L504.9 893.0L505.0 904.9L505.1 894.5L505.1 889.1L505.2 898.6L505.3 888.6L505.4 892.4L505.5 892.5L505.6 890.9L505.7 896.5L505.8 894.5L505.9 888.9L506.0 887.4L506.1 888.4L506.2 887.0L506.3 888.3L506.4 902.7L506.5 891.3L506.6 902.5L506.7 899.2L506.8 900.7L506.9 898.2L506.9 893.1L507.0 898.7L507.1 892.6L507.2 888.7L507.3 891.6L507.4 904.5L507.5 894.8L507.6 890.3L507.7 895.1L507.8 891.5L507.9 898.3L508.0 895.0L508.1 889.8L508.2 899.7L508.3 893.8L508.4 894.3L508.5 895.6L508.6 891.6L508.6 887.7L508.7 894.6L508.8 896.8L508.9 894.7L509.0 887.3L509.1 898.1L509.2 899.1L509.3 896.3L509.4 890.0L509.5 893.3L509.6 890.1L509.7 899.6L509.8 894.4L509.9 898.9L510.0 898.6L510.1 891.5L510.2 894.3L510.3 884.4L510.3 887.7L510.4 892.9L510.5 894.4L510.6 901.4L510.7 903.2L510.8 888.0L510.9 896.1L511.0 891.8L511.1 892.6L511.2 889.6L511.3 885.2L511.4 889.0L511.5 893.8L511.6 886.7L511.7 890.4L511.8 893.6L511.9 892.0L512.0 888.5L512.0 886.7L512.1 896.0L512.2 894.4L512.3 900.7L512.4 888.6L512.5 893.8L512.6 885.6L512.7 886.3L512.8 891.7L512.9 891.4L513.0 896.5L513.1 896.4L513.2 892.4L513.3 893.8L513.4 885.0L513.5 896.0L513.6 889.6L513.7 893.5L513.7 891.9L513.8 890.5L513.9 898.7L514.0 888.9L514.1 886.7L514.2 887.3L514.3 893.3L514.4 896.9L514.5 888.3L514.6 895.1L514.7 891.2L514.8 903.0L514.9 901.0L515.0 893.3L515.1 893.4L515.2 897.7L515.3 902.6L515.4 890.6L515.4 902.0L515.5 896.1L515.6 888.8L515.7 892.4L515.8 890.6L515.9 891.6L516.0 891.4L516.1 893.1L516.2 897.6L516.3 887.1L516.4 891.2L516.5 891.5L516.6 880.1L516.7 897.7L516.8 887.0L516.9 891.0L517.0 899.2L517.1 895.0L517.1 894.1L517.2 900.3L517.3 894.6L517.4 888.1L517.5 886.1L517.6 890.4L517.7 891.3L517.8 892.6L517.9 895.8L518.0 893.9L518.1 890.1L518.2 899.8L518.3 892.9L518.4 891.2L518.5 890.6L518.6 900.3L518.7 885.0L518.8 889.1L518.8 896.4L518.9 894.0L519.0 888.0L519.1 887.2L519.2 895.6L519.3 896.9L519.4 885.9L519.5 889.2L519.6 892.0L519.7 894.1L519.8 892.3L519.9 896.7L520.0 887.1L520.1 890.5L520.2 889.8L520.3 881.3L520.4 889.6L520.5 897.2L520.6 894.5L520.6 886.6L520.7 885.6L520.8 890.2L520.9 893.0L521.0 887.2L521.1 897.0L521.2 896.2L521.3 892.0L521.4 889.1L521.5 890.3L521.6 889.8L521.7 898.1L521.8 893.2L521.9 891.6L522.0 893.1L522.1 894.2L522.2 888.5L522.3 892.6L522.3 895.8L522.4 886.2L522.5 890.5L522.6 900.7L522.7 889.0L522.8 882.5L522.9 886.7L523.0 885.6L523.1 885.0L523.2 888.9L523.3 894.5L523.4 886.1L523.5 897.4L523.6 890.4L523.7 887.9L523.8 889.3L523.9 892.7L524.0 897.1L524.0 882.5L524.1 887.3L524.2 893.7L524.3 896.5L524.4 890.0L524.5 890.2L524.6 889.7L524.7 884.3L524.8 894.4L524.9 888.4L525.0 899.9L525.1 891.9L525.2 884.0L525.3 897.7L525.4 886.7L525.5 902.6L525.6 892.5L525.7 891.3L525.7 893.3L525.8 888.0L525.9 887.6L526.0 886.0L526.1 892.2L526.2 894.2L526.3 884.9L526.4 893.5L526.5 887.5L526.6 893.8L526.7 887.6L526.8 878.5L526.9 886.4L527.0 878.3L527.1 894.0L527.2 889.8L527.3 888.9L527.4 890.4L527.4 886.3L527.5 886.3L527.6 888.7L527.7 882.7L527.8 894.6L527.9 893.2L528.0 903.8L528.1 888.9L528.2 891.4L528.3 887.8L528.4 893.9L528.5 894.4L528.6 889.5L528.7 893.2L528.8 888.2L528.9 888.3L529.0 890.2L529.1 886.2L529.1 889.1L529.2 891.6L529.3 894.6L529.4 887.8L529.5 893.7L529.6 885.1L529.7 887.9L529.8 892.2L529.9 895.5L530.0 896.3L530.1 883.4L530.2 902.5L530.3 893.6L530.4 878.4L530.5 885.2L530.6 882.0L530.7 886.6L530.8 888.7L530.8 887.0L530.9 901.4L531.0 896.6L531.1 893.3L531.2 894.8L531.3 895.8L531.4 878.5L531.5 894.0L531.6 884.7L531.7 901.2L531.8 902.4L531.9 888.9L532.0 886.0L532.1 895.8L532.2 890.4L532.3 882.9L532.4 883.5L532.5 893.9L532.5 881.1L532.6 882.0L532.7 884.4L532.8 897.6L532.9 892.9L533.0 886.8L533.1 889.3L533.2 888.5L533.3 886.6L533.4 887.7L533.5 885.2L533.6 881.7L533.7 887.5L533.8 890.6L533.9 888.7L534.0 895.3L534.1 888.0L534.2 883.1L534.3 901.0L534.3 899.8L534.4 884.0L534.5 892.1L534.6 889.1L534.7 886.3L534.8 880.6L534.9 884.0L535.0 883.9L535.1 885.1L535.2 893.0L535.3 886.2L535.4 881.5L535.5 906.1L535.6 900.7L535.7 885.5L535.8 895.1L535.9 889.9L536.0 886.8L536.0 880.7L536.1 888.4L536.2 887.1L536.3 882.1L536.4 892.1L536.5 896.3L536.6 882.1L536.7 901.9L536.8 897.7L536.9 895.3L537.0 884.5L537.1 884.3L537.2 885.4L537.3 883.0L537.4 892.4L537.5 889.2L537.6 891.2L537.7 887.8L537.7 887.9L537.8 894.7L537.9 886.2L538.0 885.0L538.1 884.4L538.2 888.8L538.3 886.8L538.4 889.4L538.5 899.0L538.6 882.2L538.7 882.1L538.8 893.0L538.9 889.2L539.0 886.6L539.1 885.5L539.2 887.0L539.3 887.8L539.4 886.3L539.4 896.2L539.5 886.4L539.6 888.7L539.7 878.7L539.8 879.9L539.9 885.4L540.0 889.4L540.1 883.6L540.2 892.3L540.3 881.0L540.4 888.9L540.5 886.9L540.6 892.6L540.7 891.5L540.8 879.4L540.9 884.6L541.0 888.7L541.1 882.4L541.1 888.2L541.2 886.0L541.3 885.4L541.4 891.0L541.5 887.2L541.6 883.0L541.7 884.9L541.8 895.1L541.9 888.7L542.0 876.9L542.1 892.2L542.2 890.4L542.3 886.6L542.4 894.2L542.5 897.9L542.6 880.8L542.7 896.4L542.8 881.8L542.8 885.8L542.9 885.2L543.0 878.5L543.1 892.9L543.2 895.6L543.3 881.6L543.4 881.5L543.5 884.8L543.6 891.2L543.7 893.8L543.8 887.9L543.9 884.7L544.0 893.2L544.1 881.6L544.2 889.9L544.3 888.2L544.4 881.5L544.5 888.8L544.5 881.8L544.6 885.4L544.7 890.5L544.8 889.8L544.9 884.1L545.0 882.9L545.1 882.7L545.2 880.6L545.3 882.9L545.4 883.5L545.5 887.4L545.6 886.4L545.7 892.0L545.8 889.2L545.9 886.2L546.0 888.1L546.1 897.6L546.2 892.7L546.2 879.5L546.3 893.3L546.4 880.3L546.5 884.4L546.6 883.2L546.7 883.0L546.8 888.4L546.9 890.2L547.0 888.6L547.1 882.5L547.2 891.9L547.3 885.6L547.4 884.5L547.5 883.3L547.6 883.9L547.7 893.4L547.8 877.8L547.9 888.9L548.0 882.5L548.0 886.2L548.1 886.6L548.2 888.6L548.3 879.0L548.4 887.5L548.5 892.6L548.6 893.0L548.7 888.8L548.8 880.7L548.9 887.4L549.0 885.1L549.1 880.4L549.2 881.6L549.3 881.2L549.4 882.4L549.5 885.1L549.6 884.2L549.7 882.8L549.7 884.1L549.8 884.7L549.9 887.8L550.0 890.0L550.1 886.4L550.2 889.3L550.3 893.6L550.4 880.8L550.5 890.7L550.6 880.9L550.7 882.2L550.8 885.0L550.9 878.0L551.0 892.9L551.1 884.7L551.2 878.8L551.3 883.3L551.4 888.9L551.4 892.1L551.5 884.4L551.6 893.1L551.7 881.0L551.8 881.9L551.9 898.8L552.0 887.4L552.1 878.6L552.2 881.3L552.3 890.4L552.4 891.7L552.5 891.4L552.6 889.1L552.7 882.3L552.8 883.4L552.9 878.2L553.0 882.4L553.1 879.7L553.1 885.5L553.2 887.0L553.3 888.4L553.4 891.3L553.5 905.9L553.6 876.3L553.7 889.3L553.8 879.4L553.9 886.5L554.0 881.8L554.1 881.4L554.2 878.3L554.3 887.7L554.4 883.2L554.5 886.3L554.6 881.2L554.7 878.7L554.8 889.0L554.8 880.2L554.9 885.9L555.0 893.5L555.1 889.0L555.2 881.8L555.3 883.1L555.4 888.1L555.5 885.8L555.6 883.5L555.7 880.0L555.8 889.2L555.9 889.9L556.0 879.0L556.1 885.2L556.2 889.8L556.3 878.3L556.4 881.8L556.5 887.2L556.5 884.1L556.6 883.4L556.7 889.4L556.8 888.3L556.9 877.2L557.0 882.0L557.1 882.9L557.2 882.8L557.3 885.0L557.4 883.4L557.5 878.8L557.6 885.1L557.7 880.3L557.8 893.8L557.9 883.7L558.0 880.0L558.1 882.1L558.2 887.2L558.2 880.8L558.3 876.4L558.4 897.6L558.5 882.4L558.6 882.6L558.7 882.2L558.8 889.0L558.9 877.1L559.0 888.6L559.1 883.3L559.2 879.9L559.3 879.1L559.4 876.1L559.5 888.6L559.6 886.6L559.7 879.2L559.8 880.1L559.9 883.2L559.9 898.4L560.0 883.0L560.1 883.4L560.2 883.9L560.3 891.9L560.4 876.8L560.5 890.7L560.6 880.3L560.7 885.9L560.8 876.9L560.9 886.6L561.0 886.5L561.1 878.1L561.2 887.9L561.3 879.1L561.4 884.7L561.5 882.6L561.6 877.3L561.7 878.1L561.7 884.7L561.8 879.8L561.9 879.5L562.0 878.5L562.1 884.9L562.2 874.1L562.3 885.7L562.4 889.3L562.5 883.5L562.6 881.3L562.7 871.6L562.8 886.5L562.9 882.2L563.0 885.0L563.1 881.3L563.2 882.9L563.3 875.9L563.4 886.1L563.4 884.9L563.5 879.1L563.6 881.4L563.7 876.5L563.8 884.2L563.9 877.0L564.0 883.9L564.1 885.5L564.2 877.3L564.3 879.9L564.4 880.0L564.5 887.2L564.6 884.2L564.7 879.7L564.8 884.4L564.9 886.6L565.0 884.4L565.1 881.2L565.1 887.8L565.2 876.7L565.3 888.7L565.4 882.1L565.5 880.0L565.6 883.9L565.7 881.1L565.8 891.3L565.9 883.4L566.0 877.8L566.1 879.5L566.2 882.2L566.3 878.6L566.4 882.4L566.5 882.6L566.6 876.8L566.7 882.4L566.8 884.0L566.8 876.5L566.9 871.0L567.0 892.2L567.1 874.1L567.2 872.8L567.3 883.7L567.4 887.4L567.5 885.2L567.6 876.9L567.7 884.2L567.8 889.8L567.9 889.5L568.0 877.6L568.1 879.8L568.2 879.7L568.3 881.2L568.4 874.3L568.5 881.2L568.5 879.3L568.6 874.4L568.7 877.1L568.8 887.1L568.9 872.3L569.0 883.9L569.1 885.9L569.2 877.2L569.3 887.4L569.4 882.4L569.5 874.8L569.6 876.9L569.7 879.1L569.8 873.3L569.9 881.6L570.0 884.4L570.1 873.6L570.2 872.5L570.2 878.4L570.3 876.5L570.4 875.8L570.5 879.4L570.6 891.4L570.7 875.7L570.8 880.4L570.9 877.2L571.0 878.8L571.1 873.2L571.2 876.4L571.3 878.4L571.4 891.3L571.5 880.6L571.6 871.5L571.7 870.1L571.8 874.4L571.9 877.4L571.9 879.2L572.0 890.0L572.1 882.5L572.2 875.9L572.3 879.9L572.4 875.1L572.5 875.6L572.6 871.4L572.7 872.2L572.8 874.9L572.9 874.3L573.0 871.6L573.1 874.2L573.2 881.4L573.3 877.1L573.4 875.0L573.5 869.7L573.6 877.1L573.6 889.4L573.7 882.9L573.8 869.6L573.9 886.9L574.0 876.2L574.1 878.6L574.2 877.8L574.3 868.9L574.4 880.5L574.5 884.2L574.6 877.6L574.7 878.1L574.8 874.6L574.9 879.0L575.0 880.3L575.1 876.8L575.2 877.5L575.3 881.4L575.3 881.8L575.4 876.5L575.5 872.6L575.6 875.9L575.7 880.4L575.8 880.2L575.9 879.7L576.0 878.6L576.1 867.3L576.2 873.4L576.3 877.7L576.4 883.5L576.5 870.4L576.6 874.8L576.7 868.6L576.8 870.3L576.9 877.2L577.0 872.6L577.1 887.8L577.1 876.3L577.2 875.8L577.3 876.6L577.4 879.9L577.5 878.1L577.6 884.6L577.7 869.4L577.8 883.0L577.9 880.1L578.0 865.4L578.1 878.0L578.2 869.4L578.3 869.4L578.4 878.7L578.5 875.6L578.6 883.0L578.7 872.2L578.8 866.6L578.8 871.2L578.9 883.5L579.0 864.9L579.1 875.3L579.2 869.6L579.3 874.0L579.4 874.7L579.5 868.3L579.6 866.2L579.7 871.7L579.8 868.3L579.9 879.3L580.0 875.1L580.1 875.5L580.2 878.3L580.3 870.0L580.4 876.0L580.5 877.1L580.5 873.6L580.6 877.1L580.7 885.6L580.8 875.3L580.9 883.8L581.0 867.4L581.1 870.4L581.2 871.0L581.3 873.6L581.4 877.4L581.5 868.1L581.6 874.1L581.7 869.4L581.8 873.0L581.9 870.8L582.0 871.6L582.1 878.8L582.2 878.8L582.2 872.6L582.3 880.1L582.4 875.3L582.5 874.4L582.6 871.7L582.7 873.7L582.8 868.1L582.9 872.9L583.0 881.4L583.1 875.7L583.2 881.7L583.3 870.9L583.4 865.3L583.5 874.4L583.6 869.4L583.7 866.1L583.8 873.4L583.9 867.7L583.9 867.4L584.0 868.6L584.1 868.5L584.2 869.9L584.3 881.4L584.4 878.6L584.5 874.7L584.6 875.4L584.7 866.8L584.8 867.8L584.9 870.8L585.0 868.5L585.1 872.2L585.2 873.0L585.3 873.9L585.4 872.0L585.5 876.3L585.6 872.7L585.6 865.8L585.7 884.2L585.8 873.5L585.9 860.0L586.0 868.0L586.1 870.2L586.2 874.1L586.3 873.2L586.4 863.5L586.5 865.1L586.6 865.4L586.7 865.9L586.8 871.9L586.9 869.5L587.0 878.4L587.1 872.4L587.2 885.3L587.3 873.5L587.3 880.1L587.4 881.6L587.5 868.1L587.6 863.6L587.7 864.9L587.8 877.6L587.9 880.6L588.0 870.7L588.1 868.6L588.2 872.6L588.3 867.9L588.4 881.7L588.5 873.5L588.6 868.2L588.7 863.9L588.8 868.4L588.9 869.0L589.0 870.4L589.0 864.2L589.1 872.9L589.2 869.1L589.3 871.7L589.4 870.7L589.5 869.7L589.6 879.5L589.7 865.7L589.8 862.1L589.9 861.7L590.0 860.8L590.1 881.9L590.2 870.0L590.3 869.4L590.4 865.3L590.5 869.6L590.6 867.9L590.7 873.5L590.8 862.9L590.8 874.0L590.9 867.6L591.0 858.5L591.1 866.7L591.2 869.3L591.3 862.2L591.4 863.5L591.5 868.2L591.6 867.5L591.7 865.2L591.8 860.1L591.9 869.5L592.0 864.5L592.1 870.6L592.2 880.5L592.3 876.8L592.4 864.9L592.5 872.4L592.5 867.9L592.6 862.1L592.7 872.1L592.8 867.5L592.9 868.0L593.0 873.9L593.1 866.6L593.2 863.7L593.3 875.7L593.4 868.8L593.5 864.7L593.6 863.5L593.7 864.8L593.8 856.5L593.9 862.5L594.0 862.0L594.1 868.0L594.2 863.4L594.2 861.6L594.3 865.3L594.4 867.6L594.5 859.8L594.6 868.1L594.7 870.0L594.8 864.2L594.9 862.8L595.0 865.9L595.1 868.7L595.2 863.1L595.3 867.3L595.4 867.6L595.5 866.6L595.6 874.3L595.7 869.5L595.8 871.6L595.9 861.3L595.9 862.0L596.0 875.1L596.1 870.1L596.2 865.0L596.3 856.4L596.4 863.8L596.5 865.6L596.6 860.0L596.7 863.8L596.8 865.9L596.9 874.3L597.0 859.8L597.1 857.2L597.2 863.5L597.3 861.9L597.4 868.5L597.5 860.0L597.6 864.7L597.6 866.7L597.7 856.4L597.8 860.8L597.9 858.2L598.0 860.8L598.1 870.0L598.2 874.3L598.3 867.6L598.4 860.2L598.5 864.4L598.6 863.9L598.7 861.8L598.8 865.1L598.9 865.3L599.0 864.7L599.1 863.6L599.2 869.4L599.3 859.7L599.3 862.9L599.4 861.6L599.5 865.1L599.6 857.6L599.7 872.2L599.8 864.3L599.9 857.1L600.0 860.4L600.1 860.6L600.2 867.7L600.3 869.0L600.4 860.7L600.5 861.2L600.6 888.0L600.7 855.3L600.8 865.0L600.9 863.0L601.0 863.7L601.0 863.8L601.1 861.9L601.2 860.4L601.3 853.6L601.4 860.8L601.5 858.2L601.6 854.1L601.7 860.5L601.8 862.9L601.9 853.8L602.0 862.6L602.1 861.0L602.2 860.9L602.3 858.9L602.4 853.0L602.5 851.7L602.6 856.0L602.7 861.0L602.7 851.7L602.8 863.8L602.9 858.7L603.0 851.1L603.1 857.6L603.2 867.0L603.3 858.0L603.4 857.3L603.5 854.1L603.6 866.5L603.7 851.1L603.8 864.5L603.9 853.9L604.0 864.7L604.1 862.6L604.2 856.3L604.3 861.8L604.4 858.6L604.5 852.2L604.5 858.7L604.6 863.7L604.7 852.3L604.8 858.3L604.9 868.4L605.0 855.6L605.1 856.3L605.2 861.9L605.3 856.1L605.4 856.7L605.5 857.3L605.6 857.9L605.7 866.7L605.8 854.0L605.9 855.5L606.0 862.5L606.1 854.1L606.2 848.9L606.2 862.8L606.3 853.7L606.4 870.5L606.5 856.1L606.6 848.9L606.7 862.0L606.8 862.5L606.9 853.3L607.0 853.8L607.1 858.3L607.2 851.9L607.3 859.3L607.4 851.8L607.5 847.5L607.6 861.4L607.7 848.7L607.8 847.8L607.9 856.3L607.9 848.2L608.0 855.8L608.1 850.6L608.2 845.0L608.3 851.3L608.4 850.9L608.5 858.4L608.6 861.6L608.7 855.1L608.8 855.7L608.9 850.9L609.0 867.3L609.1 849.6L609.2 858.0L609.3 857.5L609.4 844.3L609.5 857.5L609.6 859.0L609.6 844.0L609.7 860.0L609.8 848.0L609.9 847.7L610.0 856.2L610.1 847.0L610.2 857.0L610.3 853.4L610.4 846.3L610.5 846.6L610.6 850.4L610.7 850.9L610.8 862.4L610.9 850.9L611.0 849.0L611.1 854.0L611.2 857.2L611.3 842.8L611.3 848.4L611.4 848.5L611.5 861.4L611.6 843.7L611.7 848.2L611.8 851.6L611.9 854.9L612.0 848.3L612.1 850.2L612.2 845.7L612.3 845.6L612.4 843.2L612.5 849.6L612.6 841.1L612.7 854.3L612.8 848.0L612.9 852.0L613.0 851.6L613.0 849.2L613.1 839.9L613.2 861.8L613.3 852.9L613.4 850.5L613.5 846.7L613.6 859.8L613.7 842.1L613.8 843.2L613.9 849.0L614.0 850.8L614.1 852.5L614.2 839.0L614.3 839.7L614.4 851.1L614.5 837.0L614.6 841.2L614.7 844.5L614.7 845.2L614.8 843.8L614.9 838.0L615.0 856.2L615.1 839.6L615.2 841.1L615.3 843.5L615.4 848.2L615.5 842.8L615.6 848.1L615.7 844.9L615.8 853.6L615.9 843.5L616.0 858.8L616.1 843.1L616.2 850.7L616.3 844.2L616.4 843.0L616.4 839.0L616.5 846.1L616.6 849.3L616.7 843.9L616.8 837.5L616.9 837.1L617.0 835.4L617.1 835.7L617.2 836.7L617.3 848.6L617.4 830.7L617.5 837.6L617.6 842.6L617.7 847.0L617.8 839.8L617.9 847.7L618.0 841.1L618.1 834.6L618.2 836.5L618.2 833.8L618.3 863.7L618.4 835.4L618.5 831.3L618.6 837.0L618.7 835.7L618.8 840.3L618.9 835.8L619.0 833.1L619.1 841.8L619.2 836.0L619.3 835.4L619.4 838.9L619.5 840.1L619.6 825.8L619.7 835.0L619.8 841.9L619.9 833.7L619.9 832.2L620.0 830.5L620.1 827.9L620.2 833.8L620.3 827.1L620.4 827.6L620.5 828.7L620.6 833.5L620.7 823.7L620.8 834.7L620.9 833.2L621.0 832.5L621.1 830.0L621.2 825.0L621.3 828.5L621.4 832.5L621.5 824.7L621.6 833.2L621.6 831.8L621.7 827.5L621.8 825.9L621.9 829.8L622.0 831.7L622.1 832.6L622.2 828.6L622.3 827.4L622.4 828.9L622.5 826.8L622.6 827.7L622.7 823.5L622.8 814.3L622.9 825.5L623.0 832.7L623.1 820.0L623.2 816.0L623.3 824.4L623.3 822.0L623.4 815.9L623.5 823.5L623.6 822.4L623.7 832.2L623.8 823.8L623.9 813.9L624.0 810.1L624.1 808.8L624.2 820.6L624.3 823.7L624.4 817.7L624.5 819.1L624.6 817.2L624.7 812.8L624.8 820.9L624.9 817.6L625.0 809.3L625.0 808.3L625.1 807.5L625.2 818.1L625.3 807.1L625.4 801.8L625.5 807.6L625.6 811.3L625.7 806.4L625.8 796.9L625.9 796.2L626.0 806.0L626.1 803.1L626.2 795.3L626.3 788.7L626.4 786.0L626.5 808.6L626.6 789.4L626.7 788.7L626.7 781.5L626.8 781.8L626.9 783.0L627.0 781.9L627.1 785.0L627.2 771.4L627.3 788.6L627.4 787.2L627.5 787.6L627.6 781.6L627.7 789.9L627.8 786.3L627.9 786.3L628.0 794.5L628.1 785.8L628.2 788.3L628.3 790.6L628.4 797.4L628.4 796.5L628.5 807.5L628.6 805.5L628.7 810.0L628.8 801.1L628.9 809.1L629.0 806.3L629.1 810.2L629.2 808.2L629.3 813.9L629.4 815.0L629.5 818.7L629.6 812.4L629.7 810.8L629.8 823.7L629.9 810.0L630.0 808.5L630.1 821.3L630.1 818.8L630.2 823.8L630.3 812.8L630.4 810.3L630.5 818.3L630.6 834.2L630.7 813.6L630.8 833.3L630.9 819.6L631.0 820.7L631.1 823.8L631.2 825.5L631.3 828.8L631.4 827.0L631.5 819.9L631.6 823.0L631.7 827.9L631.8 831.6L631.9 832.8L631.9 829.7L632.0 824.0L632.1 825.0L632.2 827.0L632.3 831.2L632.4 832.7L632.5 830.0L632.6 826.3L632.7 839.4L632.8 837.8L632.9 830.1L633.0 839.8L633.1 826.7L633.2 826.4L633.3 834.8L633.4 829.1L633.5 839.6L633.6 841.0L633.6 832.8L633.7 826.3L633.8 828.8L633.9 821.2L634.0 822.0L634.1 832.5L634.2 834.0L634.3 842.0L634.4 834.9L634.5 837.3L634.6 833.4L634.7 845.4L634.8 838.6L634.9 849.6L635.0 831.8L635.1 851.2L635.2 827.8L635.3 831.8L635.3 841.2L635.4 837.2L635.5 828.8L635.6 855.7L635.7 836.5L635.8 831.4L635.9 836.3L636.0 837.9L636.1 841.2L636.2 845.8L636.3 841.7L636.4 841.1L636.5 838.1L636.6 839.1L636.7 837.4L636.8 841.9L636.9 841.2L637.0 841.7L637.0 845.6L637.1 846.0L637.2 852.9L637.3 851.3L637.4 852.9L637.5 842.3L637.6 856.6L637.7 843.1L637.8 854.5L637.9 850.9L638.0 844.8L638.1 845.4L638.2 841.3L638.3 843.6L638.4 849.3L638.5 847.0L638.6 841.8L638.7 845.9L638.7 840.9L638.8 851.8L638.9 851.7L639.0 855.8L639.1 841.9L639.2 838.8L639.3 850.3L639.4 851.4L639.5 855.9L639.6 841.9L639.7 849.8L639.8 846.7L639.9 847.7L640.0 859.8L640.1 862.8L640.2 840.9L640.3 842.5L640.4 843.5L640.4 850.5L640.5 855.0L640.6 849.5L640.7 856.2L640.8 848.0L640.9 851.1L641.0 853.1L641.1 848.6L641.2 852.2L641.3 857.6L641.4 856.4L641.5 851.6L641.6 853.2L641.7 846.9L641.8 850.1L641.9 849.6L642.0 861.4L642.1 853.4L642.1 862.0L642.2 856.0L642.3 849.2L642.4 856.8L642.5 855.2L642.6 851.6L642.7 855.7L642.8 846.8L642.9 856.7L643.0 854.8L643.1 846.0L643.2 852.6L643.3 854.7L643.4 843.9L643.5 852.2L643.6 846.6L643.7 850.5L643.8 850.3L643.8 846.7L643.9 851.3L644.0 857.0L644.1 855.4L644.2 854.9L644.3 848.0L644.4 849.3L644.5 853.5L644.6 854.8L644.7 853.8L644.8 849.0L644.9 845.4L645.0 853.7L645.1 862.5L645.2 865.1L645.3 862.9L645.4 845.8L645.5 865.5L645.6 858.9L645.6 855.6L645.7 862.3L645.8 855.7L645.9 886.3L646.0 853.8L646.1 854.8L646.2 850.7L646.3 846.6L646.4 873.7L646.5 846.4L646.6 851.1L646.7 862.3L646.8 850.4L646.9 855.4L647.0 865.0L647.1 860.8L647.2 868.4L647.3 853.4L647.3 859.7L647.4 850.1L647.5 859.6L647.6 860.2L647.7 865.8L647.8 848.6L647.9 860.4L648.0 851.2L648.1 850.6L648.2 856.2L648.3 857.9L648.4 861.2L648.5 858.9L648.6 855.6L648.7 854.3L648.8 851.8L648.9 854.1L649.0 858.9L649.0 865.9L649.1 864.8L649.2 861.5L649.3 855.3L649.4 853.9L649.5 864.3L649.6 862.8L649.7 876.7L649.8 877.1L649.9 857.0L650.0 846.8L650.1 866.6L650.2 866.9L650.3 868.8L650.4 860.7L650.5 874.1L650.6 848.8L650.7 862.2L650.7 854.0L650.8 868.9L650.9 861.6L651.0 854.8L651.1 882.6L651.2 871.8L651.3 859.1L651.4 850.7L651.5 861.1L651.6 868.9L651.7 861.9L651.8 876.3L651.9 856.8L652.0 861.2L652.1 861.8L652.2 868.6L652.3 857.1L652.4 881.0L652.4 858.3L652.5 868.0L652.6 874.0L652.7 868.4L652.8 859.8L652.9 856.2L653.0 849.5L653.1 859.4L653.2 863.3L653.3 864.1L653.4 861.1L653.5 867.6L653.6 868.1L653.7 861.6L653.8 860.1L653.9 882.6L654.0 863.5L654.1 866.4L654.1 863.6L654.2 855.1L654.3 852.8L654.4 860.8L654.5 856.4L654.6 858.2L654.7 884.2L654.8 862.3L654.9 882.2L655.0 887.6L655.1 865.8L655.2 867.0L655.3 857.6L655.4 866.6L655.5 878.0L655.6 866.9L655.7 871.1L655.8 875.0L655.8 860.6L655.9 866.3L656.0 856.9L656.1 863.9L656.2 855.6L656.3 870.5L656.4 869.9L656.5 870.0L656.6 865.6L656.7 857.7L656.8 863.2L656.9 876.1L657.0 864.3L657.1 884.3L657.2 867.1L657.3 870.6L657.4 856.7L657.5 862.7L657.5 859.2L657.6 866.2L657.7 860.6L657.8 869.7L657.9 863.9L658.0 865.1L658.1 865.2L658.2 866.3L658.3 874.1L658.4 863.2" fill="none" stroke="#3d7ec4" stroke-width="1.1" stroke-linejoin="round"/>
<path d="M91.6 896.3L91.7 898.6L91.8 895.3L91.9 903.4L92.0 906.4L92.1 907.7L92.2 902.3L92.3 914.9L92.4 903.8L92.5 909.3L92.5 907.1L92.6 906.7L92.7 899.0L92.8 921.3L92.9 903.2L93.0 904.4L93.1 905.9L93.2 909.5L93.3 906.8L93.4 899.4L93.5 916.7L93.6 900.4L93.7 901.8L93.8 903.6L93.9 903.2L94.0 901.0L94.1 920.9L94.2 907.9L94.2 904.9L94.3 912.1L94.4 905.3L94.5 898.2L94.6 907.0L94.7 904.2L94.8 914.1L94.9 901.9L95.0 904.0L95.1 904.8L95.2 911.8L95.3 906.8L95.4 917.0L95.5 899.6L95.6 909.1L95.7 909.7L95.8 906.1L95.9 904.1L95.9 913.6L96.0 915.0L96.1 905.4L96.2 904.4L96.3 900.4L96.4 905.3L96.5 903.2L96.6 908.9L96.7 907.8L96.8 903.6L96.9 904.2L97.0 902.3L97.1 916.6L97.2 910.5L97.3 903.5L97.4 906.6L97.5 916.6L97.6 920.2L97.6 925.7L97.7 912.4L97.8 911.7L97.9 908.9L98.0 903.3L98.1 903.7L98.2 913.4L98.3 909.6L98.4 907.5L98.5 907.6L98.6 902.1L98.7 902.9L98.8 900.6L98.9 905.0L99.0 896.2L99.1 907.8L99.2 908.0L99.3 903.8L99.3 903.4L99.4 901.7L99.5 901.2L99.6 912.2L99.7 910.6L99.8 903.6L99.9 911.1L100.0 903.7L100.1 913.8L100.2 900.3L100.3 902.5L100.4 906.4L100.5 909.2L100.6 906.1L100.7 915.3L100.8 910.8L100.9 902.1L101.0 908.1L101.0 901.6L101.1 905.4L101.2 913.6L101.3 919.3L101.4 906.5L101.5 910.6L101.6 908.9L101.7 897.3L101.8 906.3L101.9 910.5L102.0 908.2L102.1 905.3L102.2 912.1L102.3 913.8L102.4 897.5L102.5 900.8L102.6 905.3L102.7 900.4L102.7 910.0L102.8 911.1L102.9 910.0L103.0 913.2L103.1 912.2L103.2 906.1L103.3 906.1L103.4 907.6L103.5 908.6L103.6 902.2L103.7 902.5L103.8 903.8L103.9 901.0L104.0 904.5L104.1 906.7L104.2 904.2L104.3 902.4L104.4 898.0L104.4 907.5L104.5 906.8L104.6 913.4L104.7 910.1L104.8 913.9L104.9 908.5L105.0 908.0L105.1 902.4L105.2 907.1L105.3 909.2L105.4 910.8L105.5 913.3L105.6 900.4L105.7 902.6L105.8 913.0L105.9 907.0L106.0 911.9L106.1 905.5L106.2 903.7L106.2 908.2L106.3 917.1L106.4 912.2L106.5 911.5L106.6 898.1L106.7 900.5L106.8 904.2L106.9 911.0L107.0 910.3L107.1 910.9L107.2 903.3L107.3 917.3L107.4 902.7L107.5 914.4L107.6 902.0L107.7 904.2L107.8 906.6L107.9 906.5L107.9 908.7L108.0 896.8L108.1 908.7L108.2 906.9L108.3 905.9L108.4 909.0L108.5 900.8L108.6 911.4L108.7 910.7L108.8 916.3L108.9 905.1L109.0 908.8L109.1 906.2L109.2 903.1L109.3 910.6L109.4 911.5L109.5 909.9L109.6 899.5L109.6 914.9L109.7 901.9L109.8 904.0L109.9 901.6L110.0 905.4L110.1 907.0L110.2 913.7L110.3 907.4L110.4 907.4L110.5 912.9L110.6 901.6L110.7 900.6L110.8 915.0L110.9 903.2L111.0 903.9L111.1 901.9L111.2 907.3L111.3 906.9L111.3 900.5L111.4 911.7L111.5 902.7L111.6 913.2L111.7 903.8L111.8 907.3L111.9 904.3L112.0 911.4L112.1 907.0L112.2 905.0L112.3 900.4L112.4 904.9L112.5 908.2L112.6 910.6L112.7 900.9L112.8 900.4L112.9 900.3L113.0 899.0L113.0 903.1L113.1 900.2L113.2 901.6L113.3 902.6L113.4 918.7L113.5 908.3L113.6 921.6L113.7 911.0L113.8 905.9L113.9 916.0L114.0 908.7L114.1 909.8L114.2 912.0L114.3 906.5L114.4 912.2L114.5 911.7L114.6 904.0L114.7 906.8L114.7 906.4L114.8 904.7L114.9 905.2L115.0 900.7L115.1 905.5L115.2 921.2L115.3 909.4L115.4 906.3L115.5 903.4L115.6 905.2L115.7 906.9L115.8 901.6L115.9 898.2L116.0 900.4L116.1 907.8L116.2 904.4L116.3 903.9L116.4 907.2L116.4 902.7L116.5 909.9L116.6 904.5L116.7 903.0L116.8 904.8L116.9 909.4L117.0 910.3L117.1 899.2L117.2 912.3L117.3 905.9L117.4 907.3L117.5 914.9L117.6 907.3L117.7 901.7L117.8 911.5L117.9 910.5L118.0 904.0L118.1 904.0L118.1 905.4L118.2 909.6L118.3 909.8L118.4 911.4L118.5 904.0L118.6 903.3L118.7 907.2L118.8 912.9L118.9 906.9L119.0 905.4L119.1 902.8L119.2 906.4L119.3 912.8L119.4 910.0L119.5 896.4L119.6 902.1L119.7 897.8L119.8 903.8L119.9 911.7L119.9 911.2L120.0 905.5L120.1 906.8L120.2 907.1L120.3 903.8L120.4 916.7L120.5 900.6L120.6 908.2L120.7 901.8L120.8 908.1L120.9 902.1L121.0 898.7L121.1 912.8L121.2 907.6L121.3 903.9L121.4 899.3L121.5 900.2L121.6 909.2L121.6 906.4L121.7 905.7L121.8 899.3L121.9 916.1L122.0 906.8L122.1 907.3L122.2 902.9L122.3 901.3L122.4 902.2L122.5 902.7L122.6 902.1L122.7 914.0L122.8 908.6L122.9 903.6L123.0 903.4L123.1 912.8L123.2 911.0L123.3 903.2L123.3 910.4L123.4 902.2L123.5 898.2L123.6 905.7L123.7 903.8L123.8 904.7L123.9 901.5L124.0 898.6L124.1 904.0L124.2 928.4L124.3 907.2L124.4 911.3L124.5 907.1L124.6 908.9L124.7 902.2L124.8 901.6L124.9 908.2L125.0 906.3L125.0 903.0L125.1 909.6L125.2 903.5L125.3 905.0L125.4 902.7L125.5 914.6L125.6 904.3L125.7 911.6L125.8 905.1L125.9 907.0L126.0 904.8L126.1 905.2L126.2 901.7L126.3 906.5L126.4 900.7L126.5 909.0L126.6 904.8L126.7 905.3L126.7 906.7L126.8 907.5L126.9 904.2L127.0 906.1L127.1 902.8L127.2 907.2L127.3 897.9L127.4 899.1L127.5 908.7L127.6 903.4L127.7 910.2L127.8 901.1L127.9 906.3L128.0 905.2L128.1 904.0L128.2 923.3L128.3 904.4L128.4 899.4L128.4 926.2L128.5 904.4L128.6 908.5L128.7 900.8L128.8 913.1L128.9 906.6L129.0 911.5L129.1 908.1L129.2 914.0L129.3 906.0L129.4 908.6L129.5 899.3L129.6 905.4L129.7 908.2L129.8 911.7L129.9 910.5L130.0 907.6L130.1 903.2L130.1 898.2L130.2 906.8L130.3 902.8L130.4 916.2L130.5 898.6L130.6 905.9L130.7 915.7L130.8 913.9L130.9 908.4L131.0 901.8L131.1 895.4L131.2 906.5L131.3 910.9L131.4 904.5L131.5 904.2L131.6 912.6L131.7 906.0L131.8 905.6L131.8 907.9L131.9 901.3L132.0 908.3L132.1 910.7L132.2 910.1L132.3 915.8L132.4 916.7L132.5 918.6L132.6 911.5L132.7 905.5L132.8 901.3L132.9 912.0L133.0 910.9L133.1 907.4L133.2 904.8L133.3 901.7L133.4 905.7L133.5 911.0L133.6 902.6L133.6 918.7L133.7 902.2L133.8 900.9L133.9 907.9L134.0 911.4L134.1 910.7L134.2 914.2L134.3 903.8L134.4 906.7L134.5 920.3L134.6 911.8L134.7 906.2L134.8 898.2L134.9 904.1L135.0 903.2L135.1 903.7L135.2 903.9L135.3 911.3L135.3 903.1L135.4 908.2L135.5 895.5L135.6 913.9L135.7 904.5L135.8 909.0L135.9 909.2L136.0 907.2L136.1 906.6L136.2 902.6L136.3 908.2L136.4 909.3L136.5 900.3L136.6 904.4L136.7 914.1L136.8 909.1L136.9 905.5L137.0 903.3L137.0 905.2L137.1 905.9L137.2 908.7L137.3 903.8L137.4 917.0L137.5 907.8L137.6 906.8L137.7 913.8L137.8 903.9L137.9 905.4L138.0 919.1L138.1 900.8L138.2 915.1L138.3 912.8L138.4 905.0L138.5 917.1L138.6 907.2L138.7 911.2L138.7 907.5L138.8 910.2L138.9 906.6L139.0 915.0L139.1 910.4L139.2 901.8L139.3 904.0L139.4 908.7L139.5 909.5L139.6 911.6L139.7 907.4L139.8 904.4L139.9 903.4L140.0 902.4L140.1 895.3L140.2 907.4L140.3 905.6L140.4 912.3L140.4 905.6L140.5 913.2L140.6 901.8L140.7 902.1L140.8 908.0L140.9 904.9L141.0 907.3L141.1 909.3L141.2 909.2L141.3 906.4L141.4 909.3L141.5 905.6L141.6 901.4L141.7 907.0L141.8 910.0L141.9 906.6L142.0 909.0L142.1 905.7L142.1 897.3L142.2 907.7L142.3 907.0L142.4 908.5L142.5 913.0L142.6 904.7L142.7 904.1L142.8 910.3L142.9 903.7L143.0 909.5L143.1 905.8L143.2 914.9L143.3 910.7L143.4 908.8L143.5 904.1L143.6 906.7L143.7 907.8L143.8 907.4L143.8 906.5L143.9 923.0L144.0 909.7L144.1 908.6L144.2 901.0L144.3 907.1L144.4 906.7L144.5 904.0L144.6 914.7L144.7 903.0L144.8 898.1L144.9 912.5L145.0 906.6L145.1 913.2L145.2 904.0L145.3 904.2L145.4 907.0L145.5 905.9L145.5 904.6L145.6 909.1L145.7 900.2L145.8 909.5L145.9 906.9L146.0 897.8L146.1 906.7L146.2 902.4L146.3 900.1L146.4 902.2L146.5 901.8L146.6 926.9L146.7 915.8L146.8 904.5L146.9 904.9L147.0 909.9L147.1 905.9L147.2 915.2L147.3 906.9L147.3 909.4L147.4 913.1L147.5 915.7L147.6 910.8L147.7 904.7L147.8 913.2L147.9 903.3L148.0 915.2L148.1 906.5L148.2 907.0L148.3 915.0L148.4 913.2L148.5 904.5L148.6 902.9L148.7 901.3L148.8 903.5L148.9 910.9L149.0 912.3L149.0 901.5L149.1 905.8L149.2 902.2L149.3 909.8L149.4 905.4L149.5 908.5L149.6 923.3L149.7 903.2L149.8 910.3L149.9 898.3L150.0 906.5L150.1 906.1L150.2 903.0L150.3 907.8L150.4 909.3L150.5 913.0L150.6 908.6L150.7 908.4L150.7 903.2L150.8 909.6L150.9 908.1L151.0 906.2L151.1 909.3L151.2 905.1L151.3 911.2L151.4 905.4L151.5 905.7L151.6 906.7L151.7 908.5L151.8 906.4L151.9 905.3L152.0 908.5L152.1 908.4L152.2 902.5L152.3 907.0L152.4 902.0L152.4 905.1L152.5 909.1L152.6 904.4L152.7 911.0L152.8 914.2L152.9 915.2L153.0 906.7L153.1 911.9L153.2 920.6L153.3 906.3L153.4 909.5L153.5 900.7L153.6 909.3L153.7 901.6L153.8 912.1L153.9 904.2L154.0 907.7L154.1 898.8L154.1 909.9L154.2 902.4L154.3 906.9L154.4 910.1L154.5 908.7L154.6 913.1L154.7 906.1L154.8 909.4L154.9 912.3L155.0 900.7L155.1 912.2L155.2 909.7L155.3 907.1L155.4 897.5L155.5 912.2L155.6 913.6L155.7 901.7L155.8 909.5L155.8 912.6L155.9 905.7L156.0 911.4L156.1 909.8L156.2 908.9L156.3 914.5L156.4 909.0L156.5 913.2L156.6 904.6L156.7 910.3L156.8 914.0L156.9 924.1L157.0 900.8L157.1 902.9L157.2 904.5L157.3 907.3L157.4 931.2L157.5 904.7L157.5 911.9L157.6 904.6L157.7 917.1L157.8 910.3L157.9 897.5L158.0 900.3L158.1 914.4L158.2 914.4L158.3 907.0L158.4 905.1L158.5 901.9L158.6 901.7L158.7 899.2L158.8 898.8L158.9 919.5L159.0 905.9L159.1 907.8L159.2 913.1L159.2 902.3L159.3 906.3L159.4 901.8L159.5 905.8L159.6 906.8L159.7 916.8L159.8 898.3L159.9 902.5L160.0 907.6L160.1 904.9L160.2 911.5L160.3 901.9L160.4 902.2L160.5 913.7L160.6 911.1L160.7 907.7L160.8 912.7L160.9 914.7L161.0 905.5L161.0 910.1L161.1 911.0L161.2 908.5L161.3 911.3L161.4 909.0L161.5 903.1L161.6 903.3L161.7 906.7L161.8 907.8L161.9 906.4L162.0 905.9L162.1 904.9L162.2 905.7L162.3 909.0L162.4 907.6L162.5 908.6L162.6 902.6L162.7 906.0L162.7 903.4L162.8 911.0L162.9 906.4L163.0 905.8L163.1 914.5L163.2 907.3L163.3 903.6L163.4 901.1L163.5 908.4L163.6 909.3L163.7 914.4L163.8 919.4L163.9 920.2L164.0 905.4L164.1 908.9L164.2 909.0L164.3 905.1L164.4 903.2L164.4 901.2L164.5 902.3L164.6 906.5L164.7 923.4L164.8 907.2L164.9 911.6L165.0 911.3L165.1 906.8L165.2 905.9L165.3 901.0L165.4 907.3L165.5 907.2L165.6 908.2L165.7 926.7L165.8 912.8L165.9 899.0L166.0 902.6L166.1 904.5L166.1 906.5L166.2 900.4L166.3 905.1L166.4 897.5L166.5 906.9L166.6 904.4L166.7 909.5L166.8 898.7L166.9 904.5L167.0 907.7L167.1 909.2L167.2 908.9L167.3 906.4L167.4 909.5L167.5 906.2L167.6 909.9L167.7 903.3L167.8 905.7L167.8 906.7L167.9 902.4L168.0 906.8L168.1 908.4L168.2 906.4L168.3 909.5L168.4 902.1L168.5 912.0L168.6 917.4L168.7 907.9L168.8 903.1L168.9 909.2L169.0 903.3L169.1 898.7L169.2 910.1L169.3 908.7L169.4 898.5L169.5 913.4L169.5 915.8L169.6 906.8L169.7 901.0L169.8 907.8L169.9 908.0L170.0 906.5L170.1 903.6L170.2 911.8L170.3 907.3L170.4 909.5L170.5 907.8L170.6 908.6L170.7 915.3L170.8 905.4L170.9 917.4L171.0 911.6L171.1 907.4L171.2 903.4L171.2 908.9L171.3 904.4L171.4 902.0L171.5 907.8L171.6 904.3L171.7 900.1L171.8 905.0L171.9 905.8L172.0 908.6L172.1 903.1L172.2 905.3L172.3 909.0L172.4 908.7L172.5 901.7L172.6 905.3L172.7 902.7L172.8 905.2L172.9 912.1L172.9 905.6L173.0 904.8L173.1 913.1L173.2 909.0L173.3 913.9L173.4 906.9L173.5 915.9L173.6 914.1L173.7 903.3L173.8 906.7L173.9 905.8L174.0 911.2L174.1 906.4L174.2 902.5L174.3 903.8L174.4 901.0L174.5 915.0L174.6 901.4L174.7 908.6L174.7 906.8L174.8 915.4L174.9 901.9L175.0 907.1L175.1 900.5L175.2 913.0L175.3 903.2L175.4 909.0L175.5 908.2L175.6 905.2L175.7 911.8L175.8 908.1L175.9 902.5L176.0 907.5L176.1 906.4L176.2 913.8L176.3 905.9L176.4 914.9L176.4 913.6L176.5 900.6L176.6 908.2L176.7 909.4L176.8 910.0L176.9 922.6L177.0 910.6L177.1 901.0L177.2 913.9L177.3 911.8L177.4 905.6L177.5 910.6L177.6 899.9L177.7 907.9L177.8 907.5L177.9 908.7L178.0 911.9L178.1 904.7L178.1 903.8L178.2 901.9L178.3 915.0L178.4 903.7L178.5 911.0L178.6 904.7L178.7 900.8L178.8 912.0L178.9 909.6L179.0 907.7L179.1 902.7L179.2 902.5L179.3 910.9L179.4 903.6L179.5 901.4L179.6 902.9L179.7 904.3L179.8 907.8L179.8 908.1L179.9 905.1L180.0 902.8L180.1 901.1L180.2 906.6L180.3 919.6L180.4 901.7L180.5 898.6L180.6 913.3L180.7 894.8L180.8 904.5L180.9 907.6L181.0 906.5L181.1 910.6L181.2 910.1L181.3 904.9L181.4 905.7L181.5 910.9L181.5 917.1L181.6 903.1L181.7 901.5L181.8 913.6L181.9 904.2L182.0 903.7L182.1 910.2L182.2 904.5L182.3 916.4L182.4 921.4L182.5 899.8L182.6 904.2L182.7 908.5L182.8 903.4L182.9 910.5L183.0 908.5L183.1 913.1L183.2 904.7L183.2 901.4L183.3 907.6L183.4 911.8L183.5 902.7L183.6 908.4L183.7 903.2L183.8 906.3L183.9 905.8L184.0 904.1L184.1 900.8L184.2 897.9L184.3 903.4L184.4 901.9L184.5 902.2L184.6 905.5L184.7 907.6L184.8 911.9L184.9 904.9L184.9 911.7L185.0 909.7L185.1 902.6L185.2 900.8L185.3 902.9L185.4 910.4L185.5 908.9L185.6 903.5L185.7 902.3L185.8 901.0L185.9 907.1L186.0 912.2L186.1 900.0L186.2 903.3L186.3 909.3L186.4 906.8L186.5 903.6L186.6 914.0L186.6 898.2L186.7 915.3L186.8 914.9L186.9 902.0L187.0 901.8L187.1 913.1L187.2 906.3L187.3 904.0L187.4 919.4L187.5 907.4L187.6 897.4L187.7 903.5L187.8 902.1L187.9 905.1L188.0 912.5L188.1 904.1L188.2 917.0L188.3 897.0L188.3 908.5L188.4 895.9L188.5 910.1L188.6 908.3L188.7 910.6L188.8 906.1L188.9 906.1L189.0 902.8L189.1 909.3L189.2 904.7L189.3 906.9L189.4 901.4L189.5 906.4L189.6 907.1L189.7 902.2L189.8 906.7L189.9 905.2L190.0 905.6L190.1 911.2L190.1 907.3L190.2 908.8L190.3 899.4L190.4 902.6L190.5 908.1L190.6 907.0L190.7 905.7L190.8 910.9L190.9 904.4L191.0 908.4L191.1 902.6L191.2 924.7L191.3 903.8L191.4 904.1L191.5 905.8L191.6 907.8L191.7 899.6L191.8 901.8L191.8 904.9L191.9 912.5L192.0 907.5L192.1 910.0L192.2 904.2L192.3 901.0L192.4 909.8L192.5 905.8L192.6 899.3L192.7 914.2L192.8 911.1L192.9 905.7L193.0 906.3L193.1 911.4L193.2 913.7L193.3 909.7L193.4 905.5L193.5 903.0L193.5 913.7L193.6 905.4L193.7 908.5L193.8 910.3L193.9 902.0L194.0 908.8L194.1 906.5L194.2 915.7L194.3 917.5L194.4 903.1L194.5 905.5L194.6 909.9L194.7 902.1L194.8 908.5L194.9 907.2L195.0 911.1L195.1 908.3L195.2 898.9L195.2 910.5L195.3 910.1L195.4 909.5L195.5 910.7L195.6 904.3L195.7 906.3L195.8 912.0L195.9 909.9L196.0 903.0L196.1 909.7L196.2 898.2L196.3 907.0L196.4 899.8L196.5 898.4L196.6 901.2L196.7 905.9L196.8 906.1L196.9 911.1L196.9 903.6L197.0 897.5L197.1 895.7L197.2 901.7L197.3 903.7L197.4 908.0L197.5 903.5L197.6 901.1L197.7 911.5L197.8 916.7L197.9 912.2L198.0 901.9L198.1 901.6L198.2 913.1L198.3 909.8L198.4 909.5L198.5 912.6L198.6 907.9L198.6 903.0L198.7 905.1L198.8 908.3L198.9 913.2L199.0 900.6L199.1 907.6L199.2 908.1L199.3 904.1L199.4 904.7L199.5 912.7L199.6 913.5L199.7 897.1L199.8 899.2L199.9 899.8L200.0 899.0L200.1 901.2L200.2 901.2L200.3 906.1L200.3 903.9L200.4 901.0L200.5 904.2L200.6 907.8L200.7 902.6L200.8 904.7L200.9 906.6L201.0 917.7L201.1 903.5L201.2 897.8L201.3 901.5L201.4 904.6L201.5 901.8L201.6 912.1L201.7 905.2L201.8 902.0L201.9 904.5L202.0 898.5L202.0 902.7L202.1 910.3L202.2 900.3L202.3 907.2L202.4 901.6L202.5 899.0L202.6 910.4L202.7 911.3L202.8 900.5L202.9 903.1L203.0 911.2L203.1 904.3L203.2 909.2L203.3 899.1L203.4 905.9L203.5 900.3L203.6 904.9L203.7 916.3L203.8 920.6L203.8 904.5L203.9 904.0L204.0 906.5L204.1 899.6L204.2 909.2L204.3 905.9L204.4 908.3L204.5 907.9L204.6 900.9L204.7 914.2L204.8 916.5L204.9 903.8L205.0 912.5L205.1 907.1L205.2 899.4L205.3 899.0L205.4 910.2L205.5 904.0L205.5 909.4L205.6 913.2L205.7 909.9L205.8 906.4L205.9 915.1L206.0 906.1L206.1 906.0L206.2 914.8L206.3 911.8L206.4 928.2L206.5 900.9L206.6 901.3L206.7 906.7L206.8 899.0L206.9 910.6L207.0 913.1L207.1 915.2L207.2 916.2L207.2 906.1L207.3 904.3L207.4 906.6L207.5 905.9L207.6 904.0L207.7 918.6L207.8 902.5L207.9 897.7L208.0 901.5L208.1 901.3L208.2 910.5L208.3 903.4L208.4 902.5L208.5 913.9L208.6 904.8L208.7 903.8L208.8 906.0L208.9 911.6L208.9 910.2L209.0 907.8L209.1 928.6L209.2 908.4L209.3 899.9L209.4 905.8L209.5 902.1L209.6 923.3L209.7 904.6L209.8 908.6L209.9 905.9L210.0 912.7L210.1 909.7L210.2 909.2L210.3 902.5L210.4 902.9L210.5 903.8L210.6 909.4L210.6 925.6L210.7 908.2L210.8 903.6L210.9 904.7L211.0 903.7L211.1 907.6L211.2 902.1L211.3 905.9L211.4 912.3L211.5 901.5L211.6 912.4L211.7 909.4L211.8 918.4L211.9 900.8L212.0 906.7L212.1 901.9L212.2 903.0L212.3 916.1L212.3 905.1L212.4 910.2L212.5 925.7L212.6 906.5L212.7 914.3L212.8 904.2L212.9 903.0L213.0 904.4L213.1 903.3L213.2 906.6L213.3 903.3L213.4 911.3L213.5 915.7L213.6 902.3L213.7 908.0L213.8 903.4L213.9 910.2L214.0 905.2L214.0 900.8L214.1 908.5L214.2 897.5L214.3 907.4L214.4 904.3L214.5 903.8L214.6 910.2L214.7 914.8L214.8 912.4L214.9 908.2L215.0 902.0L215.1 919.6L215.2 904.8L215.3 908.9L215.4 899.6L215.5 907.5L215.6 907.9L215.7 898.1L215.7 912.7L215.8 907.9L215.9 902.3L216.0 907.0L216.1 904.5L216.2 901.7L216.3 903.2L216.4 918.0L216.5 899.1L216.6 901.1L216.7 908.6L216.8 901.0L216.9 899.4L217.0 902.0L217.1 906.6L217.2 902.9L217.3 900.2L217.4 901.9L217.5 905.9L217.5 903.2L217.6 902.2L217.7 907.3L217.8 903.7L217.9 897.6L218.0 901.4L218.1 897.2L218.2 901.0L218.3 912.3L218.4 901.8L218.5 895.7L218.6 898.9L218.7 911.3L218.8 911.6L218.9 919.6L219.0 908.9L219.1 904.9L219.2 908.3L219.2 904.4L219.3 899.8L219.4 901.9L219.5 903.0L219.6 908.8L219.7 913.2L219.8 903.2L219.9 907.4L220.0 902.4L220.1 909.1L220.2 902.5L220.3 905.3L220.4 907.0L220.5 916.1L220.6 910.3L220.7 909.9L220.8 910.6L220.9 903.0L220.9 905.1L221.0 901.2L221.1 907.8L221.2 911.7L221.3 910.8L221.4 904.5L221.5 912.9L221.6 914.2L221.7 898.6L221.8 907.2L221.9 904.5L222.0 912.6L222.1 897.1L222.2 900.3L222.3 899.9L222.4 906.9L222.5 911.0L222.6 910.5L222.6 907.7L222.7 907.5L222.8 916.3L222.9 911.1L223.0 901.1L223.1 903.5L223.2 895.7L223.3 912.3L223.4 904.8L223.5 910.4L223.6 907.2L223.7 908.4L223.8 899.7L223.9 897.7L224.0 905.5L224.1 905.7L224.2 906.6L224.3 907.2L224.3 917.8L224.4 905.8L224.5 900.0L224.6 903.6L224.7 899.9L224.8 909.0L224.9 904.7L225.0 907.0L225.1 906.8L225.2 907.0L225.3 898.1L225.4 899.0L225.5 905.1L225.6 901.9L225.7 904.0L225.8 906.1L225.9 898.2L226.0 905.9L226.0 906.1L226.1 906.7L226.2 905.5L226.3 906.4L226.4 901.0L226.5 901.3L226.6 913.2L226.7 915.6L226.8 903.7L226.9 911.2L227.0 906.4L227.1 910.3L227.2 898.7L227.3 905.9L227.4 916.9L227.5 905.4L227.6 904.4L227.7 919.9L227.7 907.2L227.8 900.6L227.9 903.5L228.0 898.7L228.1 900.0L228.2 907.9L228.3 903.8L228.4 897.3L228.5 905.4L228.6 904.1L228.7 903.3L228.8 911.8L228.9 907.3L229.0 905.1L229.1 908.8L229.2 906.5L229.3 901.5L229.4 905.8L229.4 909.3L229.5 903.2L229.6 905.4L229.7 898.2L229.8 903.6L229.9 908.5L230.0 910.8L230.1 903.2L230.2 895.3L230.3 912.7L230.4 905.9L230.5 910.6L230.6 901.1L230.7 905.2L230.8 905.1L230.9 907.6L231.0 903.6L231.1 904.9L231.2 903.0L231.2 907.9L231.3 911.4L231.4 909.4L231.5 902.6L231.6 908.5L231.7 908.8L231.8 902.5L231.9 921.2L232.0 911.3L232.1 908.1L232.2 916.9L232.3 901.2L232.4 910.1L232.5 904.2L232.6 902.3L232.7 906.3L232.8 912.2L232.9 906.6L232.9 908.7L233.0 908.5L233.1 909.1L233.2 901.1L233.3 899.5L233.4 902.0L233.5 908.2L233.6 899.1L233.7 909.4L233.8 904.6L233.9 905.5L234.0 899.5L234.1 904.1L234.2 907.8L234.3 902.6L234.4 903.2L234.5 900.4L234.6 903.2L234.6 905.5L234.7 908.8L234.8 901.0L234.9 907.5L235.0 909.6L235.1 902.2L235.2 909.0L235.3 901.6L235.4 912.2L235.5 905.9L235.6 902.1L235.7 902.7L235.8 901.2L235.9 907.8L236.0 901.7L236.1 900.8L236.2 907.5L236.3 899.8L236.3 904.4L236.4 903.3L236.5 910.7L236.6 910.5L236.7 906.5L236.8 909.7L236.9 902.2L237.0 907.2L237.1 902.1L237.2 904.3L237.3 906.3L237.4 903.4L237.5 917.2L237.6 901.4L237.7 908.2L237.8 901.6L237.9 914.9L238.0 904.3L238.0 900.7L238.1 902.8L238.2 918.6L238.3 906.2L238.4 899.7L238.5 899.3L238.6 905.6L238.7 907.0L238.8 900.6L238.9 901.7L239.0 913.1L239.1 905.3L239.2 896.9L239.3 905.6L239.4 905.7L239.5 904.2L239.6 898.6L239.7 902.2L239.7 911.5L239.8 905.3L239.9 901.6L240.0 894.8L240.1 910.4L240.2 899.7L240.3 905.0L240.4 913.7L240.5 894.7L240.6 908.3L240.7 916.6L240.8 902.1L240.9 907.8L241.0 905.2L241.1 900.8L241.2 900.3L241.3 896.7L241.4 912.9L241.4 908.9L241.5 903.9L241.6 899.7L241.7 911.2L241.8 899.7L241.9 902.0L242.0 895.4L242.1 912.4L242.2 902.4L242.3 904.7L242.4 897.8L242.5 908.4L242.6 905.8L242.7 912.8L242.8 912.6L242.9 906.7L243.0 898.7L243.1 900.4L243.1 906.9L243.2 905.7L243.3 904.0L243.4 908.7L243.5 908.2L243.6 906.0L243.7 911.9L243.8 912.1L243.9 905.9L244.0 909.9L244.1 904.0L244.2 907.5L244.3 911.5L244.4 908.5L244.5 906.3L244.6 893.9L244.7 904.8L244.8 906.6L244.9 916.8L244.9 903.0L245.0 903.4L245.1 915.2L245.2 907.5L245.3 904.9L245.4 904.8L245.5 904.3L245.6 902.6L245.7 907.3L245.8 912.4L245.9 903.9L246.0 905.3L246.1 896.6L246.2 911.1L246.3 902.7L246.4 910.3L246.5 894.3L246.6 911.1L246.6 908.7L246.7 903.9L246.8 904.5L246.9 903.3L247.0 911.0L247.1 903.4L247.2 894.8L247.3 909.5L247.4 908.1L247.5 905.8L247.6 899.0L247.7 900.2L247.8 913.6L247.9 908.1L248.0 905.0L248.1 912.4L248.2 912.3L248.3 894.5L248.3 907.2L248.4 898.8L248.5 898.6L248.6 905.9L248.7 902.4L248.8 908.0L248.9 908.0L249.0 897.2L249.1 898.9L249.2 910.4L249.3 900.4L249.4 909.2L249.5 909.2L249.6 909.1L249.7 903.5L249.8 899.9L249.9 909.5L250.0 898.4L250.0 901.3L250.1 908.0L250.2 903.7L250.3 916.5L250.4 904.4L250.5 907.5L250.6 912.9L250.7 901.5L250.8 907.2L250.9 908.3L251.0 905.5L251.1 911.5L251.2 910.2L251.3 904.2L251.4 898.5L251.5 900.4L251.6 905.2L251.7 903.1L251.7 905.8L251.8 904.8L251.9 911.0L252.0 905.8L252.1 899.6L252.2 899.9L252.3 905.7L252.4 901.3L252.5 906.5L252.6 902.5L252.7 913.0L252.8 900.0L252.9 904.2L253.0 920.1L253.1 909.0L253.2 897.7L253.3 902.9L253.4 904.9L253.4 898.9L253.5 903.4L253.6 905.6L253.7 906.5L253.8 902.9L253.9 911.3L254.0 902.5L254.1 898.6L254.2 894.6L254.3 911.6L254.4 901.0L254.5 906.2L254.6 904.3L254.7 899.8L254.8 905.7L254.9 898.9L255.0 910.9L255.1 902.7L255.1 915.1L255.2 912.3L255.3 905.3L255.4 904.2L255.5 905.7L255.6 900.1L255.7 902.8L255.8 909.5L255.9 904.7L256.0 907.3L256.1 900.3L256.2 902.2L256.3 912.1L256.4 902.1L256.5 900.0L256.6 906.6L256.7 902.0L256.8 910.3L256.8 899.6L256.9 908.6L257.0 905.3L257.1 899.2L257.2 909.2L257.3 903.5L257.4 900.9L257.5 904.5L257.6 910.7L257.7 902.5L257.8 897.3L257.9 898.8L258.0 905.9L258.1 899.8L258.2 905.6L258.3 905.7L258.4 903.9L258.5 902.2L258.6 914.4L258.6 909.9L258.7 906.3L258.8 911.3L258.9 905.8L259.0 904.7L259.1 903.6L259.2 900.8L259.3 905.7L259.4 911.0L259.5 912.2L259.6 908.2L259.7 911.3L259.8 904.3L259.9 909.3L260.0 907.0L260.1 905.6L260.2 899.1L260.3 903.4L260.3 902.4L260.4 904.5L260.5 905.2L260.6 902.0L260.7 898.4L260.8 900.9L260.9 904.5L261.0 901.9L261.1 897.2L261.2 898.5L261.3 912.4L261.4 895.7L261.5 905.8L261.6 905.1L261.7 914.1L261.8 900.8L261.9 916.0L262.0 903.1L262.0 900.3L262.1 899.6L262.2 908.6L262.3 906.6L262.4 905.5L262.5 905.9L262.6 909.8L262.7 902.8L262.8 904.9L262.9 897.8L263.0 903.7L263.1 906.6L263.2 911.1L263.3 916.4L263.4 907.6L263.5 907.4L263.6 910.5L263.7 907.6L263.7 902.8L263.8 908.1L263.9 906.6L264.0 912.6L264.1 897.0L264.2 904.0L264.3 909.1L264.4 901.6L264.5 904.2L264.6 906.6L264.7 902.9L264.8 900.2L264.9 903.5L265.0 899.1L265.1 905.0L265.2 906.5L265.3 897.6L265.4 905.6L265.4 901.3L265.5 905.4L265.6 909.8L265.7 908.2L265.8 908.4L265.9 898.1L266.0 911.5L266.1 906.2L266.2 905.5L266.3 910.6L266.4 904.0L266.5 905.0L266.6 909.8L266.7 911.3L266.8 903.1L266.9 915.4L267.0 894.2L267.1 899.7L267.1 913.2L267.2 909.7L267.3 913.6L267.4 920.7L267.5 898.9L267.6 906.6L267.7 907.0L267.8 905.1L267.9 908.8L268.0 901.8L268.1 909.2L268.2 906.6L268.3 907.4L268.4 908.9L268.5 904.3L268.6 903.3L268.7 914.1L268.8 897.4L268.8 899.3L268.9 913.5L269.0 898.6L269.1 909.1L269.2 906.1L269.3 902.9L269.4 906.3L269.5 900.9L269.6 905.0L269.7 910.7L269.8 913.7L269.9 911.2L270.0 901.8L270.1 899.9L270.2 901.3L270.3 900.3L270.4 894.8L270.5 901.8L270.5 899.7L270.6 914.0L270.7 907.2L270.8 898.4L270.9 910.7L271.0 906.1L271.1 921.0L271.2 899.1L271.3 899.2L271.4 899.4L271.5 906.9L271.6 905.6L271.7 904.7L271.8 905.9L271.9 910.6L272.0 906.9L272.1 902.5L272.2 895.3L272.3 908.8L272.3 911.0L272.4 899.2L272.5 902.4L272.6 912.9L272.7 902.5L272.8 910.2L272.9 910.6L273.0 907.3L273.1 897.4L273.2 902.1L273.3 905.4L273.4 908.8L273.5 917.4L273.6 916.4L273.7 912.1L273.8 908.7L273.9 899.8L274.0 909.8L274.0 909.8L274.1 906.5L274.2 899.2L274.3 905.3L274.4 908.7L274.5 912.9L274.6 915.1L274.7 914.5L274.8 900.2L274.9 901.7L275.0 899.6L275.1 906.5L275.2 899.2L275.3 901.4L275.4 907.7L275.5 900.6L275.6 897.4L275.7 917.0L275.7 906.1L275.8 899.4L275.9 903.2L276.0 900.2L276.1 904.9L276.2 903.2L276.3 903.6L276.4 902.0L276.5 927.2L276.6 908.3L276.7 904.0L276.8 913.6L276.9 901.9L277.0 907.2L277.1 897.6L277.2 897.8L277.3 909.9L277.4 904.9L277.4 909.6L277.5 910.2L277.6 901.7L277.7 901.9L277.8 900.0L277.9 909.0L278.0 905.3L278.1 901.2L278.2 902.1L278.3 912.8L278.4 910.7L278.5 902.3L278.6 898.3L278.7 909.0L278.8 907.9L278.9 911.1L279.0 903.0L279.1 913.1L279.1 907.9L279.2 909.0L279.3 902.0L279.4 912.4L279.5 903.0L279.6 907.4L279.7 909.7L279.8 907.6L279.9 920.2L280.0 906.1L280.1 897.4L280.2 908.3L280.3 899.9L280.4 906.6L280.5 910.1L280.6 905.1L280.7 909.9L280.8 893.6L280.8 919.6L280.9 907.5L281.0 902.2L281.1 910.4L281.2 905.6L281.3 916.0L281.4 912.4L281.5 903.3L281.6 903.2L281.7 905.3L281.8 908.0L281.9 910.0L282.0 898.5L282.1 911.9L282.2 918.9L282.3 907.2L282.4 901.4L282.5 905.6L282.5 914.4L282.6 898.6L282.7 908.1L282.8 910.2L282.9 906.2L283.0 904.5L283.1 900.9L283.2 908.2L283.3 905.4L283.4 904.2L283.5 896.2L283.6 906.4L283.7 901.8L283.8 909.7L283.9 901.6L284.0 898.5L284.1 900.6L284.2 906.1L284.2 903.4L284.3 906.2L284.4 908.7L284.5 901.1L284.6 897.8L284.7 905.2L284.8 906.7L284.9 901.0L285.0 910.4L285.1 902.0L285.2 905.7L285.3 903.6L285.4 894.5L285.5 895.8L285.6 908.4L285.7 908.6L285.8 901.5L285.9 908.5L286.0 902.6L286.0 904.2L286.1 900.4L286.2 907.9L286.3 907.4L286.4 900.8L286.5 899.9L286.6 909.3L286.7 915.4L286.8 904.1L286.9 904.4L287.0 910.6L287.1 907.0L287.2 898.2L287.3 898.6L287.4 896.1L287.5 909.2L287.6 905.0L287.7 911.9L287.7 900.9L287.8 906.4L287.9 907.7L288.0 901.3L288.1 900.8L288.2 899.4L288.3 915.2L288.4 900.6L288.5 897.7L288.6 900.9L288.7 904.3L288.8 909.9L288.9 903.2L289.0 907.7L289.1 909.1L289.2 911.2L289.3 914.3L289.4 901.0L289.4 906.5L289.5 912.6L289.6 904.9L289.7 906.5L289.8 904.1L289.9 918.0L290.0 907.1L290.1 901.9L290.2 905.9L290.3 900.6L290.4 912.7L290.5 904.7L290.6 904.0L290.7 899.4L290.8 894.8L290.9 910.0L291.0 899.1L291.1 897.5L291.1 903.8L291.2 904.2L291.3 896.9L291.4 904.1L291.5 906.7L291.6 907.8L291.7 904.2L291.8 915.9L291.9 896.4L292.0 904.8L292.1 910.7L292.2 903.9L292.3 907.5L292.4 897.3L292.5 904.4L292.6 899.9L292.7 897.3L292.8 907.2L292.8 896.9L292.9 909.2L293.0 905.7L293.1 903.8L293.2 899.8L293.3 906.9L293.4 902.0L293.5 901.8L293.6 902.4L293.7 898.8L293.8 908.9L293.9 906.3L294.0 902.8L294.1 901.3L294.2 904.4L294.3 905.6L294.4 914.9L294.5 907.0L294.5 908.3L294.6 899.7L294.7 901.5L294.8 900.9L294.9 893.7L295.0 896.4L295.1 901.6L295.2 906.5L295.3 912.6L295.4 899.2L295.5 901.8L295.6 904.9L295.7 898.2L295.8 902.1L295.9 903.3L296.0 901.7L296.1 914.7L296.2 894.1L296.2 898.2L296.3 906.2L296.4 904.7L296.5 902.4L296.6 902.0L296.7 904.2L296.8 895.6L296.9 906.3L297.0 908.5L297.1 900.8L297.2 899.0L297.3 895.4L297.4 896.3L297.5 908.7L297.6 900.2L297.7 897.2L297.8 899.7L297.9 906.3L297.9 899.8L298.0 901.5L298.1 899.4L298.2 904.7L298.3 897.9L298.4 897.7L298.5 901.8L298.6 902.1L298.7 903.0L298.8 908.4L298.9 904.0L299.0 902.0L299.1 899.3L299.2 899.6L299.3 901.1L299.4 906.7L299.5 900.2L299.6 901.5L299.7 912.2L299.7 910.4L299.8 917.9L299.9 895.0L300.0 907.7L300.1 899.1L300.2 906.9L300.3 899.8L300.4 905.0L300.5 906.9L300.6 906.7L300.7 903.0L300.8 901.6L300.9 911.2L301.0 902.7L301.1 908.4L301.2 906.4L301.3 907.8L301.4 902.5L301.4 893.9L301.5 901.6L301.6 904.0L301.7 897.1L301.8 907.8L301.9 916.5L302.0 904.2L302.1 911.9L302.2 908.8L302.3 900.5L302.4 907.5L302.5 906.4L302.6 903.2L302.7 909.0L302.8 901.2L302.9 902.1L303.0 903.8L303.1 907.9L303.1 907.9L303.2 904.6L303.3 898.5L303.4 896.7L303.5 910.2L303.6 911.5L303.7 901.9L303.8 917.2L303.9 911.2L304.0 910.6L304.1 901.2L304.2 902.3L304.3 900.2L304.4 900.9L304.5 902.8L304.6 904.7L304.7 898.0L304.8 907.8L304.8 898.1L304.9 900.3L305.0 912.0L305.1 910.0L305.2 899.8L305.3 909.3L305.4 899.2L305.5 894.3L305.6 909.4L305.7 911.4L305.8 902.8L305.9 908.2L306.0 908.8L306.1 900.5L306.2 898.4L306.3 901.9L306.4 910.7L306.5 914.3L306.5 906.1L306.6 906.0L306.7 904.1L306.8 901.2L306.9 912.4L307.0 898.4L307.1 906.1L307.2 899.5L307.3 898.0L307.4 905.4L307.5 902.2L307.6 899.1L307.7 905.5L307.8 914.7L307.9 901.7L308.0 911.6L308.1 901.5L308.2 906.3L308.2 895.1L308.3 905.7L308.4 912.3L308.5 896.3L308.6 904.5L308.7 900.8L308.8 905.3L308.9 903.5L309.0 903.1L309.1 906.3L309.2 905.7L309.3 904.1L309.4 907.9L309.5 897.9L309.6 905.3L309.7 905.4L309.8 903.4L309.9 900.7L309.9 896.6L310.0 902.0L310.1 913.0L310.2 906.1L310.3 903.0L310.4 903.6L310.5 902.6L310.6 913.0L310.7 903.9L310.8 908.8L310.9 899.3L311.0 907.3L311.1 904.9L311.2 902.1L311.3 901.7L311.4 898.6L311.5 902.1L311.6 900.3L311.6 904.3L311.7 904.3L311.8 902.8L311.9 906.0L312.0 898.7L312.1 904.3L312.2 901.8L312.3 908.3L312.4 895.4L312.5 911.2L312.6 911.2L312.7 911.9L312.8 906.0L312.9 899.6L313.0 901.9L313.1 914.1L313.2 897.0L313.3 901.8L313.4 897.7L313.4 895.3L313.5 898.4L313.6 907.3L313.7 897.4L313.8 895.6L313.9 914.2L314.0 902.5L314.1 905.3L314.2 897.8L314.3 906.0L314.4 899.7L314.5 904.7L314.6 897.2L314.7 897.5L314.8 908.0L314.9 900.2L315.0 896.5L315.1 901.6L315.1 906.9L315.2 900.4L315.3 909.2L315.4 907.4L315.5 897.4L315.6 906.6L315.7 902.8L315.8 911.3L315.9 900.4L316.0 907.4L316.1 904.6L316.2 895.1L316.3 896.6L316.4 911.5L316.5 897.4L316.6 907.8L316.7 906.9L316.8 905.7L316.8 901.2L316.9 916.6L317.0 903.6L317.1 905.4L317.2 906.6L317.3 912.4L317.4 899.5L317.5 898.0L317.6 903.6L317.7 905.8L317.8 902.0L317.9 898.5L318.0 907.2L318.1 911.6L318.2 903.4L318.3 908.1L318.4 902.1L318.5 898.2L318.5 905.3L318.6 903.1L318.7 904.0L318.8 899.8L318.9 898.8L319.0 904.7L319.1 905.2L319.2 914.6L319.3 900.9L319.4 905.7L319.5 901.6L319.6 898.4L319.7 903.2L319.8 916.4L319.9 906.7L320.0 900.1L320.1 899.9L320.2 895.7L320.2 910.6L320.3 897.6L320.4 901.1L320.5 896.2L320.6 895.6L320.7 894.1L320.8 898.5L320.9 902.2L321.0 898.0L321.1 908.0L321.2 903.9L321.3 907.5L321.4 900.8L321.5 894.5L321.6 899.3L321.7 903.7L321.8 901.3L321.9 895.8L321.9 905.8L322.0 903.3L322.1 904.0L322.2 906.6L322.3 903.3L322.4 895.7L322.5 900.1L322.6 899.5L322.7 909.2L322.8 898.7L322.9 900.5L323.0 903.8L323.1 906.4L323.2 901.7L323.3 909.1L323.4 899.6L323.5 911.7L323.6 901.5L323.6 897.4L323.7 898.3L323.8 916.9L323.9 904.9L324.0 901.7L324.1 907.4L324.2 903.5L324.3 904.6L324.4 903.9L324.5 906.6L324.6 897.7L324.7 907.7L324.8 897.6L324.9 900.1L325.0 908.9L325.1 896.4L325.2 903.8L325.3 903.6L325.3 901.0L325.4 901.2L325.5 904.6L325.6 908.6L325.7 893.7L325.8 905.5L325.9 897.2L326.0 909.5L326.1 897.7L326.2 899.0L326.3 898.6L326.4 899.6L326.5 914.2L326.6 901.4L326.7 908.5L326.8 907.3L326.9 898.4L327.0 899.1L327.1 896.4L327.1 901.6L327.2 912.8L327.3 905.8L327.4 899.6L327.5 897.9L327.6 900.3L327.7 904.7L327.8 907.8L327.9 903.2L328.0 920.3L328.1 905.2L328.2 897.1L328.3 909.8L328.4 898.3L328.5 908.2L328.6 904.9L328.7 899.6L328.8 899.5L328.8 903.8L328.9 905.3L329.0 901.1L329.1 896.3L329.2 903.2L329.3 911.1L329.4 904.7L329.5 904.7L329.6 906.1L329.7 903.3L329.8 907.4L329.9 901.6L330.0 915.0L330.1 900.5L330.2 898.6L330.3 902.2L330.4 900.1L330.5 901.1L330.5 899.5L330.6 904.5L330.7 903.8L330.8 902.0L330.9 907.1L331.0 897.8L331.1 907.6L331.2 906.8L331.3 899.1L331.4 896.4L331.5 908.4L331.6 900.3L331.7 904.6L331.8 896.7L331.9 899.6L332.0 908.0L332.1 905.6L332.2 899.8L332.2 900.2L332.3 901.2L332.4 902.8L332.5 903.3L332.6 896.5L332.7 903.8L332.8 900.3L332.9 900.3L333.0 897.9L333.1 899.3L333.2 898.0L333.3 910.9L333.4 903.9L333.5 904.9L333.6 897.3L333.7 901.3L333.8 905.8L333.9 898.1L333.9 904.4L334.0 901.1L334.1 906.4L334.2 899.1L334.3 903.5L334.4 903.6L334.5 909.8L334.6 897.2L334.7 902.8L334.8 899.0L334.9 898.6L335.0 900.1L335.1 897.0L335.2 907.3L335.3 906.8L335.4 899.4L335.5 903.2L335.6 904.1L335.6 906.5L335.7 906.6L335.8 899.8L335.9 899.2L336.0 908.3L336.1 906.1L336.2 901.7L336.3 903.6L336.4 900.2L336.5 916.2L336.6 918.6L336.7 906.2L336.8 902.7L336.9 907.2L337.0 899.3L337.1 899.4L337.2 903.8L337.3 905.0L337.3 896.2L337.4 908.1L337.5 902.6L337.6 908.6L337.7 896.1L337.8 904.9L337.9 909.1L338.0 899.1L338.1 898.6L338.2 908.2L338.3 896.6L338.4 903.0L338.5 907.6L338.6 906.4L338.7 898.3L338.8 895.5L338.9 900.5L339.0 894.6L339.0 896.8L339.1 899.3L339.2 903.6L339.3 906.1L339.4 905.9L339.5 899.8L339.6 908.0L339.7 911.8L339.8 903.8L339.9 900.6L340.0 898.8L340.1 899.8L340.2 907.5L340.3 899.9L340.4 903.6L340.5 901.1L340.6 907.2L340.7 894.3L340.8 905.8L340.8 902.7L340.9 898.6L341.0 896.9L341.1 902.5L341.2 912.3L341.3 915.0L341.4 904.2L341.5 900.4L341.6 902.0L341.7 902.0L341.8 903.1L341.9 898.7L342.0 904.6L342.1 900.9L342.2 904.3L342.3 894.2L342.4 895.1L342.5 899.2L342.5 901.0L342.6 900.9L342.7 898.4L342.8 907.5L342.9 895.2L343.0 907.7L343.1 900.9L343.2 916.0L343.3 911.3L343.4 899.1L343.5 899.2L343.6 904.9L343.7 900.5L343.8 898.8L343.9 897.3L344.0 896.3L344.1 896.3L344.2 900.1L344.2 893.8L344.3 910.2L344.4 896.8L344.5 897.9L344.6 905.3L344.7 895.6L344.8 900.5L344.9 904.7L345.0 893.1L345.1 903.5L345.2 900.9L345.3 904.8L345.4 900.6L345.5 890.1L345.6 899.9L345.7 904.2L345.8 902.2L345.9 906.9L345.9 907.9L346.0 904.4L346.1 902.4L346.2 904.7L346.3 898.3L346.4 899.6L346.5 910.6L346.6 903.5L346.7 904.6L346.8 898.2L346.9 901.9L347.0 906.0L347.1 903.0L347.2 900.6L347.3 902.5L347.4 904.9L347.5 900.5L347.6 896.5L347.6 902.7L347.7 904.1L347.8 904.4L347.9 902.0L348.0 913.1L348.1 902.5L348.2 907.4L348.3 907.8L348.4 895.1L348.5 916.7L348.6 906.0L348.7 906.9L348.8 895.7L348.9 909.7L349.0 904.3L349.1 906.4L349.2 901.9L349.3 902.4L349.3 892.4L349.4 904.4L349.5 895.3L349.6 911.9L349.7 899.0L349.8 902.3L349.9 920.4L350.0 902.8L350.1 902.2L350.2 892.9L350.3 905.2L350.4 919.4L350.5 898.2L350.6 914.6L350.7 897.2L350.8 905.6L350.9 910.1L351.0 905.0L351.0 903.3L351.1 894.7L351.2 896.0L351.3 906.8L351.4 896.7L351.5 903.8L351.6 900.4L351.7 926.3L351.8 901.2L351.9 905.0L352.0 905.9L352.1 909.1L352.2 905.9L352.3 895.7L352.4 902.1L352.5 904.8L352.6 899.3L352.7 902.9L352.7 900.0L352.8 918.5L352.9 896.7L353.0 895.5L353.1 896.0L353.2 897.8L353.3 901.2L353.4 897.1L353.5 899.8L353.6 894.3L353.7 903.1L353.8 908.8L353.9 911.0L354.0 902.4L354.1 909.1L354.2 905.4L354.3 910.7L354.4 896.1L354.5 911.3L354.5 895.2L354.6 915.0L354.7 906.7L354.8 911.4L354.9 905.7L355.0 898.1L355.1 899.9L355.2 906.6L355.3 900.8L355.4 916.7L355.5 905.3L355.6 904.1L355.7 908.9L355.8 899.7L355.9 901.6L356.0 896.0L356.1 911.5L356.2 901.0L356.2 904.0L356.3 903.4L356.4 904.9L356.5 905.9L356.6 907.4L356.7 900.2L356.8 903.5L356.9 894.5L357.0 896.5L357.1 903.7L357.2 901.3L357.3 898.0L357.4 902.9L357.5 902.5L357.6 899.2L357.7 905.0L357.8 906.2L357.9 903.3L357.9 901.7L358.0 894.3L358.1 901.2L358.2 918.7L358.3 907.7L358.4 908.8L358.5 904.8L358.6 895.0L358.7 910.0L358.8 901.0L358.9 898.1L359.0 913.5L359.1 902.9L359.2 898.4L359.3 900.8L359.4 898.4L359.5 904.4L359.6 897.5L359.6 895.9L359.7 896.8L359.8 903.7L359.9 909.7L360.0 906.0L360.1 896.9L360.2 901.2L360.3 900.4L360.4 895.4L360.5 898.0L360.6 900.0L360.7 895.7L360.8 899.2L360.9 903.3L361.0 892.8L361.1 898.0L361.2 899.7L361.3 899.0L361.3 907.8L361.4 899.0L361.5 901.8L361.6 912.3L361.7 898.5L361.8 908.6L361.9 901.1L362.0 901.8L362.1 897.1L362.2 904.3L362.3 896.4L362.4 899.9L362.5 899.7L362.6 894.2L362.7 902.3L362.8 894.4L362.9 911.5L363.0 905.9L363.0 904.2L363.1 913.9L363.2 902.5L363.3 898.9L363.4 912.5L363.5 900.5L363.6 899.7L363.7 905.5L363.8 899.8L363.9 905.6L364.0 915.3L364.1 904.0L364.2 900.5L364.3 900.2L364.4 911.9L364.5 906.3L364.6 901.9L364.7 895.9L364.7 912.4L364.8 897.5L364.9 898.9L365.0 904.8L365.1 900.0L365.2 896.5L365.3 901.9L365.4 907.9L365.5 903.7L365.6 896.7L365.7 896.2L365.8 890.9L365.9 896.7L366.0 898.4L366.1 901.2L366.2 901.4L366.3 904.2L366.4 909.5L366.4 904.5L366.5 898.6L366.6 899.7L366.7 902.9L366.8 891.4L366.9 898.5L367.0 906.2L367.1 913.6L367.2 899.9L367.3 906.5L367.4 903.0L367.5 903.1L367.6 902.7L367.7 904.4L367.8 901.2L367.9 908.2L368.0 915.2L368.1 897.1L368.2 901.9L368.2 907.8L368.3 894.9L368.4 899.3L368.5 900.0L368.6 909.8L368.7 905.2L368.8 903.6L368.9 904.7L369.0 905.4L369.1 895.8L369.2 914.3L369.3 912.6L369.4 901.9L369.5 907.1L369.6 898.5L369.7 905.1L369.8 897.0L369.9 903.8L369.9 897.4L370.0 896.5L370.1 905.6L370.2 899.6L370.3 899.6L370.4 900.5L370.5 892.6L370.6 900.5L370.7 908.8L370.8 902.6L370.9 911.2L371.0 901.2L371.1 909.5L371.2 898.0L371.3 899.0L371.4 900.1L371.5 905.0L371.6 910.3L371.6 901.9L371.7 897.2L371.8 899.2L371.9 903.1L372.0 914.0L372.1 904.3L372.2 897.9L372.3 907.6L372.4 896.0L372.5 890.8L372.6 907.8L372.7 907.2L372.8 899.2L372.9 901.2L373.0 898.1L373.1 905.4L373.2 903.5L373.3 900.3L373.3 901.2L373.4 898.7L373.5 906.3L373.6 894.6L373.7 911.0L373.8 901.9L373.9 913.0L374.0 907.7L374.1 900.6L374.2 909.1L374.3 898.6L374.4 896.8L374.5 898.4L374.6 904.8L374.7 900.0L374.8 907.8L374.9 902.7L375.0 898.8L375.0 896.1L375.1 908.2L375.2 905.3L375.3 901.4L375.4 896.9L375.5 899.7L375.6 902.9L375.7 904.5L375.8 895.6L375.9 899.6L376.0 894.1L376.1 905.3L376.2 898.5L376.3 895.1L376.4 904.0L376.5 892.0L376.6 902.2L376.7 906.3L376.7 902.3L376.8 897.3L376.9 903.0L377.0 903.1L377.1 901.6L377.2 901.2L377.3 902.7L377.4 899.2L377.5 908.8L377.6 903.1L377.7 891.3L377.8 899.7L377.9 894.9L378.0 904.3L378.1 900.2L378.2 899.6L378.3 898.0L378.4 916.3L378.4 900.7L378.5 897.2L378.6 899.3L378.7 910.1L378.8 907.4L378.9 900.3L379.0 897.6L379.1 901.5L379.2 905.0L379.3 908.3L379.4 901.1L379.5 897.1L379.6 896.7L379.7 893.4L379.8 903.8L379.9 908.8L380.0 907.6L380.1 905.1L380.1 918.8L380.2 901.4L380.3 905.1L380.4 903.8L380.5 903.1L380.6 901.2L380.7 908.0L380.8 909.9L380.9 906.4L381.0 898.5L381.1 899.7L381.2 899.7L381.3 908.0L381.4 903.5L381.5 900.3L381.6 907.6L381.7 893.6L381.8 896.3L381.8 905.1L381.9 903.1L382.0 903.4L382.1 908.1L382.2 908.1L382.3 897.3L382.4 895.1L382.5 905.1L382.6 902.1L382.7 906.3L382.8 917.2L382.9 914.2L383.0 910.9L383.1 908.3L383.2 904.0L383.3 895.9L383.4 910.4L383.5 905.4L383.6 897.7L383.6 901.9L383.7 911.0L383.8 905.5L383.9 896.8L384.0 915.1L384.1 895.4L384.2 895.1L384.3 902.2L384.4 911.4L384.5 897.0L384.6 904.5L384.7 896.1L384.8 900.2L384.9 905.4L385.0 902.1L385.1 897.2L385.2 903.1L385.3 900.7L385.3 895.2L385.4 899.8L385.5 900.0L385.6 894.3L385.7 899.6L385.8 902.2L385.9 910.2L386.0 896.3L386.1 894.2L386.2 905.1L386.3 896.9L386.4 904.3L386.5 905.6L386.6 905.9L386.7 897.8L386.8 903.8L386.9 897.5L387.0 907.8L387.0 901.1L387.1 899.1L387.2 900.4L387.3 912.2L387.4 901.4L387.5 896.5L387.6 901.4L387.7 903.6L387.8 894.6L387.9 904.5L388.0 911.0L388.1 900.6L388.2 906.0L388.3 895.7L388.4 897.3L388.5 905.4L388.6 896.9L388.7 912.0L388.7 895.7L388.8 900.4L388.9 901.8L389.0 909.7L389.1 902.3L389.2 910.8L389.3 908.3L389.4 900.2L389.5 895.3L389.6 902.9L389.7 904.7L389.8 900.3L389.9 897.5L390.0 896.2L390.1 894.8L390.2 908.0L390.3 898.2L390.4 905.5L390.4 897.9L390.5 903.7L390.6 894.8L390.7 905.5L390.8 900.1L390.9 899.4L391.0 906.6L391.1 902.2L391.2 907.9L391.3 904.9L391.4 895.8L391.5 900.8L391.6 910.2L391.7 902.5L391.8 900.4L391.9 903.4L392.0 898.2L392.1 902.8L392.1 913.7L392.2 899.2L392.3 902.3L392.4 898.7L392.5 907.0L392.6 893.5L392.7 902.4L392.8 902.1L392.9 901.3L393.0 899.5L393.1 895.0L393.2 898.8L393.3 906.0L393.4 900.0L393.5 900.5L393.6 915.3L393.7 905.5L393.8 902.6L393.8 900.3L393.9 894.1L394.0 903.6L394.1 905.7L394.2 897.5L394.3 902.0L394.4 900.8L394.5 907.4L394.6 914.8L394.7 899.5L394.8 902.7L394.9 900.8L395.0 902.1L395.1 901.6L395.2 906.3L395.3 894.3L395.4 891.6L395.5 902.5L395.5 900.2L395.6 901.8L395.7 897.7L395.8 895.2L395.9 898.6L396.0 907.4L396.1 898.3L396.2 897.4L396.3 897.7L396.4 909.1L396.5 903.8L396.6 898.9L396.7 893.2L396.8 901.3L396.9 906.6L397.0 898.5L397.1 903.6L397.2 903.0L397.3 904.6L397.3 896.9L397.4 898.3L397.5 901.2L397.6 908.7L397.7 908.5L397.8 906.0L397.9 903.9L398.0 911.1L398.1 897.8L398.2 897.4L398.3 904.1L398.4 900.9L398.5 902.9L398.6 900.2L398.7 899.0L398.8 900.4L398.9 898.5L399.0 904.5L399.0 905.3L399.1 898.5L399.2 897.0L399.3 896.5L399.4 908.9L399.5 894.8L399.6 905.8L399.7 903.8L399.8 897.8L399.9 895.0L400.0 904.0L400.1 902.1L400.2 903.7L400.3 900.2L400.4 900.8L400.5 899.1L400.6 904.7L400.7 907.8L400.7 899.9L400.8 894.0L400.9 903.5L401.0 894.6L401.1 900.0L401.2 896.5L401.3 900.5L401.4 889.8L401.5 902.5L401.6 909.3L401.7 901.0L401.8 898.7L401.9 898.8L402.0 897.8L402.1 894.4L402.2 897.4L402.3 901.1L402.4 899.1L402.4 904.1L402.5 903.6L402.6 901.9L402.7 892.8L402.8 903.7L402.9 898.1L403.0 896.6L403.1 896.9L403.2 906.3L403.3 899.2L403.4 897.8L403.5 904.6L403.6 912.1L403.7 909.7L403.8 902.3L403.9 905.6L404.0 903.9L404.1 900.6L404.1 895.5L404.2 902.1L404.3 904.2L404.4 899.3L404.5 895.5L404.6 903.2L404.7 900.4L404.8 897.0L404.9 908.1L405.0 904.7L405.1 902.5L405.2 900.4L405.3 893.4L405.4 896.7L405.5 893.7L405.6 895.6L405.7 902.9L405.8 908.7L405.8 897.5L405.9 911.7L406.0 902.6L406.1 899.5L406.2 894.0L406.3 909.8L406.4 899.0L406.5 893.9L406.6 902.7L406.7 910.2L406.8 900.6L406.9 897.6L407.0 899.9L407.1 901.3L407.2 896.3L407.3 897.6L407.4 903.6L407.5 901.9L407.5 909.5L407.6 894.4L407.7 905.4L407.8 893.9L407.9 898.5L408.0 900.3L408.1 904.0L408.2 896.7L408.3 900.1L408.4 906.3L408.5 901.4L408.6 903.1L408.7 905.8L408.8 902.5L408.9 905.5L409.0 905.7L409.1 908.2L409.2 902.4L409.2 902.7L409.3 906.4L409.4 897.9L409.5 895.9L409.6 898.3L409.7 911.0L409.8 901.8L409.9 899.9L410.0 898.8L410.1 894.9L410.2 898.9L410.3 900.4L410.4 897.3L410.5 899.1L410.6 897.7L410.7 895.1L410.8 903.5L410.9 906.4L411.0 902.2L411.0 892.2L411.1 899.3L411.2 899.8L411.3 900.3L411.4 901.4L411.5 901.8L411.6 904.0L411.7 896.8L411.8 900.6L411.9 894.1L412.0 903.7L412.1 904.7L412.2 898.8L412.3 902.3L412.4 901.5L412.5 899.3L412.6 898.0L412.7 909.5L412.7 918.9L412.8 905.2L412.9 902.6L413.0 898.7L413.1 898.7L413.2 905.3L413.3 900.0L413.4 899.4L413.5 905.4L413.6 896.1L413.7 910.2L413.8 902.8L413.9 901.4L414.0 898.0L414.1 898.4L414.2 893.0L414.3 905.8L414.4 901.0L414.4 906.6L414.5 898.3L414.6 899.3L414.7 899.3L414.8 900.1L414.9 894.2L415.0 891.7L415.1 905.9L415.2 904.6L415.3 900.5L415.4 898.9L415.5 899.9L415.6 899.4L415.7 899.4L415.8 894.3L415.9 901.6L416.0 892.1L416.1 894.5L416.1 899.9L416.2 896.8L416.3 898.9L416.4 905.4L416.5 906.2L416.6 901.7L416.7 898.1L416.8 901.9L416.9 893.2L417.0 895.2L417.1 906.3L417.2 906.4L417.3 898.7L417.4 898.1L417.5 901.9L417.6 905.1L417.7 900.5L417.8 901.7L417.8 905.8L417.9 907.9L418.0 904.9L418.1 888.0L418.2 909.9L418.3 907.6L418.4 902.4L418.5 900.3L418.6 901.3L418.7 896.7L418.8 901.8L418.9 897.5L419.0 892.4L419.1 893.9L419.2 910.6L419.3 899.0L419.4 905.4L419.5 903.4L419.5 902.2L419.6 899.8L419.7 909.4L419.8 899.3L419.9 905.4L420.0 905.7L420.1 897.5L420.2 894.9L420.3 905.6L420.4 908.5L420.5 895.4L420.6 906.0L420.7 893.6L420.8 899.6L420.9 901.7L421.0 902.4L421.1 909.8L421.2 899.8L421.2 898.5L421.3 918.1L421.4 900.2L421.5 902.9L421.6 901.5L421.7 900.9L421.8 898.5L421.9 901.6L422.0 898.0L422.1 906.0L422.2 900.0L422.3 907.6L422.4 905.5L422.5 903.6L422.6 896.3L422.7 906.8L422.8 906.6L422.9 901.4L422.9 901.1L423.0 905.2L423.1 901.2L423.2 897.8L423.3 895.0L423.4 902.8L423.5 893.3L423.6 914.9L423.7 898.4L423.8 897.5L423.9 896.2L424.0 902.9L424.1 895.7L424.2 903.9L424.3 894.1L424.4 896.7L424.5 900.7L424.6 902.0L424.7 900.7L424.7 897.9L424.8 892.9L424.9 893.1L425.0 905.2L425.1 896.6L425.2 907.2L425.3 901.8L425.4 900.2L425.5 903.1L425.6 899.8L425.7 908.5L425.8 897.8L425.9 898.9L426.0 907.7L426.1 902.0L426.2 901.3L426.3 910.5L426.4 908.0L426.4 894.1L426.5 899.6L426.6 903.7L426.7 911.1L426.8 896.5L426.9 903.8L427.0 896.3L427.1 895.1L427.2 900.4L427.3 897.7L427.4 892.7L427.5 893.4L427.6 897.9L427.7 900.0L427.8 904.0L427.9 901.7L428.0 904.2L428.1 912.5L428.1 895.7L428.2 909.9L428.3 902.5L428.4 902.6L428.5 899.2L428.6 898.8L428.7 899.1L428.8 895.5L428.9 896.1L429.0 896.6L429.1 916.1L429.2 892.0L429.3 897.8L429.4 888.1L429.5 902.4L429.6 899.0L429.7 899.2L429.8 905.4L429.8 899.0L429.9 897.8L430.0 892.6L430.1 907.8L430.2 898.9L430.3 904.2L430.4 899.0L430.5 900.4L430.6 903.0L430.7 905.5L430.8 902.3L430.9 902.7L431.0 899.4L431.1 902.3L431.2 894.9L431.3 900.1L431.4 906.4L431.5 905.0L431.5 895.7L431.6 895.6L431.7 903.6L431.8 894.2L431.9 907.3L432.0 907.3L432.1 900.4L432.2 906.2L432.3 911.3L432.4 898.9L432.5 897.2L432.6 897.6L432.7 897.5L432.8 896.3L432.9 898.6L433.0 910.6L433.1 895.7L433.2 909.7L433.2 898.4L433.3 901.9L433.4 900.5L433.5 900.5L433.6 902.9L433.7 892.9L433.8 905.0L433.9 887.5L434.0 900.3L434.1 900.7L434.2 905.5L434.3 910.3L434.4 896.3L434.5 894.6L434.6 904.1L434.7 907.2L434.8 901.0L434.9 900.6L434.9 897.7L435.0 895.3L435.1 902.1L435.2 907.7L435.3 900.2L435.4 899.0L435.5 894.1L435.6 903.6L435.7 899.5L435.8 896.0L435.9 897.6L436.0 906.3L436.1 903.4L436.2 899.5L436.3 903.8L436.4 906.6L436.5 917.1L436.6 895.4L436.6 895.1L436.7 906.5L436.8 897.3L436.9 908.3L437.0 894.6L437.1 888.4L437.2 897.1L437.3 901.2L437.4 904.8L437.5 906.7L437.6 899.7L437.7 907.5L437.8 900.9L437.9 892.3L438.0 897.8L438.1 896.0L438.2 905.9L438.3 898.4L438.4 899.5L438.4 903.5L438.5 899.5L438.6 911.2L438.7 895.6L438.8 903.0L438.9 896.8L439.0 900.0L439.1 899.0L439.2 896.6L439.3 889.8L439.4 903.3L439.5 900.9L439.6 904.5L439.7 895.3L439.8 897.2L439.9 896.2L440.0 890.6L440.1 891.1L440.1 893.7L440.2 892.4L440.3 905.9L440.4 903.3L440.5 898.0L440.6 894.9L440.7 905.5L440.8 889.9L440.9 902.8L441.0 898.7L441.1 900.2L441.2 895.5L441.3 910.1L441.4 898.9L441.5 904.4L441.6 901.2L441.7 898.7L441.8 898.2L441.8 899.3L441.9 906.8L442.0 902.4L442.1 892.8L442.2 902.2L442.3 899.4L442.4 902.3L442.5 896.7L442.6 908.8L442.7 902.1L442.8 897.6L442.9 896.1L443.0 899.0L443.1 900.7L443.2 895.3L443.3 893.3L443.4 895.0L443.5 902.5L443.5 897.6L443.6 908.3L443.7 897.9L443.8 900.1L443.9 900.5L444.0 894.6L444.1 900.6L444.2 897.4L444.3 904.4L444.4 892.4L444.5 898.9L444.6 895.4L444.7 892.4L444.8 900.7L444.9 894.3L445.0 896.3L445.1 898.7L445.2 892.9L445.2 902.8L445.3 890.7L445.4 897.3L445.5 895.3L445.6 899.6L445.7 896.2L445.8 895.7L445.9 892.6L446.0 898.9L446.1 906.6L446.2 897.1L446.3 901.0L446.4 907.4L446.5 891.8L446.6 897.3L446.7 895.4L446.8 897.4L446.9 897.8L446.9 902.9L447.0 894.5L447.1 908.7L447.2 890.4L447.3 893.8L447.4 907.1L447.5 907.1L447.6 905.4L447.7 900.5L447.8 896.2L447.9 898.7L448.0 899.6L448.1 911.3L448.2 898.7L448.3 897.4L448.4 901.9L448.5 899.5L448.6 899.5L448.6 894.5L448.7 905.8L448.8 904.9L448.9 898.8L449.0 899.8L449.1 900.7L449.2 897.8L449.3 895.4L449.4 892.1L449.5 902.1L449.6 898.4L449.7 891.7L449.8 897.3L449.9 898.6L450.0 896.7L450.1 902.6L450.2 899.5L450.3 894.9L450.3 897.9L450.4 891.4L450.5 903.1L450.6 891.1L450.7 903.0L450.8 901.3L450.9 914.2L451.0 902.5L451.1 901.9L451.2 893.0L451.3 903.7L451.4 904.4L451.5 899.1L451.6 894.7L451.7 906.5L451.8 897.8L451.9 890.1L452.0 901.0L452.1 902.9L452.1 906.5L452.2 898.6L452.3 899.0L452.4 900.3L452.5 897.7L452.6 916.6L452.7 898.6L452.8 898.3L452.9 898.5L453.0 895.9L453.1 906.0L453.2 902.8L453.3 897.1L453.4 905.3L453.5 898.3L453.6 899.1L453.7 900.2L453.8 905.5L453.8 903.4L453.9 896.8L454.0 895.0L454.1 903.1L454.2 901.5L454.3 900.7L454.4 908.2L454.5 905.1L454.6 897.4L454.7 901.0L454.8 905.6L454.9 899.6L455.0 905.3L455.1 899.4L455.2 894.9L455.3 892.7L455.4 892.5L455.5 896.3L455.5 909.5L455.6 897.0L455.7 898.2L455.8 901.2L455.9 895.6L456.0 906.5L456.1 893.7L456.2 902.8L456.3 896.5L456.4 899.2L456.5 902.7L456.6 894.8L456.7 902.2L456.8 900.3L456.9 902.4L457.0 891.9L457.1 904.3L457.2 901.3L457.2 903.1L457.3 906.8L457.4 893.6L457.5 899.1L457.6 896.8L457.7 901.4L457.8 897.5L457.9 898.5L458.0 894.2L458.1 902.2L458.2 894.1L458.3 894.2L458.4 889.9L458.5 901.7L458.6 911.2L458.7 893.5L458.8 900.2L458.9 896.2L458.9 900.3L459.0 888.2L459.1 908.5L459.2 890.7L459.3 901.5L459.4 907.2L459.5 903.5L459.6 901.7L459.7 891.5L459.8 900.2L459.9 891.5L460.0 901.1L460.1 892.0L460.2 898.7L460.3 903.6L460.4 902.8L460.5 908.5L460.6 901.4L460.6 907.4L460.7 899.5L460.8 896.0L460.9 906.3L461.0 896.7L461.1 898.6L461.2 901.2L461.3 895.7L461.4 901.8L461.5 898.6L461.6 900.2L461.7 898.7L461.8 908.1L461.9 899.4L462.0 894.3L462.1 898.7L462.2 897.0L462.3 893.8L462.3 912.2L462.4 892.5L462.5 897.8L462.6 899.6L462.7 903.3L462.8 904.0L462.9 900.4L463.0 900.2L463.1 899.4L463.2 901.3L463.3 896.9L463.4 893.2L463.5 899.8L463.6 898.7L463.7 892.5L463.8 903.7L463.9 898.5L464.0 894.6L464.0 896.7L464.1 894.7L464.2 901.0L464.3 890.9L464.4 899.2L464.5 907.1L464.6 902.9L464.7 918.5L464.8 894.4L464.9 892.9L465.0 899.4L465.1 903.3L465.2 896.9L465.3 898.4L465.4 898.6L465.5 895.3L465.6 900.5L465.7 902.1L465.8 893.3L465.8 905.7L465.9 896.8L466.0 907.5L466.1 898.9L466.2 901.7L466.3 897.8L466.4 896.9L466.5 899.9L466.6 892.8L466.7 899.9L466.8 898.3L466.9 892.5L467.0 906.4L467.1 900.6L467.2 903.7L467.3 893.0L467.4 908.6L467.5 897.6L467.5 895.7L467.6 888.0L467.7 902.3L467.8 895.0L467.9 895.5L468.0 897.1L468.1 898.0L468.2 894.8L468.3 897.4L468.4 899.7L468.5 896.8L468.6 896.6L468.7 892.6L468.8 900.0L468.9 892.6L469.0 892.2L469.1 893.5L469.2 899.4L469.2 897.8L469.3 895.1L469.4 894.2L469.5 909.3L469.6 917.6L469.7 895.3L469.8 895.4L469.9 892.5L470.0 902.7L470.1 897.0L470.2 888.7L470.3 890.5L470.4 899.8L470.5 902.2L470.6 892.7L470.7 903.0L470.8 902.4L470.9 897.5L470.9 901.5L471.0 900.2L471.1 891.3L471.2 891.4L471.3 897.0L471.4 901.4L471.5 897.4L471.6 895.2L471.7 894.3L471.8 895.7L471.9 893.1L472.0 899.1L472.1 898.2L472.2 906.8L472.3 893.7L472.4 905.3L472.5 900.4L472.6 897.5L472.6 890.1L472.7 895.1L472.8 903.7L472.9 902.6L473.0 898.4L473.1 888.4L473.2 900.0L473.3 902.3L473.4 892.7L473.5 900.6L473.6 906.1L473.7 900.0L473.8 896.6L473.9 897.2L474.0 903.1L474.1 896.3L474.2 898.6L474.3 899.4L474.3 896.6L474.4 908.1L474.5 896.3L474.6 900.6L474.7 895.8L474.8 901.6L474.9 892.4L475.0 898.0L475.1 892.9L475.2 889.9L475.3 898.4L475.4 891.6L475.5 900.5L475.6 893.7L475.7 896.7L475.8 889.7L475.9 904.0L476.0 898.2L476.0 894.7L476.1 893.8L476.2 896.7L476.3 899.7L476.4 896.4L476.5 898.1L476.6 899.4L476.7 893.2L476.8 892.1L476.9 901.7L477.0 904.9L477.1 892.5L477.2 895.9L477.3 894.8L477.4 895.8L477.5 893.8L477.6 894.2L477.7 899.1L477.7 895.0L477.8 909.0L477.9 907.1L478.0 901.3L478.1 899.3L478.2 901.0L478.3 902.1L478.4 897.0L478.5 902.7L478.6 896.9L478.7 903.0L478.8 896.2L478.9 890.8L479.0 900.1L479.1 909.4L479.2 893.6L479.3 906.0L479.4 900.3L479.5 891.4L479.5 900.1L479.6 895.5L479.7 896.9L479.8 900.7L479.9 894.2L480.0 893.2L480.1 907.9L480.2 892.4L480.3 900.3L480.4 893.4L480.5 904.7L480.6 905.4L480.7 891.4L480.8 895.3L480.9 895.2L481.0 891.3L481.1 896.8L481.2 896.0L481.2 902.8L481.3 899.1L481.4 895.2L481.5 898.0L481.6 912.7L481.7 893.1L481.8 889.6L481.9 894.4L482.0 893.7L482.1 896.8L482.2 898.5L482.3 895.1L482.4 898.5L482.5 898.3L482.6 896.7L482.7 894.7L482.8 894.1L482.9 897.0L482.9 894.5L483.0 900.2L483.1 895.1L483.2 903.0L483.3 899.7L483.4 899.8L483.5 889.3L483.6 902.1L483.7 899.0L483.8 894.2L483.9 897.5L484.0 893.8L484.1 899.7L484.2 891.8L484.3 893.4L484.4 891.2L484.5 892.0L484.6 895.7L484.6 912.3L484.7 895.3L484.8 900.3L484.9 893.8L485.0 892.4L485.1 898.2L485.2 900.7L485.3 897.1L485.4 892.3L485.5 889.2L485.6 897.1L485.7 899.2L485.8 900.5L485.9 895.6L486.0 902.5L486.1 901.2L486.2 896.6L486.3 902.4L486.3 900.2L486.4 899.1L486.5 894.2L486.6 889.7L486.7 899.2L486.8 896.1L486.9 887.3L487.0 897.7L487.1 897.4L487.2 902.5L487.3 909.9L487.4 893.8L487.5 901.6L487.6 893.8L487.7 895.6L487.8 903.1L487.9 897.9L488.0 909.2L488.0 906.6L488.1 895.6L488.2 905.8L488.3 904.2L488.4 898.6L488.5 909.4L488.6 894.2L488.7 890.9L488.8 893.1L488.9 897.9L489.0 893.5L489.1 901.2L489.2 900.7L489.3 895.4L489.4 893.9L489.5 898.4L489.6 891.5L489.7 890.6L489.7 890.8L489.8 907.3L489.9 912.2L490.0 900.4L490.1 896.5L490.2 893.2L490.3 891.7L490.4 901.9L490.5 897.9L490.6 890.3L490.7 897.8L490.8 884.0L490.9 895.7L491.0 893.4L491.1 900.9L491.2 886.1L491.3 900.8L491.4 903.7L491.4 904.8L491.5 894.7L491.6 905.1L491.7 895.2L491.8 894.7L491.9 891.4L492.0 890.5L492.1 894.0L492.2 897.4L492.3 904.7L492.4 890.9L492.5 899.5L492.6 897.2L492.7 897.2L492.8 899.7L492.9 896.8L493.0 889.5L493.1 893.5L493.2 891.4L493.2 892.3L493.3 888.8L493.4 896.5L493.5 898.0L493.6 889.6L493.7 911.0L493.8 892.6L493.9 893.0L494.0 895.2L494.1 894.8L494.2 900.0L494.3 899.0L494.4 889.9L494.5 896.0L494.6 890.6L494.7 899.6L494.8 899.8L494.9 904.2L494.9 905.8L495.0 892.9L495.1 905.5L495.2 894.7L495.3 891.5L495.4 894.1L495.5 899.2L495.6 891.8L495.7 893.2L495.8 900.4L495.9 899.1L496.0 892.9L496.1 888.2L496.2 896.7L496.3 896.2L496.4 892.4L496.5 898.7L496.6 893.1L496.6 902.7L496.7 902.0L496.8 898.2L496.9 903.1L497.0 893.3L497.1 893.9L497.2 891.6L497.3 890.0L497.4 894.8L497.5 894.1L497.6 892.2L497.7 891.8L497.8 899.3L497.9 907.0L498.0 908.1L498.1 905.6L498.2 897.4L498.3 907.4L498.3 898.5L498.4 896.2L498.5 895.1L498.6 894.2L498.7 893.3L498.8 899.4L498.9 896.9L499.0 893.4L499.1 895.4L499.2 889.9L499.3 890.4L499.4 893.1L499.5 895.9L499.6 896.1L499.7 896.3L499.8 915.6L499.9 899.0L500.0 888.8L500.0 896.0L500.1 894.0L500.2 890.9L500.3 888.3L500.4 894.0L500.5 900.4L500.6 885.7L500.7 904.1L500.8 893.4L500.9 890.4L501.0 895.8L501.1 893.1L501.2 897.1L501.3 903.3L501.4 892.7L501.5 894.1L501.6 895.9L501.7 893.6L501.7 899.6L501.8 888.1L501.9 891.2L502.0 895.6L502.1 897.8L502.2 895.7L502.3 899.8L502.4 894.7L502.5 896.8L502.6 901.2L502.7 899.5L502.8 900.0L502.9 893.4L503.0 893.5L503.1 890.6L503.2 905.4L503.3 894.5L503.4 894.2L503.4 896.6L503.5 899.9L503.6 896.4L503.7 891.6L503.8 889.7L503.9 888.8L504.0 895.5L504.1 889.0L504.2 891.7L504.3 895.6L504.4 898.6L504.5 895.1L504.6 888.8L504.7 902.3L504.8 891.3L504.9 888.9L505.0 890.1L505.1 897.3L505.1 895.1L505.2 893.6L505.3 894.5L505.4 893.8L505.5 898.5L505.6 891.7L505.7 892.5L505.8 887.8L505.9 895.1L506.0 891.7L506.1 894.8L506.2 900.1L506.3 890.3L506.4 894.6L506.5 891.0L506.6 895.6L506.7 904.4L506.8 898.5L506.9 889.4L506.9 894.3L507.0 895.8L507.1 898.1L507.2 896.9L507.3 906.0L507.4 894.8L507.5 900.8L507.6 890.8L507.7 892.3L507.8 901.3L507.9 897.8L508.0 901.4L508.1 894.4L508.2 887.9L508.3 898.6L508.4 895.4L508.5 902.5L508.6 896.4L508.6 895.2L508.7 891.4L508.8 898.2L508.9 901.6L509.0 891.2L509.1 890.2L509.2 894.6L509.3 894.2L509.4 893.5L509.5 899.7L509.6 897.1L509.7 893.7L509.8 895.2L509.9 896.3L510.0 892.8L510.1 899.6L510.2 891.2L510.3 892.7L510.3 900.0L510.4 891.4L510.5 893.2L510.6 895.9L510.7 887.4L510.8 894.9L510.9 887.0L511.0 898.3L511.1 902.4L511.2 891.0L511.3 896.6L511.4 900.7L511.5 890.6L511.6 887.7L511.7 894.3L511.8 891.2L511.9 892.8L512.0 888.2L512.0 887.8L512.1 892.4L512.2 892.5L512.3 891.0L512.4 896.8L512.5 890.0L512.6 892.2L512.7 891.5L512.8 892.1L512.9 895.5L513.0 904.3L513.1 890.3L513.2 893.2L513.3 891.0L513.4 893.7L513.5 901.5L513.6 894.9L513.7 900.2L513.7 891.2L513.8 887.8L513.9 885.4L514.0 896.8L514.1 891.1L514.2 894.2L514.3 906.3L514.4 889.2L514.5 893.2L514.6 902.2L514.7 890.3L514.8 888.1L514.9 894.4L515.0 899.2L515.1 893.6L515.2 889.5L515.3 895.8L515.4 889.8L515.4 891.1L515.5 891.4L515.6 896.2L515.7 898.9L515.8 897.9L515.9 905.6L516.0 888.8L516.1 887.7L516.2 897.1L516.3 894.7L516.4 887.1L516.5 891.7L516.6 894.3L516.7 894.0L516.8 888.2L516.9 889.9L517.0 888.7L517.1 886.0L517.1 887.0L517.2 898.3L517.3 897.2L517.4 894.3L517.5 892.1L517.6 890.3L517.7 887.2L517.8 893.5L517.9 890.3L518.0 888.3L518.1 889.2L518.2 908.0L518.3 897.3L518.4 897.2L518.5 886.1L518.6 891.3L518.7 889.0L518.8 890.9L518.8 891.3L518.9 901.5L519.0 897.9L519.1 891.3L519.2 880.8L519.3 895.0L519.4 891.6L519.5 898.5L519.6 895.6L519.7 896.9L519.8 884.7L519.9 898.9L520.0 891.7L520.1 894.6L520.2 880.9L520.3 892.3L520.4 888.4L520.5 884.8L520.6 889.0L520.6 894.5L520.7 892.3L520.8 895.6L520.9 892.9L521.0 888.5L521.1 895.6L521.2 890.8L521.3 884.5L521.4 890.2L521.5 887.2L521.6 888.0L521.7 897.8L521.8 905.2L521.9 893.5L522.0 888.4L522.1 897.0L522.2 890.5L522.3 890.7L522.3 891.9L522.4 892.6L522.5 898.8L522.6 889.1L522.7 892.8L522.8 899.2L522.9 901.9L523.0 889.1L523.1 890.9L523.2 885.2L523.3 900.0L523.4 891.5L523.5 895.7L523.6 888.9L523.7 890.7L523.8 889.8L523.9 884.7L524.0 889.6L524.0 895.7L524.1 893.8L524.2 888.3L524.3 890.7L524.4 895.9L524.5 889.1L524.6 896.3L524.7 896.6L524.8 891.4L524.9 884.5L525.0 889.9L525.1 893.4L525.2 886.2L525.3 895.3L525.4 887.1L525.5 888.0L525.6 889.0L525.7 893.2L525.7 890.2L525.8 900.9L525.9 890.3L526.0 888.5L526.1 887.2L526.2 892.4L526.3 887.5L526.4 896.1L526.5 894.2L526.6 893.9L526.7 885.3L526.8 898.8L526.9 915.9L527.0 884.6L527.1 892.9L527.2 896.4L527.3 885.4L527.4 888.1L527.4 893.0L527.5 883.4L527.6 891.6L527.7 890.2L527.8 888.9L527.9 895.1L528.0 889.2L528.1 907.4L528.2 899.2L528.3 887.8L528.4 892.2L528.5 895.8L528.6 902.2L528.7 894.3L528.8 887.3L528.9 899.8L529.0 886.7L529.1 892.7L529.1 895.3L529.2 889.4L529.3 896.5L529.4 895.9L529.5 886.3L529.6 893.8L529.7 889.0L529.8 894.8L529.9 890.4L530.0 897.0L530.1 892.5L530.2 888.2L530.3 892.3L530.4 894.4L530.5 895.4L530.6 896.1L530.7 898.0L530.8 889.3L530.8 894.1L530.9 882.3L531.0 895.0L531.1 892.0L531.2 887.8L531.3 887.5L531.4 897.9L531.5 884.3L531.6 888.6L531.7 887.8L531.8 885.5L531.9 890.7L532.0 889.2L532.1 889.8L532.2 888.1L532.3 895.6L532.4 888.6L532.5 895.9L532.5 889.1L532.6 883.3L532.7 895.3L532.8 891.2L532.9 898.8L533.0 894.3L533.1 890.3L533.2 889.4L533.3 890.9L533.4 894.7L533.5 893.3L533.6 883.2L533.7 887.1L533.8 888.3L533.9 905.6L534.0 889.0L534.1 885.4L534.2 894.1L534.3 882.6L534.3 890.0L534.4 887.2L534.5 891.7L534.6 889.1L534.7 897.6L534.8 885.1L534.9 896.6L535.0 894.8L535.1 895.6L535.2 894.3L535.3 905.2L535.4 890.1L535.5 883.6L535.6 895.2L535.7 890.0L535.8 900.4L535.9 886.5L536.0 905.7L536.0 892.6L536.1 897.0L536.2 896.5L536.3 889.1L536.4 880.1L536.5 891.6L536.6 885.0L536.7 892.0L536.8 884.7L536.9 893.0L537.0 887.3L537.1 896.3L537.2 887.9L537.3 892.6L537.4 900.0L537.5 882.5L537.6 890.5L537.7 892.8L537.7 887.5L537.8 889.4L537.9 889.1L538.0 886.8L538.1 895.3L538.2 901.2L538.3 891.8L538.4 898.8L538.5 890.4L538.6 890.2L538.7 894.2L538.8 909.0L538.9 885.1L539.0 895.0L539.1 893.2L539.2 890.9L539.3 890.6L539.4 890.4L539.4 890.8L539.5 889.6L539.6 889.4L539.7 886.6L539.8 886.0L539.9 884.1L540.0 885.4L540.1 897.5L540.2 889.1L540.3 889.5L540.4 896.7L540.5 890.2L540.6 889.1L540.7 878.0L540.8 895.1L540.9 897.7L541.0 883.3L541.1 889.3L541.1 899.3L541.2 889.3L541.3 894.5L541.4 889.6L541.5 892.9L541.6 902.2L541.7 885.4L541.8 890.5L541.9 887.5L542.0 888.0L542.1 889.9L542.2 885.2L542.3 891.7L542.4 893.1L542.5 891.4L542.6 885.2L542.7 888.4L542.8 885.1L542.8 883.1L542.9 894.3L543.0 892.0L543.1 894.2L543.2 888.2L543.3 878.4L543.4 888.2L543.5 889.9L543.6 888.3L543.7 885.2L543.8 893.2L543.9 887.0L544.0 889.7L544.1 885.6L544.2 891.2L544.3 882.9L544.4 885.4L544.5 888.1L544.5 896.9L544.6 879.9L544.7 889.8L544.8 888.1L544.9 887.8L545.0 896.5L545.1 884.4L545.2 880.3L545.3 888.6L545.4 883.4L545.5 887.8L545.6 890.4L545.7 889.8L545.8 887.2L545.9 894.2L546.0 896.9L546.1 889.6L546.2 886.4L546.2 887.8L546.3 882.7L546.4 883.7L546.5 882.4L546.6 887.4L546.7 886.6L546.8 884.9L546.9 885.7L547.0 887.5L547.1 883.3L547.2 884.0L547.3 891.5L547.4 883.2L547.5 890.7L547.6 889.0L547.7 882.9L547.8 887.7L547.9 887.5L548.0 883.0L548.0 891.3L548.1 890.7L548.2 891.7L548.3 886.5L548.4 889.8L548.5 892.2L548.6 886.0L548.7 885.6L548.8 886.4L548.9 881.3L549.0 882.2L549.1 880.6L549.2 886.6L549.3 885.8L549.4 897.7L549.5 887.0L549.6 879.6L549.7 892.1L549.7 882.0L549.8 886.9L549.9 877.8L550.0 884.5L550.1 891.8L550.2 880.7L550.3 886.4L550.4 882.6L550.5 891.7L550.6 889.8L550.7 894.2L550.8 890.4L550.9 882.9L551.0 883.2L551.1 889.0L551.2 885.7L551.3 891.4L551.4 883.0L551.4 893.0L551.5 890.6L551.6 891.9L551.7 880.3L551.8 893.0L551.9 883.8L552.0 887.0L552.1 885.3L552.2 895.6L552.3 888.1L552.4 885.5L552.5 882.0L552.6 889.5L552.7 888.2L552.8 877.4L552.9 889.8L553.0 886.7L553.1 887.1L553.1 885.7L553.2 884.6L553.3 884.7L553.4 887.4L553.5 886.6L553.6 887.6L553.7 891.0L553.8 889.3L553.9 882.6L554.0 885.5L554.1 893.8L554.2 886.9L554.3 880.1L554.4 885.5L554.5 878.1L554.6 881.5L554.7 886.6L554.8 889.6L554.8 890.3L554.9 884.0L555.0 897.1L555.1 882.9L555.2 882.0L555.3 883.6L555.4 886.9L555.5 891.1L555.6 891.5L555.7 893.4L555.8 888.6L555.9 882.1L556.0 884.1L556.1 884.0L556.2 898.7L556.3 881.1L556.4 881.6L556.5 885.0L556.5 881.1L556.6 877.1L556.7 888.6L556.8 881.7L556.9 887.2L557.0 889.1L557.1 883.9L557.2 881.4L557.3 880.1L557.4 886.0L557.5 880.2L557.6 892.1L557.7 894.4L557.8 883.9L557.9 885.4L558.0 880.4L558.1 885.9L558.2 878.8L558.2 879.4L558.3 885.3L558.4 885.2L558.5 887.3L558.6 893.3L558.7 890.8L558.8 889.0L558.9 884.6L559.0 891.5L559.1 884.8L559.2 878.0L559.3 882.7L559.4 884.8L559.5 881.2L559.6 884.9L559.7 883.4L559.8 879.6L559.9 889.6L559.9 885.6L560.0 881.0L560.1 888.6L560.2 884.8L560.3 887.5L560.4 882.0L560.5 885.2L560.6 890.4L560.7 887.6L560.8 882.0L560.9 882.6L561.0 893.0L561.1 879.5L561.2 878.4L561.3 883.5L561.4 890.4L561.5 886.8L561.6 878.7L561.7 887.2L561.7 883.2L561.8 879.1L561.9 881.5L562.0 882.8L562.1 884.2L562.2 882.2L562.3 884.2L562.4 900.1L562.5 874.9L562.6 886.9L562.7 890.8L562.8 882.5L562.9 883.9L563.0 886.5L563.1 888.1L563.2 887.1L563.3 885.3L563.4 881.8L563.4 894.4L563.5 875.5L563.6 881.7L563.7 882.7L563.8 880.6L563.9 875.1L564.0 876.6L564.1 879.5L564.2 874.1L564.3 892.3L564.4 886.6L564.5 885.9L564.6 879.4L564.7 879.7L564.8 884.7L564.9 877.4L565.0 881.9L565.1 887.6L565.1 882.6L565.2 889.9L565.3 877.3L565.4 879.6L565.5 885.5L565.6 880.8L565.7 880.2L565.8 881.3L565.9 877.1L566.0 876.4L566.1 889.4L566.2 883.3L566.3 878.9L566.4 888.8L566.5 878.8L566.6 898.0L566.7 882.7L566.8 881.0L566.8 875.1L566.9 880.1L567.0 876.4L567.1 879.9L567.2 886.9L567.3 876.8L567.4 878.2L567.5 882.5L567.6 884.9L567.7 884.6L567.8 876.1L567.9 874.1L568.0 874.4L568.1 877.8L568.2 881.3L568.3 873.2L568.4 879.8L568.5 882.3L568.5 888.0L568.6 887.1L568.7 877.1L568.8 882.4L568.9 890.1L569.0 874.4L569.1 881.3L569.2 886.9L569.3 877.6L569.4 887.5L569.5 885.4L569.6 886.2L569.7 884.8L569.8 886.7L569.9 886.6L570.0 870.1L570.1 877.4L570.2 880.4L570.2 882.2L570.3 887.1L570.4 877.1L570.5 873.3L570.6 879.4L570.7 880.5L570.8 883.2L570.9 876.9L571.0 877.1L571.1 877.9L571.2 875.8L571.3 882.5L571.4 883.6L571.5 874.2L571.6 876.7L571.7 876.3L571.8 885.2L571.9 875.2L571.9 874.1L572.0 879.5L572.1 882.9L572.2 877.8L572.3 883.5L572.4 882.8L572.5 875.0L572.6 880.9L572.7 889.7L572.8 878.6L572.9 878.3L573.0 882.1L573.1 884.2L573.2 880.4L573.3 883.2L573.4 876.2L573.5 872.1L573.6 879.3L573.6 874.5L573.7 880.4L573.8 873.1L573.9 879.5L574.0 882.5L574.1 886.9L574.2 877.6L574.3 875.0L574.4 872.5L574.5 874.0L574.6 877.3L574.7 871.2L574.8 881.7L574.9 874.7L575.0 879.6L575.1 879.7L575.2 872.9L575.3 871.8L575.3 881.9L575.4 871.4L575.5 871.9L575.6 880.5L575.7 876.7L575.8 885.3L575.9 892.1L576.0 875.8L576.1 878.1L576.2 879.5L576.3 875.5L576.4 881.6L576.5 876.1L576.6 871.6L576.7 869.2L576.8 878.0L576.9 881.9L577.0 878.8L577.1 876.4L577.1 875.2L577.2 884.2L577.3 870.9L577.4 870.1L577.5 875.7L577.6 878.8L577.7 876.5L577.8 870.3L577.9 872.7L578.0 873.9L578.1 885.7L578.2 880.0L578.3 878.4L578.4 884.3L578.5 867.5L578.6 877.7L578.7 873.3L578.8 874.3L578.8 879.1L578.9 876.7L579.0 881.6L579.1 873.2L579.2 887.0L579.3 884.4L579.4 888.0L579.5 881.3L579.6 871.0L579.7 875.7L579.8 876.3L579.9 874.0L580.0 878.7L580.1 880.7L580.2 871.1L580.3 883.2L580.4 879.7L580.5 869.3L580.5 871.5L580.6 874.6L580.7 885.7L580.8 870.5L580.9 875.7L581.0 873.9L581.1 877.7L581.2 873.0L581.3 879.6L581.4 871.8L581.5 864.8L581.6 876.2L581.7 884.6L581.8 876.8L581.9 878.6L582.0 871.8L582.1 875.3L582.2 872.5L582.2 875.8L582.3 877.4L582.4 874.3L582.5 870.9L582.6 885.6L582.7 868.1L582.8 878.4L582.9 885.4L583.0 867.6L583.1 865.0L583.2 868.9L583.3 872.7L583.4 870.5L583.5 873.8L583.6 874.6L583.7 878.5L583.8 870.5L583.9 874.0L583.9 879.2L584.0 878.2L584.1 871.6L584.2 879.2L584.3 866.1L584.4 864.3L584.5 871.3L584.6 863.8L584.7 871.2L584.8 877.0L584.9 888.2L585.0 878.8L585.1 866.9L585.2 878.8L585.3 874.3L585.4 869.3L585.5 874.2L585.6 871.5L585.6 868.8L585.7 872.8L585.8 871.4L585.9 874.4L586.0 879.8L586.1 870.3L586.2 870.9L586.3 875.2L586.4 872.3L586.5 873.9L586.6 868.9L586.7 863.4L586.8 868.0L586.9 872.2L587.0 861.0L587.1 878.0L587.2 871.3L587.3 878.7L587.3 873.3L587.4 866.4L587.5 866.5L587.6 871.0L587.7 876.4L587.8 869.2L587.9 877.5L588.0 872.0L588.1 874.3L588.2 865.6L588.3 866.5L588.4 872.4L588.5 876.6L588.6 879.0L588.7 884.8L588.8 870.8L588.9 862.1L589.0 870.9L589.0 873.3L589.1 870.6L589.2 868.3L589.3 874.4L589.4 876.6L589.5 889.7L589.6 870.3L589.7 872.7L589.8 874.0L589.9 869.3L590.0 872.8L590.1 868.6L590.2 865.5L590.3 868.3L590.4 869.1L590.5 864.2L590.6 868.4L590.7 872.4L590.8 867.3L590.8 874.6L590.9 875.7L591.0 879.1L591.1 869.2L591.2 875.6L591.3 871.4L591.4 870.8L591.5 871.9L591.6 865.9L591.7 865.8L591.8 872.4L591.9 864.1L592.0 880.6L592.1 864.4L592.2 869.8L592.3 865.6L592.4 862.2L592.5 864.5L592.5 883.9L592.6 865.5L592.7 880.3L592.8 867.9L592.9 867.5L593.0 863.9L593.1 875.9L593.2 867.9L593.3 867.7L593.4 868.6L593.5 881.1L593.6 875.1L593.7 871.6L593.8 863.4L593.9 872.0L594.0 871.4L594.1 881.5L594.2 864.7L594.2 867.5L594.3 869.9L594.4 867.3L594.5 875.8L594.6 862.3L594.7 868.8L594.8 859.9L594.9 862.5L595.0 863.0L595.1 882.9L595.2 867.8L595.3 865.5L595.4 864.9L595.5 871.6L595.6 866.5L595.7 873.0L595.8 870.0L595.9 862.8L595.9 878.9L596.0 863.4L596.1 864.8L596.2 870.3L596.3 853.1L596.4 874.7L596.5 864.1L596.6 868.0L596.7 858.6L596.8 868.2L596.9 868.8L597.0 861.9L597.1 867.0L597.2 870.5L597.3 857.4L597.4 858.9L597.5 864.2L597.6 863.5L597.6 862.6L597.7 867.8L597.8 863.0L597.9 865.5L598.0 865.6L598.1 864.8L598.2 866.2L598.3 859.6L598.4 861.6L598.5 860.9L598.6 866.7L598.7 870.3L598.8 855.6L598.9 865.4L599.0 865.6L599.1 862.6L599.2 859.6L599.3 866.3L599.3 861.6L599.4 866.3L599.5 867.8L599.6 859.8L599.7 856.5L599.8 872.2L599.9 873.6L600.0 864.9L600.1 863.5L600.2 863.7L600.3 875.4L600.4 858.3L600.5 869.5L600.6 862.9L600.7 866.5L600.8 861.4L600.9 863.2L601.0 861.3L601.0 860.9L601.1 864.4L601.2 868.4L601.3 872.3L601.4 870.4L601.5 863.7L601.6 859.9L601.7 861.3L601.8 860.4L601.9 863.8L602.0 866.3L602.1 855.6L602.2 853.9L602.3 858.6L602.4 862.7L602.5 853.6L602.6 861.7L602.7 855.9L602.7 874.1L602.8 873.1L602.9 856.4L603.0 865.1L603.1 857.4L603.2 863.8L603.3 871.3L603.4 859.8L603.5 860.9L603.6 863.4L603.7 864.0L603.8 858.2L603.9 860.2L604.0 863.6L604.1 856.9L604.2 862.9L604.3 860.7L604.4 864.6L604.5 859.8L604.5 847.6L604.6 856.3L604.7 847.3L604.8 861.5L604.9 853.5L605.0 865.4L605.1 855.8L605.2 860.6L605.3 858.2L605.4 858.2L605.5 856.3L605.6 865.2L605.7 854.8L605.8 865.1L605.9 856.7L606.0 863.9L606.1 855.6L606.2 858.5L606.2 860.0L606.3 853.1L606.4 851.7L606.5 855.4L606.6 860.6L606.7 856.5L606.8 863.3L606.9 860.4L607.0 857.8L607.1 858.4L607.2 864.2L607.3 851.2L607.4 855.7L607.5 853.5L607.6 860.5L607.7 854.4L607.8 870.6L607.9 855.4L607.9 859.8L608.0 868.7L608.1 855.6L608.2 856.7L608.3 861.5L608.4 866.2L608.5 849.8L608.6 858.6L608.7 864.0L608.8 863.7L608.9 858.7L609.0 855.2L609.1 851.1L609.2 855.3L609.3 856.5L609.4 851.0L609.5 864.9L609.6 852.7L609.6 854.6L609.7 854.7L609.8 852.7L609.9 854.6L610.0 850.1L610.1 849.1L610.2 848.1L610.3 853.4L610.4 861.2L610.5 860.1L610.6 846.3L610.7 865.0L610.8 855.7L610.9 853.2L611.0 849.3L611.1 856.2L611.2 859.8L611.3 864.0L611.3 843.2L611.4 856.3L611.5 858.5L611.6 846.8L611.7 852.1L611.8 850.2L611.9 853.2L612.0 850.9L612.1 843.8L612.2 861.9L612.3 848.5L612.4 852.6L612.5 845.4L612.6 850.7L612.7 843.2L612.8 853.2L612.9 850.4L613.0 839.2L613.0 852.2L613.1 856.0L613.2 854.3L613.3 847.7L613.4 855.5L613.5 850.3L613.6 849.2L613.7 848.5L613.8 842.5L613.9 849.1L614.0 869.2L614.1 848.4L614.2 849.5L614.3 844.5L614.4 851.3L614.5 844.6L614.6 848.8L614.7 845.3L614.7 860.8L614.8 848.7L614.9 849.8L615.0 848.0L615.1 852.0L615.2 847.3L615.3 842.8L615.4 843.5L615.5 847.1L615.6 832.5L615.7 864.1L615.8 842.8L615.9 848.9L616.0 836.4L616.1 849.6L616.2 848.6L616.3 845.3L616.4 843.5L616.4 836.8L616.5 855.2L616.6 849.7L616.7 842.7L616.8 843.0L616.9 851.9L617.0 841.4L617.1 841.8L617.2 839.7L617.3 851.3L617.4 838.2L617.5 838.5L617.6 838.9L617.7 843.7L617.8 835.2L617.9 849.1L618.0 834.4L618.1 831.8L618.2 839.3L618.2 844.3L618.3 840.8L618.4 837.9L618.5 847.3L618.6 836.8L618.7 839.0L618.8 844.9L618.9 830.9L619.0 832.2L619.1 835.7L619.2 839.8L619.3 833.1L619.4 843.9L619.5 840.0L619.6 838.5L619.7 849.9L619.8 839.7L619.9 840.1L619.9 827.9L620.0 829.3L620.1 833.4L620.2 831.6L620.3 837.7L620.4 829.9L620.5 838.5L620.6 833.2L620.7 833.6L620.8 836.0L620.9 834.6L621.0 830.8L621.1 831.2L621.2 823.7L621.3 831.9L621.4 826.3L621.5 827.7L621.6 827.0L621.6 830.2L621.7 821.1L621.8 845.7L621.9 825.1L622.0 837.0L622.1 822.7L622.2 826.9L622.3 830.4L622.4 833.0L622.5 824.8L622.6 823.0L622.7 821.2L622.8 827.9L622.9 823.7L623.0 828.3L623.1 815.6L623.2 828.9L623.3 832.3L623.3 826.8L623.4 826.5L623.5 823.7L623.6 810.3L623.7 821.9L623.8 824.9L623.9 826.4L624.0 823.5L624.1 823.9L624.2 817.3L624.3 835.4L624.4 813.9L624.5 824.6L624.6 813.8L624.7 818.8L624.8 817.9L624.9 809.8L625.0 811.6L625.0 818.4L625.1 810.3L625.2 803.7L625.3 812.9L625.4 808.3L625.5 803.6L625.6 799.8L625.7 815.5L625.8 804.7L625.9 811.3L626.0 802.4L626.1 811.4L626.2 799.5L626.3 788.8L626.4 799.4L626.5 786.3L626.6 784.8L626.7 783.7L626.7 784.4L626.8 795.9L626.9 781.4L627.0 780.1L627.1 775.5L627.2 763.1L627.3 780.6L627.4 780.4L627.5 782.3L627.6 785.0L627.7 783.9L627.8 788.3L627.9 787.0L628.0 788.7L628.1 786.6L628.2 802.9L628.3 791.4L628.4 794.1L628.4 798.4L628.5 803.0L628.6 800.1L628.7 811.5L628.8 810.6L628.9 805.0L629.0 806.7L629.1 811.3L629.2 814.2L629.3 832.0L629.4 818.9L629.5 820.9L629.6 817.2L629.7 821.2L629.8 815.9L629.9 822.9L630.0 817.9L630.1 831.6L630.1 820.8L630.2 833.2L630.3 824.7L630.4 837.2L630.5 814.9L630.6 822.0L630.7 815.8L630.8 833.3L630.9 828.1L631.0 820.2L631.1 831.5L631.2 820.0L631.3 821.9L631.4 829.4L631.5 832.3L631.6 836.9L631.7 826.2L631.8 823.7L631.9 828.9L631.9 835.5L632.0 830.4L632.1 826.3L632.2 834.7L632.3 824.0L632.4 829.2L632.5 844.2L632.6 832.0L632.7 828.4L632.8 839.0L632.9 842.6L633.0 839.1L633.1 848.3L633.2 846.5L633.3 830.8L633.4 840.4L633.5 834.3L633.6 828.2L633.6 825.5L633.7 847.2L633.8 834.9L633.9 844.3L634.0 840.0L634.1 831.1L634.2 851.2L634.3 828.6L634.4 831.2L634.5 843.1L634.6 828.9L634.7 835.7L634.8 837.8L634.9 836.4L635.0 850.5L635.1 837.3L635.2 832.3L635.3 833.3L635.3 834.6L635.4 845.1L635.5 839.5L635.6 835.9L635.7 837.1L635.8 836.5L635.9 847.3L636.0 844.3L636.1 855.1L636.2 850.4L636.3 847.6L636.4 849.2L636.5 835.3L636.6 839.1L636.7 846.4L636.8 846.3L636.9 846.1L637.0 841.2L637.0 841.4L637.1 848.4L637.2 849.7L637.3 845.8L637.4 861.2L637.5 845.1L637.6 844.3L637.7 850.8L637.8 856.7L637.9 846.2L638.0 836.2L638.1 845.9L638.2 845.2L638.3 853.4L638.4 851.2L638.5 850.0L638.6 866.3L638.7 855.9L638.7 835.6L638.8 849.8L638.9 849.7L639.0 840.2L639.1 849.3L639.2 843.9L639.3 848.7L639.4 847.1L639.5 858.4L639.6 849.5L639.7 846.0L639.8 848.0L639.9 856.2L640.0 846.8L640.1 862.2L640.2 857.9L640.3 843.6L640.4 862.8L640.4 844.8L640.5 854.2L640.6 849.5L640.7 845.4L640.8 837.7L640.9 850.9L641.0 854.0L641.1 861.0L641.2 856.4L641.3 846.8L641.4 850.8L641.5 852.9L641.6 845.3L641.7 853.3L641.8 851.4L641.9 851.9L642.0 855.0L642.1 854.5L642.1 846.7L642.2 848.4L642.3 849.0L642.4 855.8L642.5 858.7L642.6 853.6L642.7 843.8L642.8 853.1L642.9 860.4L643.0 852.7L643.1 846.0L643.2 866.8L643.3 848.9L643.4 851.3L643.5 861.3L643.6 852.0L643.7 867.0L643.8 849.9L643.8 853.7L643.9 874.8L644.0 862.7L644.1 865.9L644.2 855.2L644.3 866.2L644.4 851.1L644.5 849.3L644.6 850.4L644.7 862.9L644.8 852.5L644.9 873.7L645.0 855.6L645.1 858.0L645.2 851.0L645.3 856.6L645.4 856.3L645.5 858.9L645.6 867.0L645.6 859.8L645.7 872.6L645.8 860.3L645.9 856.1L646.0 854.9L646.1 853.2L646.2 860.1L646.3 859.5L646.4 857.7L646.5 858.2L646.6 855.6L646.7 866.5L646.8 855.9L646.9 855.8L647.0 856.5L647.1 865.3L647.2 865.1L647.3 861.3L647.3 859.7L647.4 855.7L647.5 859.3L647.6 859.8L647.7 850.3L647.8 861.1L647.9 859.4L648.0 858.5L648.1 859.4L648.2 861.2L648.3 860.9L648.4 858.7L648.5 858.1L648.6 867.6L648.7 869.7L648.8 863.7L648.9 858.9L649.0 853.8L649.0 864.5L649.1 866.6L649.2 855.5L649.3 858.8L649.4 882.9L649.5 866.3L649.6 863.5L649.7 868.0L649.8 858.3L649.9 863.0L650.0 859.1L650.1 864.9L650.2 858.2L650.3 865.4L650.4 860.8L650.5 853.4L650.6 873.1L650.7 868.3L650.7 856.5L650.8 877.9L650.9 860.4L651.0 875.1L651.1 868.0L651.2 873.6L651.3 881.8L651.4 857.2L651.5 868.0L651.6 862.5L651.7 861.7L651.8 863.1L651.9 857.2L652.0 858.7L652.1 881.4L652.2 863.3L652.3 872.3L652.4 873.0L652.4 865.1L652.5 862.6L652.6 864.9L652.7 855.9L652.8 859.8L652.9 855.3L653.0 869.8L653.1 863.1L653.2 863.3L653.3 862.6L653.4 862.6L653.5 884.6L653.6 865.9L653.7 870.1L653.8 871.2L653.9 861.5L654.0 876.4L654.1 874.2L654.1 862.3L654.2 866.4L654.3 870.5L654.4 870.6L654.5 867.9L654.6 863.7L654.7 856.3L654.8 875.5L654.9 874.5L655.0 876.6L655.1 864.9L655.2 877.9L655.3 883.6L655.4 868.1L655.5 858.3L655.6 864.3L655.7 865.8L655.8 870.1L655.8 866.5L655.9 869.0L656.0 868.0L656.1 863.2L656.2 870.2L656.3 874.8L656.4 862.6L656.5 865.5L656.6 855.3L656.7 864.1L656.8 862.5L656.9 869.9L657.0 879.4L657.1 865.0L657.2 882.9L657.3 881.6L657.4 872.5L657.5 859.0L657.5 873.0L657.6 867.9L657.7 874.7L657.8 871.7L657.9 877.3L658.0 876.8L658.1 872.1L658.2 863.9L658.3 876.9L658.4 874.3" fill="none" stroke="#d95420" stroke-width="1.1" stroke-linejoin="round"/>
<path d="M91.6 939.4L92.2 942.6L92.7 953.4L93.3 955.5L93.9 948.5L94.4 948.9L95.0 950.1L95.6 950.3L96.1 949.4L96.7 940.6L97.3 951.8L97.8 941.1L98.4 956.2L99.0 949.3L99.5 945.9L100.1 944.2L100.7 949.9L101.2 951.9L101.8 954.4L102.4 963.1L102.9 958.6L103.5 956.8L104.1 944.5L104.6 944.7L105.2 945.3L105.8 950.4L106.4 962.2L106.9 950.9L107.5 958.7L108.1 952.6L108.6 952.8L109.2 955.9L109.8 956.8L110.3 976.6L110.9 954.0L111.5 954.5L112.0 942.8L112.6 946.6L113.2 952.7L113.7 950.2L114.3 942.2L114.9 946.9L115.4 949.0L116.0 949.5L116.6 951.0L117.1 949.1L117.7 956.6L118.3 959.4L118.8 944.8L119.4 944.1L120.0 949.2L120.5 948.8L121.1 949.5L121.7 952.7L122.2 949.4L122.8 952.9L123.4 956.4L123.9 947.0L124.5 947.5L125.1 947.9L125.6 942.2L126.2 947.4L126.8 945.0L127.3 948.9L127.9 952.3L128.5 946.3L129.0 942.6L129.6 949.4L130.2 944.4L130.7 936.5L131.3 955.5L131.9 948.9L132.5 949.3L133.0 956.5L133.6 950.6L134.2 950.1L134.7 948.6L135.3 961.5L135.9 953.5L136.4 940.1L137.0 945.5L137.6 950.8L138.1 952.0L138.7 945.4L139.3 952.5L139.8 950.6L140.4 956.5L141.0 948.2L141.5 944.1L142.1 954.4L142.7 956.2L143.2 949.6L143.8 948.5L144.4 951.8L144.9 952.8L145.5 941.8L146.1 953.1L146.6 945.2L147.2 949.6L147.8 946.0L148.3 953.5L148.9 957.0L149.5 952.7L150.0 942.6L150.6 954.0L151.2 947.3L151.7 942.2L152.3 951.0L152.9 956.2L153.4 950.0L154.0 952.1L154.6 951.3L155.1 951.7L155.7 950.6L156.3 944.1L156.8 961.4L157.4 943.3L158.0 943.3L158.5 956.0L159.1 944.7L159.7 951.5L160.3 954.3L160.8 952.8L161.4 976.4L162.0 946.2L162.5 950.8L163.1 943.8L163.7 971.7L164.2 944.4L164.8 949.6L165.4 957.4L165.9 951.2L166.5 953.5L167.1 952.7L167.6 945.7L168.2 941.7L168.8 943.8L169.3 950.3L169.9 950.7L170.5 956.0L171.0 960.7L171.6 970.7L172.2 957.1L172.7 948.5L173.3 951.3L173.9 938.0L174.4 956.0L175.0 943.9L175.6 953.5L176.1 946.3L176.7 951.2L177.3 948.8L177.8 951.3L178.4 958.3L179.0 947.0L179.5 948.3L180.1 949.5L180.7 950.6L181.2 953.3L181.8 950.1L182.4 947.0L182.9 970.7L183.5 945.5L184.1 949.0L184.6 967.2L185.2 955.6L185.8 961.2L186.4 963.5L186.9 944.7L187.5 947.7L188.1 944.5L188.6 942.4L189.2 950.6L189.8 942.8L190.3 945.1L190.9 950.0L191.5 949.0L192.0 954.0L192.6 955.2L193.2 942.3L193.7 943.0L194.3 955.7L194.9 962.8L195.4 955.3L196.0 941.8L196.6 951.8L197.1 944.1L197.7 948.3L198.3 938.8L198.8 945.9L199.4 960.8L200.0 952.5L200.5 945.7L201.1 953.0L201.7 958.1L202.2 952.5L202.8 943.1L203.4 956.2L203.9 958.4L204.5 953.2L205.1 964.1L205.6 942.4L206.2 960.4L206.8 955.8L207.3 943.7L207.9 965.1L208.5 946.3L209.0 947.0L209.6 944.9L210.2 957.8L210.7 960.1L211.3 947.8L211.9 946.2L212.4 952.4L213.0 958.4L213.6 956.4L214.2 955.6L214.7 955.0L215.3 951.5L215.9 947.6L216.4 963.7L217.0 949.9L217.6 943.0L218.1 952.8L218.7 953.2L219.3 947.7L219.8 949.5L220.4 970.3L221.0 949.1L221.5 952.8L222.1 949.9L222.7 946.4L223.2 947.1L223.8 955.1L224.4 954.0L224.9 943.0L225.5 956.1L226.1 957.3L226.6 946.2L227.2 952.3L227.8 950.4L228.3 941.4L228.9 943.5L229.5 950.9L230.0 946.7L230.6 963.4L231.2 948.8L231.7 945.4L232.3 953.4L232.9 942.1L233.4 941.3L234.0 950.4L234.6 955.5L235.1 953.7L235.7 946.4L236.3 957.2L236.8 952.7L237.4 947.0L238.0 953.7L238.5 956.2L239.1 957.3L239.7 955.0L240.3 946.0L240.8 956.9L241.4 951.3L242.0 944.7L242.5 952.9L243.1 948.8L243.7 956.1L244.2 945.6L244.8 950.6L245.4 967.5L245.9 943.7L246.5 938.5L247.1 955.2L247.6 952.7L248.2 951.4L248.8 943.6L249.3 951.6L249.9 952.5L250.5 951.7L251.0 945.7L251.6 971.0L252.2 946.9L252.7 949.8L253.3 945.5L253.9 950.2L254.4 947.6L255.0 944.9L255.6 944.8L256.1 955.6L256.7 951.7L257.3 949.0L257.8 948.1L258.4 951.5L259.0 954.6L259.5 963.0L260.1 950.1L260.7 946.0L261.2 957.5L261.8 945.6L262.4 946.4L262.9 953.2L263.5 944.3L264.1 937.0L264.6 953.4L265.2 954.2L265.8 937.6L266.3 954.3L266.9 948.0L267.5 948.8L268.1 952.3L268.6 952.9L269.2 948.1L269.8 950.7L270.3 948.5L270.9 943.8L271.5 946.6L272.0 950.2L272.6 946.9L273.2 958.0L273.7 954.6L274.3 943.6L274.9 962.4L275.4 951.8L276.0 941.6L276.6 953.4L277.1 958.6L277.7 957.2L278.3 965.1L278.8 955.1L279.4 942.1L280.0 950.2L280.5 957.7L281.1 954.9L281.7 963.5L282.2 955.9L282.8 947.4L283.4 946.4L283.9 944.5L284.5 940.9L285.1 955.1L285.6 937.2L286.2 954.0L286.8 954.0L287.3 941.7L287.9 946.2L288.5 942.9L289.0 954.3L289.6 958.7L290.2 950.3L290.7 951.0L291.3 946.6L291.9 950.8L292.4 952.1L293.0 951.8L293.6 954.0L294.2 950.6L294.7 946.2L295.3 951.4L295.9 949.9L296.4 946.6L297.0 941.3L297.6 953.5L298.1 944.3L298.7 944.6L299.3 953.5L299.8 953.2L300.4 959.7L301.0 950.5L301.5 949.3L302.1 953.2L302.7 951.7L303.2 944.3L303.8 953.8L304.4 955.8L304.9 951.1L305.5 949.3L306.1 953.5L306.6 939.7L307.2 950.2L307.8 939.7L308.3 951.0L308.9 954.7L309.5 945.6L310.0 952.7L310.6 950.6L311.2 945.7L311.7 958.6L312.3 953.4L312.9 934.4L313.4 946.7L314.0 960.0L314.6 948.1L315.1 955.0L315.7 949.6L316.3 956.2L316.8 947.7L317.4 945.7L318.0 950.4L318.5 944.6L319.1 948.9L319.7 949.0L320.2 953.9L320.8 948.2L321.4 973.3L322.0 952.4L322.5 963.1L323.1 959.2L323.7 952.2L324.2 951.9L324.8 957.5L325.4 949.9L325.9 954.3L326.5 962.2L327.1 955.7L327.6 947.8L328.2 946.1L328.8 956.4L329.3 950.2L329.9 942.3L330.5 957.9L331.0 946.3L331.6 951.9L332.2 948.5L332.7 943.7L333.3 949.4L333.9 958.0L334.4 960.8L335.0 953.0L335.6 953.9L336.1 948.8L336.7 944.8L337.3 939.5L337.8 946.6L338.4 947.7L339.0 950.2L339.5 946.6L340.1 950.6L340.7 946.6L341.2 955.4L341.8 949.6L342.4 954.6L342.9 948.9L343.5 939.8L344.1 945.6L344.6 948.7L345.2 946.5L345.8 944.2L346.3 955.1L346.9 943.3L347.5 943.5L348.1 945.3L348.6 945.3L349.2 948.3L349.8 959.7L350.3 955.5L350.9 955.6L351.5 942.2L352.0 952.7L352.6 950.5L353.2 954.3L353.7 942.5L354.3 944.9L354.9 949.8L355.4 954.8L356.0 949.4L356.6 951.6L357.1 951.7L357.7 943.1L358.3 946.2L358.8 945.9L359.4 945.9L360.0 945.6L360.5 954.0L361.1 947.3L361.7 957.7L362.2 953.1L362.8 941.7L363.4 962.9L363.9 948.4L364.5 940.8L365.1 946.3L365.6 959.7L366.2 950.9L366.8 950.7L367.3 952.3L367.9 941.2L368.5 953.4L369.0 952.7L369.6 942.0L370.2 953.4L370.7 957.4L371.3 953.4L371.9 946.0L372.4 950.9L373.0 942.4L373.6 942.3L374.1 944.8L374.7 947.9L375.3 948.0L375.9 941.8L376.4 963.9L377.0 941.4L377.6 944.6L378.1 958.7L378.7 954.0L379.3 946.1L379.8 956.3L380.4 947.6L381.0 956.8L381.5 952.2L382.1 947.7L382.7 943.6L383.2 957.1L383.8 952.7L384.4 963.2L384.9 954.4L385.5 945.1L386.1 948.4L386.6 947.5L387.2 948.4L387.8 949.5L388.3 939.4L388.9 944.5L389.5 945.1L390.0 955.6L390.6 954.5L391.2 949.6L391.7 971.4L392.3 953.8L392.9 949.8L393.4 947.9L394.0 950.3L394.6 950.8L395.1 947.8L395.7 951.1L396.3 949.5L396.8 953.7L397.4 950.8L398.0 944.4L398.5 953.9L399.1 956.2L399.7 949.8L400.2 947.1L400.8 960.1L401.4 942.0L401.9 949.1L402.5 958.5L403.1 951.5L403.7 953.7L404.2 971.1L404.8 945.7L405.4 950.0L405.9 954.9L406.5 951.5L407.1 950.1L407.6 954.0L408.2 943.7L408.8 957.1L409.3 944.5L409.9 943.4L410.5 952.1L411.0 948.3L411.6 948.3L412.2 944.4L412.7 950.5L413.3 949.7L413.9 945.6L414.4 943.1L415.0 946.6L415.6 957.9L416.1 949.5L416.7 947.3L417.3 948.5L417.8 950.7L418.4 953.2L419.0 948.3L419.5 951.9L420.1 942.5L420.7 958.1L421.2 947.8L421.8 951.1L422.4 948.0L422.9 954.5L423.5 947.5L424.1 945.6L424.6 952.9L425.2 956.8L425.8 943.4L426.3 953.2L426.9 950.0L427.5 952.0L428.0 960.1L428.6 943.8L429.2 946.5L429.8 947.2L430.3 945.7L430.9 942.5L431.5 963.9L432.0 946.9L432.6 954.5L433.2 945.0L433.7 947.8L434.3 944.8L434.9 957.3L435.4 956.7L436.0 948.8L436.6 948.9L437.1 949.2L437.7 951.8L438.3 944.4L438.8 949.5L439.4 958.3L440.0 951.6L440.5 960.3L441.1 947.3L441.7 945.7L442.2 951.7L442.8 955.4L443.4 952.6L443.9 952.5L444.5 959.5L445.1 944.8L445.6 950.2L446.2 943.2L446.8 946.9L447.3 945.5L447.9 952.8L448.5 950.5L449.0 948.6L449.6 951.2L450.2 952.5L450.7 941.5L451.3 952.6L451.9 949.6L452.4 957.4L453.0 952.7L453.6 951.1L454.1 948.8L454.7 974.4L455.3 950.8L455.8 945.4L456.4 950.0L457.0 942.9L457.6 971.0L458.1 949.5L458.7 948.8L459.3 958.0L459.8 951.8L460.4 958.4L461.0 951.8L461.5 953.4L462.1 950.0L462.7 952.9L463.2 944.3L463.8 951.5L464.4 960.5L464.9 953.3L465.5 947.5L466.1 954.4L466.6 946.4L467.2 953.5L467.8 962.7L468.3 966.7L468.9 947.5L469.5 950.9L470.0 945.4L470.6 956.9L471.2 948.8L471.7 948.8L472.3 947.1L472.9 950.0L473.4 941.4L474.0 950.8L474.6 941.4L475.1 953.2L475.7 951.9L476.3 942.8L476.8 949.0L477.4 958.6L478.0 961.0L478.5 952.5L479.1 945.0L479.7 962.7L480.2 949.9L480.8 944.9L481.4 958.2L481.9 954.9L482.5 952.9L483.1 939.0L483.7 948.4L484.2 950.3L484.8 960.8L485.4 949.7L485.9 953.3L486.5 956.4L487.1 948.7L487.6 946.9L488.2 951.0L488.8 958.8L489.3 954.4L489.9 944.5L490.5 947.6L491.0 952.4L491.6 943.4L492.2 954.4L492.7 951.0L493.3 943.9L493.9 953.6L494.4 947.0L495.0 947.5L495.6 962.3L496.1 944.6L496.7 952.7L497.3 952.4L497.8 954.4L498.4 947.6L499.0 948.6L499.5 953.8L500.1 953.8L500.7 952.6L501.2 939.9L501.8 949.7L502.4 945.5L502.9 947.5L503.5 943.2L504.1 969.5L504.6 951.7L505.2 951.6L505.8 942.7L506.3 951.2L506.9 945.4L507.5 946.5L508.0 946.1L508.6 948.0L509.2 953.2L509.7 943.9L510.3 949.4L510.9 940.3L511.5 959.9L512.0 958.8L512.6 940.9L513.2 959.8L513.7 949.5L514.3 956.5L514.9 948.1L515.4 957.9L516.0 954.2L516.6 955.9L517.1 945.6L517.7 966.1L518.3 938.7L518.8 948.2L519.4 945.2L520.0 949.2L520.5 946.1L521.1 950.0L521.7 953.7L522.2 953.5L522.8 956.2L523.4 935.9L523.9 955.6L524.5 950.8L525.1 948.1L525.6 949.9L526.2 946.7L526.8 944.4L527.3 948.8L527.9 957.3L528.5 961.1L529.0 946.8L529.6 950.3L530.2 946.2L530.7 941.3L531.3 953.1L531.9 945.5L532.4 952.4L533.0 955.6L533.6 948.2L534.1 948.9L534.7 950.2L535.3 954.3L535.8 953.9L536.4 951.8L537.0 955.4L537.6 953.4L538.1 957.2L538.7 951.1L539.3 948.3L539.8 944.8L540.4 953.0L541.0 953.0L541.5 954.3L542.1 959.5L542.7 960.2L543.2 943.3L543.8 953.5L544.4 963.2L544.9 954.3L545.5 947.9L546.1 951.2L546.6 950.5L547.2 949.8L547.8 954.9L548.3 948.5L548.9 951.6L549.5 944.3L550.0 961.2L550.6 951.7L551.2 948.4L551.7 935.4L552.3 961.9L552.9 947.4L553.4 951.8L554.0 949.3L554.6 953.7L555.1 943.7L555.7 951.1L556.3 948.0L556.8 942.6L557.4 942.3L558.0 957.8L558.5 946.6L559.1 951.8L559.7 946.3L560.2 958.3L560.8 937.9L561.4 947.6L561.9 958.8L562.5 947.3L563.1 951.7L563.6 952.6L564.2 956.8L564.8 943.6L565.4 965.0L565.9 948.4L566.5 951.5L567.1 958.1L567.6 949.1L568.2 944.6L568.8 971.4L569.3 957.9L569.9 948.6L570.5 950.9L571.0 946.0L571.6 948.4L572.2 949.6L572.7 948.0L573.3 948.1L573.9 953.4L574.4 949.9L575.0 948.1L575.6 947.3L576.1 947.4L576.7 956.2L577.3 963.2L577.8 945.4L578.4 954.2L579.0 946.6L579.5 950.8L580.1 953.2L580.7 943.7L581.2 943.0L581.8 957.7L582.4 958.9L582.9 942.9L583.5 946.6L584.1 946.7L584.6 951.4L585.2 951.4L585.8 950.2L586.3 955.9L586.9 949.5L587.5 952.5L588.0 954.5L588.6 952.4L589.2 950.8L589.7 951.5L590.3 947.3L590.9 961.1L591.5 945.4L592.0 948.0L592.6 954.3L593.2 941.0L593.7 948.9L594.3 947.0L594.9 947.4L595.4 959.8L596.0 944.5L596.6 960.6L597.1 942.2L597.7 960.1L598.3 950.4L598.8 958.7L599.4 949.8L600.0 957.6L600.5 957.6L601.1 952.7L601.7 946.0L602.2 954.3L602.8 976.6L603.4 944.1L603.9 948.2L604.5 949.6L605.1 949.9L605.6 968.3L606.2 956.6L606.8 949.8L607.3 952.1L607.9 953.5L608.5 948.6L609.0 952.6L609.6 959.6L610.2 954.2L610.7 952.1L611.3 949.8L611.9 945.3L612.4 955.5L613.0 940.5L613.6 945.0L614.1 956.0L614.7 953.8L615.3 953.5L615.8 952.5L616.4 945.2L617.0 948.9L617.5 956.1L618.1 961.0L618.7 949.8L619.3 945.4L619.8 953.1L620.4 949.3L621.0 957.6L621.5 940.0L622.1 975.5L622.7 943.6L623.2 950.3L623.8 951.7L624.4 950.6L624.9 942.3L625.5 941.0L626.1 956.7L626.6 945.5L627.2 944.3L627.8 950.3L628.3 950.0L628.9 941.5L629.5 962.5L630.0 947.1L630.6 957.3L631.2 958.2L631.7 949.8L632.3 950.7L632.9 949.6L633.4 944.5L634.0 948.0L634.6 943.3L635.1 949.5L635.7 946.6L636.3 955.1L636.8 943.9L637.4 955.4L638.0 945.9L638.5 944.2L639.1 962.0L639.7 954.1L640.2 964.2L640.8 948.8L641.4 954.6L641.9 956.3L642.5 944.4L643.1 937.0L643.6 955.4L644.2 948.0L644.8 954.9L645.4 941.9L645.9 959.7L646.5 958.6L647.1 957.8L647.6 956.8L648.2 951.2L648.8 949.9L649.3 957.4L649.9 950.0L650.5 954.2L651.0 953.9L651.6 952.6L652.2 952.6L652.7 942.3L653.3 936.7L653.9 945.9L654.4 953.5L655.0 948.4L655.6 938.3L656.1 952.1L656.7 955.6L657.3 956.0L657.8 949.6L658.4 944.4" fill="none" stroke="#deb234" stroke-width="1.3" stroke-linejoin="round"/>
<path d="M91.6 937.2L92.2 948.3L92.7 936.8L93.3 940.7L93.9 945.1L94.4 944.2L95.0 948.5L95.6 949.0L96.1 939.0L96.7 944.4L97.3 949.6L97.8 944.1L98.4 947.1L99.0 953.8L99.5 941.1L100.1 947.2L100.7 953.7L101.2 945.7L101.8 947.6L102.4 957.3L102.9 946.1L103.5 953.8L104.1 951.5L104.6 935.1L105.2 944.6L105.8 947.6L106.4 939.5L106.9 951.1L107.5 955.8L108.1 936.9L108.6 944.2L109.2 947.5L109.8 948.8L110.3 942.8L110.9 940.1L111.5 946.4L112.0 943.7L112.6 942.6L113.2 959.4L113.7 940.4L114.3 943.5L114.9 947.8L115.4 946.0L116.0 947.0L116.6 942.1L117.1 936.6L117.7 936.3L118.3 947.4L118.8 936.6L119.4 951.0L120.0 948.9L120.5 947.8L121.1 940.5L121.7 944.6L122.2 944.6L122.8 948.1L123.4 938.7L123.9 954.8L124.5 949.6L125.1 941.5L125.6 935.3L126.2 961.3L126.8 947.5L127.3 958.9L127.9 947.1L128.5 946.7L129.0 942.2L129.6 939.3L130.2 948.8L130.7 945.7L131.3 940.4L131.9 929.5L132.5 948.5L133.0 943.8L133.6 952.8L134.2 941.5L134.7 950.6L135.3 941.0L135.9 952.9L136.4 953.9L137.0 929.7L137.6 956.8L138.1 955.2L138.7 940.1L139.3 954.7L139.8 955.9L140.4 954.7L141.0 943.6L141.5 937.9L142.1 947.3L142.7 946.3L143.2 937.7L143.8 944.4L144.4 938.8L144.9 939.7L145.5 947.7L146.1 937.3L146.6 942.0L147.2 944.1L147.8 944.5L148.3 944.0L148.9 951.9L149.5 959.2L150.0 936.9L150.6 939.5L151.2 946.0L151.7 941.6L152.3 957.1L152.9 957.5L153.4 951.0L154.0 947.2L154.6 943.7L155.1 946.6L155.7 954.6L156.3 944.7L156.8 940.7L157.4 944.4L158.0 942.7L158.5 936.6L159.1 952.4L159.7 948.3L160.3 971.0L160.8 958.9L161.4 950.3L162.0 949.7L162.5 945.1L163.1 947.7L163.7 953.9L164.2 956.0L164.8 946.4L165.4 946.2L165.9 961.1L166.5 941.2L167.1 953.4L167.6 941.9L168.2 937.0L168.8 941.7L169.3 953.5L169.9 939.9L170.5 938.7L171.0 950.9L171.6 942.4L172.2 948.7L172.7 946.5L173.3 947.1L173.9 944.6L174.4 943.6L175.0 941.8L175.6 946.1L176.1 946.8L176.7 951.4L177.3 929.5L177.8 953.0L178.4 948.7L179.0 952.2L179.5 946.6L180.1 956.1L180.7 947.3L181.2 940.7L181.8 939.9L182.4 944.6L182.9 952.4L183.5 950.3L184.1 946.8L184.6 948.3L185.2 939.6L185.8 943.7L186.4 950.1L186.9 958.5L187.5 946.6L188.1 946.9L188.6 938.9L189.2 952.6L189.8 941.0L190.3 949.2L190.9 944.6L191.5 935.0L192.0 939.1L192.6 952.7L193.2 951.8L193.7 940.1L194.3 938.4L194.9 946.8L195.4 943.9L196.0 948.6L196.6 961.3L197.1 954.7L197.7 952.2L198.3 942.0L198.8 951.4L199.4 945.9L200.0 948.8L200.5 945.6L201.1 943.8L201.7 942.2L202.2 939.7L202.8 942.0L203.4 954.8L203.9 953.0L204.5 942.1L205.1 957.9L205.6 951.7L206.2 944.6L206.8 940.3L207.3 935.7L207.9 934.2L208.5 956.9L209.0 949.8L209.6 952.3L210.2 954.7L210.7 949.7L211.3 944.0L211.9 941.7L212.4 951.5L213.0 949.0L213.6 952.4L214.2 937.7L214.7 938.9L215.3 946.8L215.9 949.6L216.4 940.6L217.0 939.5L217.6 953.4L218.1 956.0L218.7 945.6L219.3 952.4L219.8 939.4L220.4 946.6L221.0 944.1L221.5 950.9L222.1 939.8L222.7 952.0L223.2 948.0L223.8 947.1L224.4 948.5L224.9 952.7L225.5 948.4L226.1 941.5L226.6 945.3L227.2 943.2L227.8 943.2L228.3 942.6L228.9 940.8L229.5 944.5L230.0 952.2L230.6 935.6L231.2 953.0L231.7 957.4L232.3 950.3L232.9 931.9L233.4 952.7L234.0 937.7L234.6 952.3L235.1 950.7L235.7 948.4L236.3 946.0L236.8 946.5L237.4 943.5L238.0 946.1L238.5 946.4L239.1 949.9L239.7 946.2L240.3 945.1L240.8 943.4L241.4 948.8L242.0 945.6L242.5 939.2L243.1 949.4L243.7 944.2L244.2 934.4L244.8 941.1L245.4 939.7L245.9 934.6L246.5 959.5L247.1 949.6L247.6 946.7L248.2 948.8L248.8 966.2L249.3 946.6L249.9 942.5L250.5 943.6L251.0 942.9L251.6 946.1L252.2 958.0L252.7 943.4L253.3 945.5L253.9 943.6L254.4 949.0L255.0 935.8L255.6 944.6L256.1 943.2L256.7 946.3L257.3 959.2L257.8 942.6L258.4 945.8L259.0 943.8L259.5 959.5L260.1 950.8L260.7 937.8L261.2 947.8L261.8 943.4L262.4 959.3L262.9 948.4L263.5 953.8L264.1 941.9L264.6 941.6L265.2 940.8L265.8 938.4L266.3 946.6L266.9 935.9L267.5 946.2L268.1 942.0L268.6 933.6L269.2 947.1L269.8 942.0L270.3 944.5L270.9 945.4L271.5 942.3L272.0 946.5L272.6 945.6L273.2 951.6L273.7 951.5L274.3 952.9L274.9 956.4L275.4 952.6L276.0 955.3L276.6 947.3L277.1 962.9L277.7 954.1L278.3 954.0L278.8 948.0L279.4 952.1L280.0 946.8L280.5 940.0L281.1 942.1L281.7 957.2L282.2 949.5L282.8 942.2L283.4 945.7L283.9 962.0L284.5 958.3L285.1 942.2L285.6 961.0L286.2 940.8L286.8 949.2L287.3 953.0L287.9 942.3L288.5 958.5L289.0 956.1L289.6 956.7L290.2 936.4L290.7 951.1L291.3 956.2L291.9 945.3L292.4 945.7L293.0 948.2L293.6 954.2L294.2 936.2L294.7 953.7L295.3 957.4L295.9 946.8L296.4 940.4L297.0 942.0L297.6 944.0L298.1 951.5L298.7 944.0L299.3 930.6L299.8 944.4L300.4 940.4L301.0 952.2L301.5 947.0L302.1 948.5L302.7 935.3L303.2 945.6L303.8 946.2L304.4 946.8L304.9 962.0L305.5 940.7L306.1 955.2L306.6 947.9L307.2 955.3L307.8 950.1L308.3 947.6L308.9 947.0L309.5 939.4L310.0 950.3L310.6 945.4L311.2 940.8L311.7 946.7L312.3 948.8L312.9 934.1L313.4 939.8L314.0 949.2L314.6 944.2L315.1 953.8L315.7 957.4L316.3 953.2L316.8 940.9L317.4 942.1L318.0 942.0L318.5 949.5L319.1 942.5L319.7 948.2L320.2 943.6L320.8 943.2L321.4 943.3L322.0 953.4L322.5 942.7L323.1 950.2L323.7 956.6L324.2 961.4L324.8 947.3L325.4 946.5L325.9 940.3L326.5 938.7L327.1 949.6L327.6 949.2L328.2 945.9L328.8 946.2L329.3 955.9L329.9 953.2L330.5 947.9L331.0 935.6L331.6 947.5L332.2 945.9L332.7 944.1L333.3 952.5L333.9 949.6L334.4 956.4L335.0 941.1L335.6 954.4L336.1 949.5L336.7 953.4L337.3 938.7L337.8 956.9L338.4 945.0L339.0 959.6L339.5 946.7L340.1 937.3L340.7 948.8L341.2 947.2L341.8 942.2L342.4 937.3L342.9 945.7L343.5 938.4L344.1 943.1L344.6 959.7L345.2 940.2L345.8 939.2L346.3 947.7L346.9 946.3L347.5 942.6L348.1 936.4L348.6 952.5L349.2 941.1L349.8 933.1L350.3 950.4L350.9 944.7L351.5 944.5L352.0 942.9L352.6 944.6L353.2 958.9L353.7 946.6L354.3 953.6L354.9 946.2L355.4 940.6L356.0 950.9L356.6 949.3L357.1 953.3L357.7 944.8L358.3 947.1L358.8 953.8L359.4 951.4L360.0 945.4L360.5 951.3L361.1 958.6L361.7 939.4L362.2 950.7L362.8 948.0L363.4 951.7L363.9 943.8L364.5 952.8L365.1 950.3L365.6 948.9L366.2 938.5L366.8 959.2L367.3 952.4L367.9 937.5L368.5 952.0L369.0 952.7L369.6 950.4L370.2 967.9L370.7 956.7L371.3 949.9L371.9 942.1L372.4 951.0L373.0 948.2L373.6 939.2L374.1 957.3L374.7 951.0L375.3 945.8L375.9 946.4L376.4 957.2L377.0 949.7L377.6 948.5L378.1 944.7L378.7 944.9L379.3 948.1L379.8 952.0L380.4 959.7L381.0 948.0L381.5 949.2L382.1 953.0L382.7 948.8L383.2 948.0L383.8 953.1L384.4 943.0L384.9 942.9L385.5 952.2L386.1 940.3L386.6 941.5L387.2 948.4L387.8 951.3L388.3 946.9L388.9 953.6L389.5 945.9L390.0 946.5L390.6 944.3L391.2 958.5L391.7 941.5L392.3 935.5L392.9 943.4L393.4 937.4L394.0 949.4L394.6 947.8L395.1 941.9L395.7 949.2L396.3 946.0L396.8 961.7L397.4 961.3L398.0 942.6L398.5 960.6L399.1 958.9L399.7 945.7L400.2 942.1L400.8 951.4L401.4 940.9L401.9 945.6L402.5 949.6L403.1 946.5L403.7 947.2L404.2 947.6L404.8 942.8L405.4 946.1L405.9 945.2L406.5 947.1L407.1 938.9L407.6 951.8L408.2 946.9L408.8 945.6L409.3 930.5L409.9 948.0L410.5 941.2L411.0 934.5L411.6 948.0L412.2 943.8L412.7 955.9L413.3 940.2L413.9 940.6L414.4 943.6L415.0 943.9L415.6 947.0L416.1 938.6L416.7 941.8L417.3 945.9L417.8 946.0L418.4 943.5L419.0 963.1L419.5 952.2L420.1 952.4L420.7 946.0L421.2 953.5L421.8 957.9L422.4 966.3L422.9 955.9L423.5 948.4L424.1 947.5L424.6 933.1L425.2 946.0L425.8 944.8L426.3 943.8L426.9 943.1L427.5 946.6L428.0 943.3L428.6 940.9L429.2 952.2L429.8 941.1L430.3 945.0L430.9 952.2L431.5 949.0L432.0 942.2L432.6 939.0L433.2 947.6L433.7 937.5L434.3 942.9L434.9 956.8L435.4 950.8L436.0 941.9L436.6 971.0L437.1 947.9L437.7 942.1L438.3 947.1L438.8 947.3L439.4 954.8L440.0 953.7L440.5 954.0L441.1 946.3L441.7 944.4L442.2 947.3L442.8 963.5L443.4 949.9L443.9 940.0L444.5 940.8L445.1 957.9L445.6 951.2L446.2 942.0L446.8 937.4L447.3 948.3L447.9 940.3L448.5 961.2L449.0 953.6L449.6 950.3L450.2 949.1L450.7 944.8L451.3 940.0L451.9 956.5L452.4 942.3L453.0 953.3L453.6 931.0L454.1 948.1L454.7 953.7L455.3 947.8L455.8 948.8L456.4 937.6L457.0 944.0L457.6 936.9L458.1 960.8L458.7 948.5L459.3 945.5L459.8 944.6L460.4 953.8L461.0 942.8L461.5 938.9L462.1 946.9L462.7 948.9L463.2 955.8L463.8 946.0L464.4 947.3L464.9 944.1L465.5 938.9L466.1 945.6L466.6 945.5L467.2 947.6L467.8 937.3L468.3 953.7L468.9 948.3L469.5 952.1L470.0 939.4L470.6 948.9L471.2 952.0L471.7 942.5L472.3 943.6L472.9 948.5L473.4 945.7L474.0 945.1L474.6 954.6L475.1 944.6L475.7 939.0L476.3 951.8L476.8 945.5L477.4 954.1L478.0 946.8L478.5 946.7L479.1 948.9L479.7 949.2L480.2 939.6L480.8 955.3L481.4 942.6L481.9 950.2L482.5 946.0L483.1 956.2L483.7 945.2L484.2 952.6L484.8 943.3L485.4 954.4L485.9 953.3L486.5 948.5L487.1 947.7L487.6 949.0L488.2 939.8L488.8 948.1L489.3 944.8L489.9 956.4L490.5 956.8L491.0 952.0L491.6 954.8L492.2 956.7L492.7 951.2L493.3 954.2L493.9 937.8L494.4 944.8L495.0 947.1L495.6 958.0L496.1 937.6L496.7 935.5L497.3 951.1L497.8 950.3L498.4 948.4L499.0 939.9L499.5 962.6L500.1 950.1L500.7 955.0L501.2 943.7L501.8 942.0L502.4 951.4L502.9 939.0L503.5 944.4L504.1 952.7L504.6 949.5L505.2 937.3L505.8 937.7L506.3 943.6L506.9 939.6L507.5 946.1L508.0 943.3L508.6 935.1L509.2 944.8L509.7 948.8L510.3 951.6L510.9 956.7L511.5 954.6L512.0 952.8L512.6 954.9L513.2 945.1L513.7 958.4L514.3 944.5L514.9 954.4L515.4 941.4L516.0 939.7L516.6 935.2L517.1 948.5L517.7 951.8L518.3 940.1L518.8 945.4L519.4 948.5L520.0 939.3L520.5 935.5L521.1 941.6L521.7 949.0L522.2 947.3L522.8 950.2L523.4 933.6L523.9 951.6L524.5 953.0L525.1 943.0L525.6 945.6L526.2 953.9L526.8 955.5L527.3 940.1L527.9 954.7L528.5 951.2L529.0 938.9L529.6 934.1L530.2 943.7L530.7 945.7L531.3 943.4L531.9 941.7L532.4 935.4L533.0 946.4L533.6 951.2L534.1 945.1L534.7 942.7L535.3 951.9L535.8 947.3L536.4 950.3L537.0 955.2L537.6 951.0L538.1 956.4L538.7 946.8L539.3 942.8L539.8 943.5L540.4 950.2L541.0 953.0L541.5 954.1L542.1 938.9L542.7 947.7L543.2 951.6L543.8 947.3L544.4 952.3L544.9 961.9L545.5 951.9L546.1 934.6L546.6 949.6L547.2 941.2L547.8 953.8L548.3 930.8L548.9 945.9L549.5 954.0L550.0 948.3L550.6 946.5L551.2 942.3L551.7 946.5L552.3 948.0L552.9 945.7L553.4 944.4L554.0 946.1L554.6 945.4L555.1 937.6L555.7 943.7L556.3 952.6L556.8 933.7L557.4 940.6L558.0 950.8L558.5 953.1L559.1 942.3L559.7 952.4L560.2 937.1L560.8 945.7L561.4 947.2L561.9 949.5L562.5 945.3L563.1 948.8L563.6 961.2L564.2 939.9L564.8 955.6L565.4 947.3L565.9 963.1L566.5 936.5L567.1 952.1L567.6 941.9L568.2 941.3L568.8 960.4L569.3 955.2L569.9 951.0L570.5 950.6L571.0 949.1L571.6 944.5L572.2 944.9L572.7 950.5L573.3 942.1L573.9 946.5L574.4 942.1L575.0 945.8L575.6 946.0L576.1 947.1L576.7 946.1L577.3 947.1L577.8 949.1L578.4 955.8L579.0 939.6L579.5 939.7L580.1 948.3L580.7 941.9L581.2 950.5L581.8 945.8L582.4 947.3L582.9 941.6L583.5 942.6L584.1 944.7L584.6 947.1L585.2 940.3L585.8 943.2L586.3 947.4L586.9 952.1L587.5 943.1L588.0 944.0L588.6 946.4L589.2 941.1L589.7 950.8L590.3 942.2L590.9 944.7L591.5 949.4L592.0 935.0L592.6 946.9L593.2 940.9L593.7 940.2L594.3 949.3L594.9 948.7L595.4 951.7L596.0 944.5L596.6 954.3L597.1 941.5L597.7 950.6L598.3 954.3L598.8 941.0L599.4 950.0L600.0 958.0L600.5 941.6L601.1 962.9L601.7 956.4L602.2 941.2L602.8 952.7L603.4 944.6L603.9 940.9L604.5 945.9L605.1 938.3L605.6 952.3L606.2 946.6L606.8 962.7L607.3 949.0L607.9 937.1L608.5 946.9L609.0 945.4L609.6 962.5L610.2 959.6L610.7 944.6L611.3 935.9L611.9 936.4L612.4 945.6L613.0 948.4L613.6 947.1L614.1 943.6L614.7 955.5L615.3 940.5L615.8 952.6L616.4 956.7L617.0 962.6L617.5 940.7L618.1 940.0L618.7 946.3L619.3 936.3L619.8 951.3L620.4 947.2L621.0 953.0L621.5 946.1L622.1 963.7L622.7 943.7L623.2 942.9L623.8 957.3L624.4 950.3L624.9 938.0L625.5 949.3L626.1 945.9L626.6 939.9L627.2 952.8L627.8 938.6L628.3 951.8L628.9 949.1L629.5 958.5L630.0 950.4L630.6 959.8L631.2 950.2L631.7 949.8L632.3 958.0L632.9 937.2L633.4 941.8L634.0 942.5L634.6 950.0L635.1 948.3L635.7 950.3L636.3 937.6L636.8 952.7L637.4 954.8L638.0 935.2L638.5 945.8L639.1 953.9L639.7 950.0L640.2 946.7L640.8 943.6L641.4 947.6L641.9 952.7L642.5 939.5L643.1 955.9L643.6 954.4L644.2 940.5L644.8 953.4L645.4 948.1L645.9 949.4L646.5 940.2L647.1 949.8L647.6 950.2L648.2 945.2L648.8 942.4L649.3 951.0L649.9 945.8L650.5 953.3L651.0 948.6L651.6 943.7L652.2 954.0L652.7 943.2L653.3 940.9L653.9 957.9L654.4 949.6L655.0 946.9L655.6 945.3L656.1 950.1L656.7 951.3L657.3 940.3L657.8 942.1L658.4 946.4" fill="none" stroke="#7b3294" stroke-width="1.3" stroke-linejoin="round"/>
<path d="M91.6 922.6L92.2 937.4L92.7 942.5L93.3 946.3L93.9 938.9L94.4 933.4L95.0 945.7L95.6 942.0L96.1 955.5L96.7 950.0L97.3 945.3L97.8 943.7L98.4 948.6L99.0 951.1L99.5 950.1L100.1 954.7L100.7 950.9L101.2 947.3L101.8 941.8L102.4 935.3L102.9 943.3L103.5 952.3L104.1 949.4L104.6 946.6L105.2 937.7L105.8 953.4L106.4 954.2L106.9 947.8L107.5 934.8L108.1 938.6L108.6 944.3L109.2 968.8L109.8 940.6L110.3 942.3L110.9 943.9L111.5 938.7L112.0 941.7L112.6 942.8L113.2 946.5L113.7 943.9L114.3 941.1L114.9 950.9L115.4 950.8L116.0 954.9L116.6 944.2L117.1 947.6L117.7 950.1L118.3 948.2L118.8 942.1L119.4 960.7L120.0 958.2L120.5 947.7L121.1 945.4L121.7 943.5L122.2 946.3L122.8 958.4L123.4 948.5L123.9 944.9L124.5 942.8L125.1 941.2L125.6 934.6L126.2 946.9L126.8 944.6L127.3 947.6L127.9 956.4L128.5 950.5L129.0 948.9L129.6 947.7L130.2 951.6L130.7 938.7L131.3 948.0L131.9 952.5L132.5 952.7L133.0 943.5L133.6 946.5L134.2 950.3L134.7 950.3L135.3 948.5L135.9 941.3L136.4 967.2L137.0 952.6L137.6 947.3L138.1 949.8L138.7 935.9L139.3 943.7L139.8 961.9L140.4 949.5L141.0 951.1L141.5 941.2L142.1 944.9L142.7 943.4L143.2 949.3L143.8 945.8L144.4 936.0L144.9 945.0L145.5 956.6L146.1 948.8L146.6 942.4L147.2 946.6L147.8 946.9L148.3 940.7L148.9 949.7L149.5 955.3L150.0 948.1L150.6 952.7L151.2 952.4L151.7 962.9L152.3 953.8L152.9 947.4L153.4 945.9L154.0 952.8L154.6 950.6L155.1 953.5L155.7 945.4L156.3 947.3L156.8 944.2L157.4 942.2L158.0 945.3L158.5 944.3L159.1 942.4L159.7 948.3L160.3 944.8L160.8 940.6L161.4 949.7L162.0 944.6L162.5 945.0L163.1 942.8L163.7 943.7L164.2 951.7L164.8 949.5L165.4 945.1L165.9 943.6L166.5 950.5L167.1 943.5L167.6 949.3L168.2 952.3L168.8 952.2L169.3 950.3L169.9 940.3L170.5 937.2L171.0 951.3L171.6 954.4L172.2 946.7L172.7 950.4L173.3 948.4L173.9 947.6L174.4 942.0L175.0 942.9L175.6 952.8L176.1 953.8L176.7 947.3L177.3 941.6L177.8 953.6L178.4 936.9L179.0 948.3L179.5 940.5L180.1 952.0L180.7 948.7L181.2 952.7L181.8 945.3L182.4 948.3L182.9 953.3L183.5 945.3L184.1 943.1L184.6 948.6L185.2 941.7L185.8 954.5L186.4 947.6L186.9 945.3L187.5 945.8L188.1 948.2L188.6 958.2L189.2 946.3L189.8 947.4L190.3 955.2L190.9 941.6L191.5 950.5L192.0 948.5L192.6 950.9L193.2 948.3L193.7 952.6L194.3 944.0L194.9 941.6L195.4 953.9L196.0 942.8L196.6 950.6L197.1 952.8L197.7 953.6L198.3 939.8L198.8 951.1L199.4 930.6L200.0 943.2L200.5 968.8L201.1 940.6L201.7 945.5L202.2 948.2L202.8 941.5L203.4 949.7L203.9 946.1L204.5 943.5L205.1 955.4L205.6 945.8L206.2 952.7L206.8 944.6L207.3 946.3L207.9 948.1L208.5 956.0L209.0 951.7L209.6 956.4L210.2 943.1L210.7 942.8L211.3 945.0L211.9 959.0L212.4 950.2L213.0 943.2L213.6 944.6L214.2 943.3L214.7 943.3L215.3 950.6L215.9 945.8L216.4 948.5L217.0 956.1L217.6 947.0L218.1 945.7L218.7 937.0L219.3 943.6L219.8 944.8L220.4 947.0L221.0 955.6L221.5 948.7L222.1 941.5L222.7 950.2L223.2 951.8L223.8 936.9L224.4 945.7L224.9 955.2L225.5 945.0L226.1 954.3L226.6 933.6L227.2 944.7L227.8 946.9L228.3 943.1L228.9 949.6L229.5 947.2L230.0 947.8L230.6 944.7L231.2 952.0L231.7 958.1L232.3 956.8L232.9 939.3L233.4 951.7L234.0 940.8L234.6 956.3L235.1 945.5L235.7 940.8L236.3 945.1L236.8 950.9L237.4 945.7L238.0 944.8L238.5 934.9L239.1 947.1L239.7 946.7L240.3 936.0L240.8 951.6L241.4 940.4L242.0 946.7L242.5 940.4L243.1 937.5L243.7 940.8L244.2 952.1L244.8 944.2L245.4 937.7L245.9 945.4L246.5 941.1L247.1 940.2L247.6 935.8L248.2 945.5L248.8 952.9L249.3 949.9L249.9 955.1L250.5 941.7L251.0 968.8L251.6 943.8L252.2 949.0L252.7 947.4L253.3 951.1L253.9 944.2L254.4 956.2L255.0 946.3L255.6 941.1L256.1 954.8L256.7 943.7L257.3 932.2L257.8 940.8L258.4 935.7L259.0 946.2L259.5 945.4L260.1 943.6L260.7 955.4L261.2 941.1L261.8 948.6L262.4 950.3L262.9 950.4L263.5 939.5L264.1 941.1L264.6 945.3L265.2 944.4L265.8 941.0L266.3 952.9L266.9 950.6L267.5 949.7L268.1 939.2L268.6 944.4L269.2 947.9L269.8 946.7L270.3 960.5L270.9 948.3L271.5 949.6L272.0 935.6L272.6 945.2L273.2 952.3L273.7 950.9L274.3 940.8L274.9 940.2L275.4 952.5L276.0 954.7L276.6 932.8L277.1 951.8L277.7 950.7L278.3 943.8L278.8 937.9L279.4 939.1L280.0 949.6L280.5 943.6L281.1 951.0L281.7 949.9L282.2 955.6L282.8 932.5L283.4 944.0L283.9 947.0L284.5 949.6L285.1 938.9L285.6 948.5L286.2 946.2L286.8 945.8L287.3 946.6L287.9 944.9L288.5 950.1L289.0 952.5L289.6 950.2L290.2 949.6L290.7 950.7L291.3 951.6L291.9 949.8L292.4 954.7L293.0 942.4L293.6 946.0L294.2 944.3L294.7 943.4L295.3 946.6L295.9 960.6L296.4 941.1L297.0 946.5L297.6 945.8L298.1 949.7L298.7 943.1L299.3 947.5L299.8 954.3L300.4 947.9L301.0 952.6L301.5 962.4L302.1 955.3L302.7 930.6L303.2 953.2L303.8 953.0L304.4 940.5L304.9 948.6L305.5 948.4L306.1 948.8L306.6 950.7L307.2 949.8L307.8 954.2L308.3 945.7L308.9 940.9L309.5 941.0L310.0 941.9L310.6 943.3L311.2 930.6L311.7 952.1L312.3 949.8L312.9 950.9L313.4 942.3L314.0 946.4L314.6 940.1L315.1 948.1L315.7 943.3L316.3 945.5L316.8 947.3L317.4 945.6L318.0 943.5L318.5 950.7L319.1 953.0L319.7 950.0L320.2 942.8L320.8 953.2L321.4 940.9L322.0 941.1L322.5 942.9L323.1 943.2L323.7 948.0L324.2 947.6L324.8 940.2L325.4 938.9L325.9 950.2L326.5 945.4L327.1 937.5L327.6 943.6L328.2 938.2L328.8 937.4L329.3 950.5L329.9 943.8L330.5 939.2L331.0 941.0L331.6 962.3L332.2 943.2L332.7 948.9L333.3 954.3L333.9 945.2L334.4 945.6L335.0 939.4L335.6 952.0L336.1 949.7L336.7 948.3L337.3 944.8L337.8 952.4L338.4 949.0L339.0 942.9L339.5 955.7L340.1 947.7L340.7 951.7L341.2 950.5L341.8 945.2L342.4 946.1L342.9 946.9L343.5 947.9L344.1 941.1L344.6 948.1L345.2 930.6L345.8 952.4L346.3 946.2L346.9 954.8L347.5 955.9L348.1 950.5L348.6 958.7L349.2 949.1L349.8 944.7L350.3 951.9L350.9 951.3L351.5 945.0L352.0 949.4L352.6 943.5L353.2 949.5L353.7 941.4L354.3 949.1L354.9 967.2L355.4 940.1L356.0 947.9L356.6 965.2L357.1 938.9L357.7 946.2L358.3 940.5L358.8 930.6L359.4 949.9L360.0 951.7L360.5 942.7L361.1 956.5L361.7 941.3L362.2 952.9L362.8 936.9L363.4 938.3L363.9 951.8L364.5 951.5L365.1 943.3L365.6 949.6L366.2 953.9L366.8 948.7L367.3 940.4L367.9 944.5L368.5 952.1L369.0 938.8L369.6 943.3L370.2 938.9L370.7 950.2L371.3 935.7L371.9 941.9L372.4 948.8L373.0 941.2L373.6 944.8L374.1 957.5L374.7 949.9L375.3 948.0L375.9 943.7L376.4 955.6L377.0 947.3L377.6 960.6L378.1 948.2L378.7 946.3L379.3 951.4L379.8 948.1L380.4 948.2L381.0 946.6L381.5 954.6L382.1 945.0L382.7 947.0L383.2 943.8L383.8 947.0L384.4 940.7L384.9 949.2L385.5 955.6L386.1 948.0L386.6 937.1L387.2 944.9L387.8 952.2L388.3 942.5L388.9 949.8L389.5 944.0L390.0 945.0L390.6 950.1L391.2 940.8L391.7 943.7L392.3 952.1L392.9 944.3L393.4 950.5L394.0 947.8L394.6 941.9L395.1 940.0L395.7 956.6L396.3 941.4L396.8 949.2L397.4 956.1L398.0 942.5L398.5 937.8L399.1 948.9L399.7 944.1L400.2 943.5L400.8 941.6L401.4 936.6L401.9 937.5L402.5 944.5L403.1 950.4L403.7 947.8L404.2 949.2L404.8 947.2L405.4 944.7L405.9 948.0L406.5 933.9L407.1 942.9L407.6 951.5L408.2 930.6L408.8 943.6L409.3 946.1L409.9 955.5L410.5 942.8L411.0 931.8L411.6 943.7L412.2 941.5L412.7 945.9L413.3 941.2L413.9 947.9L414.4 951.0L415.0 941.8L415.6 939.2L416.1 947.5L416.7 943.0L417.3 941.3L417.8 942.1L418.4 948.0L419.0 937.3L419.5 936.8L420.1 945.6L420.7 951.2L421.2 950.2L421.8 945.9L422.4 943.2L422.9 949.6L423.5 940.2L424.1 957.1L424.6 937.2L425.2 946.8L425.8 957.1L426.3 946.8L426.9 945.3L427.5 937.9L428.0 950.5L428.6 944.2L429.2 949.9L429.8 959.4L430.3 950.0L430.9 940.2L431.5 957.1L432.0 952.6L432.6 943.6L433.2 937.8L433.7 955.9L434.3 943.9L434.9 949.5L435.4 954.4L436.0 945.8L436.6 946.8L437.1 941.4L437.7 945.0L438.3 948.8L438.8 945.2L439.4 945.5L440.0 955.2L440.5 944.0L441.1 945.5L441.7 944.0L442.2 938.4L442.8 951.0L443.4 953.2L443.9 950.9L444.5 952.2L445.1 944.4L445.6 939.5L446.2 954.7L446.8 945.4L447.3 957.3L447.9 946.8L448.5 947.9L449.0 936.6L449.6 942.1L450.2 942.3L450.7 937.8L451.3 950.3L451.9 940.1L452.4 949.0L453.0 947.4L453.6 933.0L454.1 958.4L454.7 941.9L455.3 949.9L455.8 938.9L456.4 950.6L457.0 943.6L457.6 953.9L458.1 938.1L458.7 951.3L459.3 952.6L459.8 968.4L460.4 960.8L461.0 939.6L461.5 956.8L462.1 955.9L462.7 952.3L463.2 945.9L463.8 945.2L464.4 947.7L464.9 934.4L465.5 949.7L466.1 948.2L466.6 946.3L467.2 942.0L467.8 940.9L468.3 943.3L468.9 939.9L469.5 943.2L470.0 930.6L470.6 947.3L471.2 948.1L471.7 944.3L472.3 943.5L472.9 943.4L473.4 937.2L474.0 949.1L474.6 948.6L475.1 951.4L475.7 958.2L476.3 933.6L476.8 945.2L477.4 944.3L478.0 951.0L478.5 948.0L479.1 942.1L479.7 936.9L480.2 946.5L480.8 944.4L481.4 956.2L481.9 946.7L482.5 944.1L483.1 958.3L483.7 953.4L484.2 947.3L484.8 948.4L485.4 955.1L485.9 953.7L486.5 939.9L487.1 957.5L487.6 936.0L488.2 954.6L488.8 946.9L489.3 946.0L489.9 953.1L490.5 943.5L491.0 949.7L491.6 946.8L492.2 945.6L492.7 945.1L493.3 944.1L493.9 945.7L494.4 947.8L495.0 942.7L495.6 946.3L496.1 952.1L496.7 947.1L497.3 941.3L497.8 950.3L498.4 949.4L499.0 943.4L499.5 955.7L500.1 942.2L500.7 951.1L501.2 948.6L501.8 947.2L502.4 948.5L502.9 943.8L503.5 937.6L504.1 951.4L504.6 939.6L505.2 934.8L505.8 957.7L506.3 945.4L506.9 935.0L507.5 945.8L508.0 950.3L508.6 951.0L509.2 958.2L509.7 939.7L510.3 940.4L510.9 948.4L511.5 944.5L512.0 950.3L512.6 954.4L513.2 945.6L513.7 935.6L514.3 942.6L514.9 950.9L515.4 941.9L516.0 951.8L516.6 949.5L517.1 940.7L517.7 946.6L518.3 949.0L518.8 946.8L519.4 949.4L520.0 948.7L520.5 948.3L521.1 941.8L521.7 949.5L522.2 946.7L522.8 944.7L523.4 946.2L523.9 952.6L524.5 958.0L525.1 945.8L525.6 963.9L526.2 949.3L526.8 949.1L527.3 957.2L527.9 945.2L528.5 949.6L529.0 957.5L529.6 937.6L530.2 946.3L530.7 943.5L531.3 942.2L531.9 949.3L532.4 952.3L533.0 951.7L533.6 951.9L534.1 943.2L534.7 945.5L535.3 942.3L535.8 956.9L536.4 954.6L537.0 945.4L537.6 955.7L538.1 942.4L538.7 945.5L539.3 947.8L539.8 952.8L540.4 948.2L541.0 968.8L541.5 945.4L542.1 944.5L542.7 945.2L543.2 958.3L543.8 942.3L544.4 951.2L544.9 938.4L545.5 940.6L546.1 952.2L546.6 945.8L547.2 940.5L547.8 940.3L548.3 943.5L548.9 949.5L549.5 941.0L550.0 953.4L550.6 946.0L551.2 941.9L551.7 945.2L552.3 946.2L552.9 947.1L553.4 947.7L554.0 943.6L554.6 946.1L555.1 951.6L555.7 941.5L556.3 960.5L556.8 953.8L557.4 941.3L558.0 958.3L558.5 954.4L559.1 952.5L559.7 941.3L560.2 941.5L560.8 936.5L561.4 949.4L561.9 953.7L562.5 949.0L563.1 952.5L563.6 940.5L564.2 950.7L564.8 954.1L565.4 947.0L565.9 954.0L566.5 946.2L567.1 947.4L567.6 944.2L568.2 953.0L568.8 952.6L569.3 944.4L569.9 950.4L570.5 957.6L571.0 963.2L571.6 948.0L572.2 951.9L572.7 940.3L573.3 949.9L573.9 949.6L574.4 947.1L575.0 936.7L575.6 952.3L576.1 948.5L576.7 949.0L577.3 949.7L577.8 955.0L578.4 952.0L579.0 951.8L579.5 946.5L580.1 957.1L580.7 944.9L581.2 947.3L581.8 936.6L582.4 948.1L582.9 954.1L583.5 950.5L584.1 940.6L584.6 944.7L585.2 952.3L585.8 942.6L586.3 944.4L586.9 949.8L587.5 945.7L588.0 955.2L588.6 947.0L589.2 940.6L589.7 950.8L590.3 943.8L590.9 933.0L591.5 939.0L592.0 948.0L592.6 956.9L593.2 939.7L593.7 946.5L594.3 953.6L594.9 950.2L595.4 955.6L596.0 944.3L596.6 942.0L597.1 937.9L597.7 954.6L598.3 946.9L598.8 937.5L599.4 946.0L600.0 950.4L600.5 943.3L601.1 952.0L601.7 946.9L602.2 942.5L602.8 948.4L603.4 949.6L603.9 939.7L604.5 941.1L605.1 947.8L605.6 951.1L606.2 954.3L606.8 948.9L607.3 950.5L607.9 951.4L608.5 930.7L609.0 945.6L609.6 945.3L610.2 942.4L610.7 951.1L611.3 950.8L611.9 944.0L612.4 948.7L613.0 938.3L613.6 948.4L614.1 946.7L614.7 940.2L615.3 945.3L615.8 948.4L616.4 954.3L617.0 943.5L617.5 948.6L618.1 949.3L618.7 938.3L619.3 947.3L619.8 947.0L620.4 955.5L621.0 949.2L621.5 947.4L622.1 963.4L622.7 946.9L623.2 939.4L623.8 948.1L624.4 942.5L624.9 950.3L625.5 942.8L626.1 938.7L626.6 953.4L627.2 953.3L627.8 940.2L628.3 939.6L628.9 939.9L629.5 955.2L630.0 940.5L630.6 956.3L631.2 949.1L631.7 954.5L632.3 945.4L632.9 950.0L633.4 933.7L634.0 931.0L634.6 933.6L635.1 939.2L635.7 949.8L636.3 945.9L636.8 941.9L637.4 945.7L638.0 954.8L638.5 945.8L639.1 951.9L639.7 947.6L640.2 943.6L640.8 939.6L641.4 947.9L641.9 947.4L642.5 936.5L643.1 956.1L643.6 960.3L644.2 947.1L644.8 943.6L645.4 933.7L645.9 943.2L646.5 948.6L647.1 944.0L647.6 954.3L648.2 950.4L648.8 944.3L649.3 943.7L649.9 948.9L650.5 944.2L651.0 947.0L651.6 959.1L652.2 945.3L652.7 947.4L653.3 956.7L653.9 945.5L654.4 946.6L655.0 942.5L655.6 943.3L656.1 950.9L656.7 952.6L657.3 950.2L657.8 947.0L658.4 944.1" fill="none" stroke="#7db535" stroke-width="1.3" stroke-linejoin="round"/>
</g>
<text x="91.60" y="1022.00" text-anchor="middle" font-size="23" fill="#1e1e1e">0</text>
<text x="233.30" y="1022.00" text-anchor="middle" font-size="23" fill="#1e1e1e">500</text>
<text x="375.00" y="1022.00" text-anchor="middle" font-size="23" fill="#1e1e1e">1000</text>
<text x="516.70" y="1022.00" text-anchor="middle" font-size="23" fill="#1e1e1e">1500</text>
<text x="658.40" y="1022.00" text-anchor="middle" font-size="23" fill="#1e1e1e">2000</text>
<text x="85.00" y="1000.70" text-anchor="end" font-size="23" fill="#1e1e1e">-160</text>
<text x="85.00" y="955.83" text-anchor="end" font-size="23" fill="#1e1e1e">-140</text>
<text x="85.00" y="910.97" text-anchor="end" font-size="23" fill="#1e1e1e">-120</text>
<text x="85.00" y="866.10" text-anchor="end" font-size="23" fill="#1e1e1e">-100</text>
<text x="85.00" y="821.23" text-anchor="end" font-size="23" fill="#1e1e1e">-80</text>
<text x="85.00" y="776.37" text-anchor="end" font-size="23" fill="#1e1e1e">-60</text>
<text x="85.00" y="731.50" text-anchor="end" font-size="23" fill="#1e1e1e">-40</text>
<rect x="247.5" y="28.8" width="257.9" height="64.2" fill="#fff" stroke="#1e1e1e" stroke-width="2.7"/>
<path d="M250.3 45.400000000000006H305.2" stroke="#3d7ec4" stroke-width="4.6"/>
<path d="M250.3 76.6H305.2" stroke="#d95420" stroke-width="4.6" stroke-dasharray="18.6 4.2 9.4 4.2"/>
<rect x="247.5" y="387.3" width="257.9" height="64.2" fill="#fff" stroke="#1e1e1e" stroke-width="2.7"/>
<path d="M250.3 403.90000000000003H305.2" stroke="#3d7ec4" stroke-width="4.6"/>
<path d="M250.3 435.1H305.2" stroke="#d95420" stroke-width="4.6" stroke-dasharray="18.6 4.2 9.4 4.2"/>
<rect x="138.6" y="746.6" width="431.8" height="74.9" fill="#fff" stroke="#1e1e1e" stroke-width="2.8"/>
<path d="M141.2 759.7H170.6" stroke="#3d7ec4" stroke-width="4.4"/>
<path d="M141.2 783.9H170.6" stroke="#d95420" stroke-width="4.4"/>
<path d="M141.2 808.1H170.6" stroke="#deb234" stroke-width="4.4"/>
<path d="M330.3 759.7H359.7" stroke="#7b3294" stroke-width="4.4"/>
<path d="M330.3 783.9H359.7" stroke="#7db535" stroke-width="4.4"/>
<text x="308.35" y="54.70" font-size="25" font-weight="normal" fill="#141414" textLength="194.53" lengthAdjust="spacingAndGlyphs">Simulation Result</text>
<text x="307.61" y="85.80" font-size="25" font-weight="normal" fill="#141414" textLength="185.24" lengthAdjust="spacingAndGlyphs">Experiment Data</text>
<text x="308.35" y="413.20" font-size="25" font-weight="normal" fill="#141414" textLength="194.53" lengthAdjust="spacingAndGlyphs">Simulation Result</text>
<text x="307.61" y="444.30" font-size="25" font-weight="normal" fill="#141414" textLength="185.24" lengthAdjust="spacingAndGlyphs">Experiment Data</text>
<text x="320.19" y="352.40" font-size="26" font-weight="normal" fill="#1e1e1e" textLength="111.92" lengthAdjust="spacingAndGlyphs">Time (ns)</text>
<text x="310.24" y="700.00" font-size="26" font-weight="normal" fill="#1e1e1e" textLength="132.74" lengthAdjust="spacingAndGlyphs">Voltage (V)</text>
<text x="272.61" y="1054.10" font-size="26" font-weight="normal" fill="#1e1e1e" textLength="204.79" lengthAdjust="spacingAndGlyphs">Frequency (MHz)</text>
<text x="172.39" y="767.20" font-size="19.3" font-weight="normal" fill="#141414" textLength="151.37" lengthAdjust="spacingAndGlyphs">Simulation Result</text>
<text x="172.39" y="791.20" font-size="19.3" font-weight="normal" fill="#141414" textLength="144.38" lengthAdjust="spacingAndGlyphs">Experiment Data</text>
<text x="172.38" y="815.40" font-size="19.3" font-weight="normal" fill="#141414" textLength="134.51" lengthAdjust="spacingAndGlyphs">Electrical Noise</text>
<text x="361.32" y="767.10" font-size="19.3" font-weight="normal" fill="#141414" textLength="207.48" lengthAdjust="spacingAndGlyphs">Intensity Noise (Laser1)</text>
<text x="361.32" y="791.30" font-size="19.3" font-weight="normal" fill="#141414" textLength="207.48" lengthAdjust="spacingAndGlyphs">Intensity Noise (Laser2)</text>
<text x="4.76" y="19.60" font-size="23.4" font-weight="bold" fill="#141414" textLength="30.61" lengthAdjust="spacingAndGlyphs">(a)</text>
<text x="3.49" y="366.30" font-size="23.4" font-weight="bold" fill="#141414" textLength="31.40" lengthAdjust="spacingAndGlyphs">(b)</text>
<text x="2.17" y="721.60" font-size="23.4" font-weight="bold" fill="#141414" textLength="30.50" lengthAdjust="spacingAndGlyphs">(c)</text>
<text transform="translate(36.20 221.26) rotate(-90)" x="0" y="0" font-size="26" fill="#1e1e1e" textLength="133.96" lengthAdjust="spacingAndGlyphs">Voltage (V)</text>
<text transform="translate(30.90 564.38) rotate(-90)" x="0" y="0" font-size="26" fill="#1e1e1e" textLength="123.23" lengthAdjust="spacingAndGlyphs">Probability</text>
<text transform="translate(30.20 971.50) rotate(-90)" x="0" y="0" font-size="26" fill="#1e1e1e" textLength="185.91" lengthAdjust="spacingAndGlyphs">Power (dBm Hz</text>
<text transform="translate(16.90 786.33) rotate(-90)" x="0" y="0" font-size="18.5" fill="#1e1e1e" textLength="16.06" lengthAdjust="spacingAndGlyphs">-1</text>
<text transform="translate(30.20 766.32) rotate(-90)" x="0" y="0" font-size="26" fill="#1e1e1e" textLength="7.57" lengthAdjust="spacingAndGlyphs">)</text></svg></body></html>
